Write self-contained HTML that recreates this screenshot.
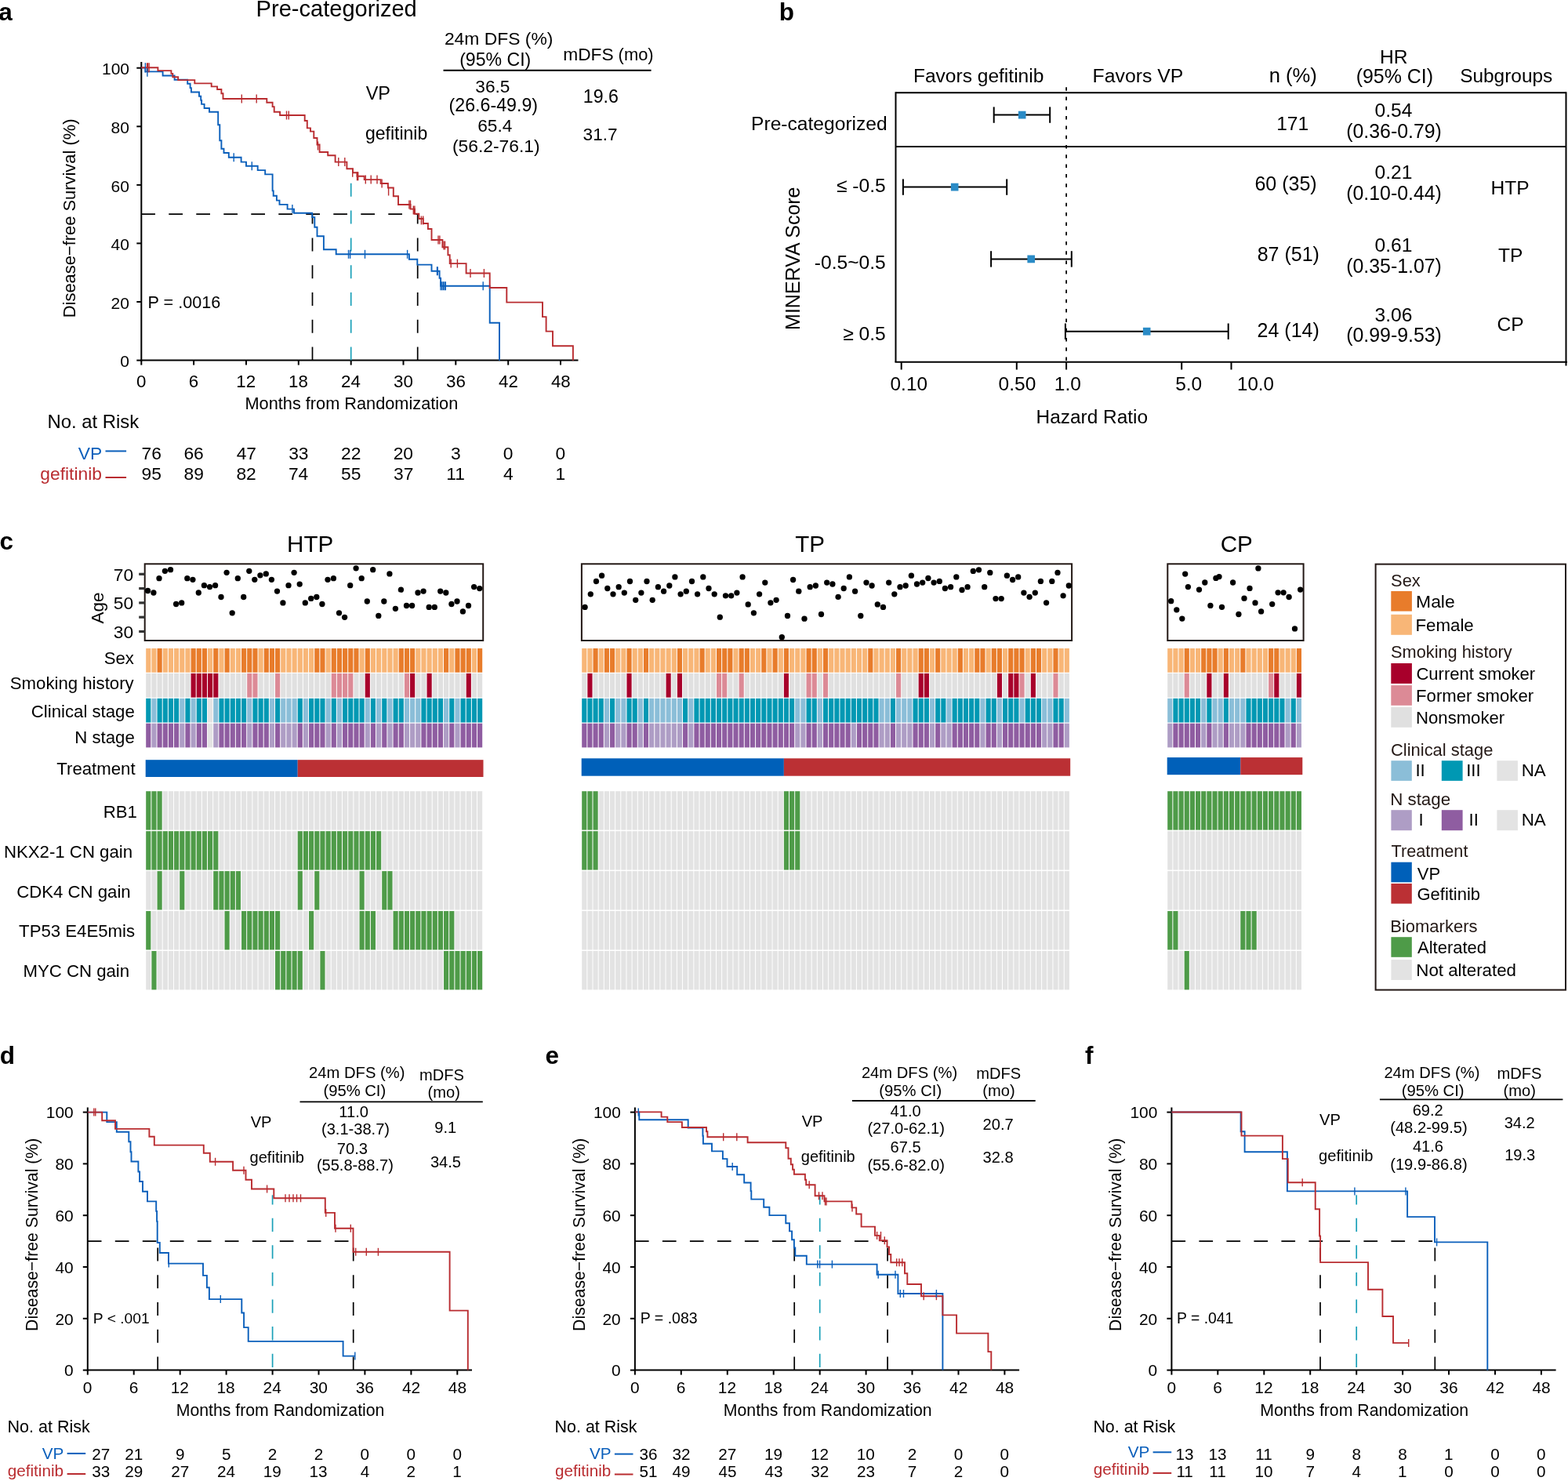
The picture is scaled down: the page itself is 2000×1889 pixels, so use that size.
<!DOCTYPE html>
<html><head><meta charset="utf-8"><title>Figure</title>
<style>html,body{margin:0;padding:0;background:#fff;}svg{display:block;}</style>
</head><body>
<svg width="2000" height="1889" viewBox="0 0 2000 1889" font-family='"Liberation Sans", Arial, sans-serif'>
<rect width="2000" height="1889" fill="#fff"/>
<text x="-1.8" y="25.5" font-size="31.5" font-weight="bold">a</text>
<text x="326.6" y="20.5" font-size="29.07">Pre-categorized</text>
<line x1="180.3" y1="79.0" x2="180.3" y2="460.5" stroke="#000" stroke-width="2"/>
<line x1="179.4" y1="459.6" x2="737.5" y2="459.6" stroke="#000" stroke-width="2"/>
<line x1="174.3" y1="459.6" x2="180.3" y2="459.6" stroke="#000" stroke-width="2"/>
<text x="153.3" y="468.3" font-size="21">0</text>
<line x1="174.3" y1="385.0" x2="180.3" y2="385.0" stroke="#000" stroke-width="2"/>
<text x="141.6" y="393.7" font-size="21">20</text>
<line x1="174.3" y1="310.4" x2="180.3" y2="310.4" stroke="#000" stroke-width="2"/>
<text x="141.6" y="319.1" font-size="21">40</text>
<line x1="174.3" y1="235.9" x2="180.3" y2="235.9" stroke="#000" stroke-width="2"/>
<text x="141.6" y="244.6" font-size="21">60</text>
<line x1="174.3" y1="161.3" x2="180.3" y2="161.3" stroke="#000" stroke-width="2"/>
<text x="141.6" y="170.0" font-size="21">80</text>
<line x1="174.3" y1="86.7" x2="180.3" y2="86.7" stroke="#000" stroke-width="2"/>
<text x="130.0" y="95.4" font-size="21">100</text>
<line x1="180.3" y1="459.6" x2="180.3" y2="465.6" stroke="#000" stroke-width="2"/>
<text x="174.1" y="494.4" font-size="22.3">0</text>
<line x1="247.1" y1="459.6" x2="247.1" y2="465.6" stroke="#000" stroke-width="2"/>
<text x="240.8" y="494.4" font-size="22.3">6</text>
<line x1="314.0" y1="459.6" x2="314.0" y2="465.6" stroke="#000" stroke-width="2"/>
<text x="301.3" y="494.4" font-size="22.3">12</text>
<line x1="380.8" y1="459.6" x2="380.8" y2="465.6" stroke="#000" stroke-width="2"/>
<text x="368.1" y="494.4" font-size="22.3">18</text>
<line x1="447.7" y1="459.6" x2="447.7" y2="465.6" stroke="#000" stroke-width="2"/>
<text x="435.1" y="494.4" font-size="22.3">24</text>
<line x1="514.5" y1="459.6" x2="514.5" y2="465.6" stroke="#000" stroke-width="2"/>
<text x="502.1" y="494.4" font-size="22.3">30</text>
<line x1="581.3" y1="459.6" x2="581.3" y2="465.6" stroke="#000" stroke-width="2"/>
<text x="569.0" y="494.4" font-size="22.3">36</text>
<line x1="648.2" y1="459.6" x2="648.2" y2="465.6" stroke="#000" stroke-width="2"/>
<text x="636.1" y="494.4" font-size="22.3">42</text>
<line x1="715.0" y1="459.6" x2="715.0" y2="465.6" stroke="#000" stroke-width="2"/>
<text x="702.9" y="494.4" font-size="22.3">48</text>
<text x="312.5" y="521.8" font-size="21.74">Months from Randomization</text>
<text x="96.0" y="278.4" font-size="21.9" text-anchor="middle" transform="rotate(-90 96.0 278.4)">Disease−free Survival (%)</text>
<text x="188.5" y="393.0" font-size="21.61">P = .0016</text>
<line x1="180.3" y1="273.1" x2="532.7" y2="273.1" stroke="#000" stroke-width="1.7" stroke-dasharray="17.7 17.3"/>
<line x1="398.5" y1="459.6" x2="398.5" y2="273.1" stroke="#000" stroke-width="1.7" stroke-dasharray="17 17.8"/>
<line x1="532.7" y1="459.6" x2="532.7" y2="273.1" stroke="#000" stroke-width="1.7" stroke-dasharray="17 17.8"/>
<line x1="447.7" y1="459.6" x2="447.7" y2="232.5" stroke="#1aa0b8" stroke-width="1.7" stroke-dasharray="17 17.8"/>
<path d="M180.3 86.6H185.4V91.4H207.6V96.5H222.6V101.7H239.2V106.8H242.6V112.1H243.9V117.5H254.0V122.8H256.2V127.9H257.1V132.9H260.6V138.0H267.0V142.8H278.2V159.2H280.3V179.2H282.4V189.7H285.5V195.0H291.8V200.7H307.6V206.6H314.0V211.8H328.7V217.1H338.2V222.4H347.6V243.4H348.7V249.7H352.9V255.6H356.5V260.9H366.6V266.6H375.0V271.8H398.2V277.1H401.3V289.7H404.5V301.3H412.9V318.2H428.7V324.3H521.9V330.7H532.3V337.6H550.5V345.7H560.6V354.7H562.1V364.7H624.7V411.8H637.0V459.7" stroke="#0a5fbb" stroke-width="1.9" fill="none"/>
<path d="M180.3 86.2H201.4V90.1H218.4V93.9H220.3V98.3H227.2V102.1H248.3V106.4H269.7V110.4H277.1V114.0H282.4V119.2H284.5V126.0H340.3V130.8H347.6V136.1H349.7V142.8H357.1V147.0H388.7V154.0H391.8V163.4H396.0V167.6H400.3V176.0H404.5V184.5H407.6V194.0H418.2V198.2H427.6V206.6H442.4V215.3H450.0V220.2H455.5V224.8H464.7V229.1H485.6V234.0H494.9V239.5H501.8V250.3H508.0V261.0H523.5V266.6H528.9V272.7H534.3V279.0H539.7V285.0H545.9V292.0H550.5V306.0H564.4V315.2H571.4V325.3H573.7V336.1H594.6V348.5H624.7V367.0H646.3V385.6H692.0V404.1H696.6V422.6H705.0V441.2H730.9V459.7" stroke="#b92c30" stroke-width="1.9" fill="none"/>
<line x1="187.6" y1="80.3" x2="187.6" y2="92.3" stroke="#b92c30" stroke-width="1.4"/>
<line x1="188.5" y1="80.3" x2="188.5" y2="92.3" stroke="#b92c30" stroke-width="1.4"/>
<line x1="190.1" y1="80.3" x2="190.1" y2="92.3" stroke="#b92c30" stroke-width="1.4"/>
<line x1="308.3" y1="120.5" x2="308.3" y2="131.5" stroke="#b92c30" stroke-width="1.4"/>
<line x1="327.2" y1="120.5" x2="327.2" y2="131.5" stroke="#b92c30" stroke-width="1.4"/>
<line x1="365.5" y1="141.5" x2="365.5" y2="152.5" stroke="#b92c30" stroke-width="1.4"/>
<line x1="368.3" y1="141.5" x2="368.3" y2="152.5" stroke="#b92c30" stroke-width="1.4"/>
<line x1="405.5" y1="180.5" x2="405.5" y2="191.5" stroke="#b92c30" stroke-width="1.4"/>
<line x1="431.8" y1="201.1" x2="431.8" y2="212.1" stroke="#b92c30" stroke-width="1.4"/>
<line x1="439.8" y1="201.1" x2="439.8" y2="212.1" stroke="#b92c30" stroke-width="1.4"/>
<line x1="449.7" y1="214.7" x2="449.7" y2="225.7" stroke="#b92c30" stroke-width="1.4"/>
<line x1="455.5" y1="219.3" x2="455.5" y2="230.3" stroke="#b92c30" stroke-width="1.4"/>
<line x1="456.7" y1="219.3" x2="456.7" y2="230.3" stroke="#b92c30" stroke-width="1.4"/>
<line x1="466.3" y1="223.6" x2="466.3" y2="234.6" stroke="#b92c30" stroke-width="1.4"/>
<line x1="473.2" y1="223.6" x2="473.2" y2="234.6" stroke="#b92c30" stroke-width="1.4"/>
<line x1="481.0" y1="223.6" x2="481.0" y2="234.6" stroke="#b92c30" stroke-width="1.4"/>
<line x1="487.1" y1="228.5" x2="487.1" y2="239.5" stroke="#b92c30" stroke-width="1.4"/>
<line x1="495.6" y1="238.5" x2="495.6" y2="249.5" stroke="#b92c30" stroke-width="1.4"/>
<line x1="521.9" y1="255.5" x2="521.9" y2="266.5" stroke="#b92c30" stroke-width="1.4"/>
<line x1="523.5" y1="255.5" x2="523.5" y2="266.5" stroke="#b92c30" stroke-width="1.4"/>
<line x1="527.3" y1="262.5" x2="527.3" y2="273.5" stroke="#b92c30" stroke-width="1.4"/>
<line x1="528.9" y1="262.5" x2="528.9" y2="273.5" stroke="#b92c30" stroke-width="1.4"/>
<line x1="537.4" y1="275.5" x2="537.4" y2="286.5" stroke="#b92c30" stroke-width="1.4"/>
<line x1="539.7" y1="275.5" x2="539.7" y2="286.5" stroke="#b92c30" stroke-width="1.4"/>
<line x1="559.0" y1="300.5" x2="559.0" y2="311.5" stroke="#b92c30" stroke-width="1.4"/>
<line x1="560.9" y1="300.5" x2="560.9" y2="311.5" stroke="#b92c30" stroke-width="1.4"/>
<line x1="566.0" y1="307.5" x2="566.0" y2="318.5" stroke="#b92c30" stroke-width="1.4"/>
<line x1="567.5" y1="307.5" x2="567.5" y2="318.5" stroke="#b92c30" stroke-width="1.4"/>
<line x1="575.2" y1="330.6" x2="575.2" y2="341.6" stroke="#b92c30" stroke-width="1.4"/>
<line x1="583.4" y1="330.6" x2="583.4" y2="341.6" stroke="#b92c30" stroke-width="1.4"/>
<line x1="600.0" y1="343.0" x2="600.0" y2="354.0" stroke="#b92c30" stroke-width="1.4"/>
<line x1="617.4" y1="343.0" x2="617.4" y2="354.0" stroke="#b92c30" stroke-width="1.4"/>
<line x1="185.4" y1="80.2" x2="185.4" y2="92.6" stroke="#0a5fbb" stroke-width="1.4"/>
<line x1="187.9" y1="87.3" x2="187.9" y2="97.7" stroke="#0a5fbb" stroke-width="1.4"/>
<line x1="298.2" y1="195.2" x2="298.2" y2="206.2" stroke="#0a5fbb" stroke-width="1.4"/>
<line x1="321.3" y1="206.3" x2="321.3" y2="217.3" stroke="#0a5fbb" stroke-width="1.4"/>
<line x1="372.9" y1="261.1" x2="372.9" y2="272.1" stroke="#0a5fbb" stroke-width="1.4"/>
<line x1="444.5" y1="318.8" x2="444.5" y2="329.8" stroke="#0a5fbb" stroke-width="1.4"/>
<line x1="446.6" y1="318.8" x2="446.6" y2="329.8" stroke="#0a5fbb" stroke-width="1.4"/>
<line x1="465.5" y1="318.8" x2="465.5" y2="329.8" stroke="#0a5fbb" stroke-width="1.4"/>
<line x1="519.6" y1="318.8" x2="519.6" y2="329.8" stroke="#0a5fbb" stroke-width="1.4"/>
<line x1="557.5" y1="340.2" x2="557.5" y2="351.2" stroke="#0a5fbb" stroke-width="1.4"/>
<line x1="558.2" y1="340.2" x2="558.2" y2="351.2" stroke="#0a5fbb" stroke-width="1.4"/>
<line x1="562.1" y1="359.2" x2="562.1" y2="370.2" stroke="#0a5fbb" stroke-width="1.4"/>
<line x1="563.8" y1="359.2" x2="563.8" y2="370.2" stroke="#0a5fbb" stroke-width="1.4"/>
<line x1="565.4" y1="359.2" x2="565.4" y2="370.2" stroke="#0a5fbb" stroke-width="1.4"/>
<line x1="567.0" y1="359.2" x2="567.0" y2="370.2" stroke="#0a5fbb" stroke-width="1.4"/>
<line x1="568.3" y1="359.2" x2="568.3" y2="370.2" stroke="#0a5fbb" stroke-width="1.4"/>
<line x1="616.2" y1="359.2" x2="616.2" y2="370.2" stroke="#0a5fbb" stroke-width="1.4"/>
<text x="566.9" y="57.4" font-size="22.88">24m DFS (%)</text>
<text x="586.2" y="83.6" font-size="23.09">(95% CI)</text>
<text x="718.2" y="77.4" font-size="22.79">mDFS</text>
<text x="788.6" y="77.4" font-size="21.92">(mo)</text>
<line x1="565.5" y1="89.8" x2="830.6" y2="89.8" stroke="#000" stroke-width="1.9"/>
<text x="466.7" y="127.0" font-size="23.53">VP</text>
<text x="606.3" y="117.7" font-size="22.68">36.5</text>
<text x="572.6" y="142.4" font-size="23.19">(26.6-49.9)</text>
<text x="743.8" y="131.0" font-size="23.17">19.6</text>
<text x="465.9" y="177.5" font-size="23.03">gefitinib</text>
<text x="609.2" y="168.0" font-size="22.68">65.4</text>
<text x="576.9" y="193.6" font-size="22.85">(56.2-76.1)</text>
<text x="743.6" y="178.6" font-size="22.59">31.7</text>
<text x="60.5" y="545.6" font-size="23.87">No. at Risk</text>
<text x="99.7" y="585.9" font-size="22.8" fill="#0a5fbb">VP</text>
<line x1="134.5" y1="575.4" x2="161.1" y2="575.4" stroke="#0a5fbb" stroke-width="2"/>
<text x="51.3" y="611.7" font-size="22.8" fill="#b92c30">gefitinib</text>
<line x1="134.5" y1="609.0" x2="161.1" y2="609.0" stroke="#b92c30" stroke-width="2"/>
<text x="180.5" y="585.9" font-size="22.8">76</text>
<text x="180.6" y="611.7" font-size="22.8">95</text>
<text x="234.4" y="585.9" font-size="22.8">66</text>
<text x="234.5" y="611.7" font-size="22.8">89</text>
<text x="301.7" y="585.9" font-size="22.8">47</text>
<text x="301.4" y="611.7" font-size="22.8">82</text>
<text x="368.2" y="585.9" font-size="22.8">33</text>
<text x="367.9" y="611.7" font-size="22.8">74</text>
<text x="435.0" y="585.9" font-size="22.8">22</text>
<text x="435.0" y="611.7" font-size="22.8">55</text>
<text x="501.7" y="585.9" font-size="22.8">20</text>
<text x="502.0" y="611.7" font-size="22.8">37</text>
<text x="575.0" y="585.9" font-size="22.8">3</text>
<text x="569.2" y="611.7" font-size="22.8">11</text>
<text x="641.8" y="585.9" font-size="22.8">0</text>
<text x="642.0" y="611.7" font-size="22.8">4</text>
<text x="708.6" y="585.9" font-size="22.8">0</text>
<text x="708.4" y="611.7" font-size="22.8">1</text>
<text x="993.8" y="25.5" font-size="31.5" font-weight="bold">b</text>
<text x="1164.9" y="104.7" font-size="24.56">Favors gefitinib</text>
<text x="1393.6" y="104.6" font-size="24.79">Favors VP</text>
<text x="1618.7" y="104.6" font-size="25.58">n (%)</text>
<text x="1759.9" y="80.6" font-size="24.6">HR</text>
<text x="1729.7" y="105.6" font-size="24.95">(95% CI)</text>
<text x="1862.2" y="104.6" font-size="24.42">Subgroups</text>
<line x1="1142.5" y1="118.2" x2="1997.5" y2="118.2" stroke="#000" stroke-width="2"/>
<line x1="1142.5" y1="187.0" x2="1997.5" y2="187.0" stroke="#000" stroke-width="2"/>
<line x1="1142.5" y1="117.2" x2="1142.5" y2="461.8" stroke="#000" stroke-width="2"/>
<line x1="1997.5" y1="117.2" x2="1997.5" y2="466.4" stroke="#000" stroke-width="2"/>
<line x1="1141.5" y1="461.8" x2="1999.0" y2="461.8" stroke="#000" stroke-width="2"/>
<line x1="1360.1" y1="111.2" x2="1360.1" y2="461.0" stroke="#000" stroke-width="1.8" stroke-dasharray="4.5 7.8"/>
<line x1="1149.7" y1="461.8" x2="1149.7" y2="471.5" stroke="#000" stroke-width="2"/>
<line x1="1296.8" y1="461.8" x2="1296.8" y2="471.5" stroke="#000" stroke-width="2"/>
<line x1="1360.1" y1="461.8" x2="1360.1" y2="471.5" stroke="#000" stroke-width="2"/>
<line x1="1507.2" y1="461.8" x2="1507.2" y2="471.5" stroke="#000" stroke-width="2"/>
<line x1="1570.5" y1="461.8" x2="1570.5" y2="471.5" stroke="#000" stroke-width="2"/>
<text x="1135.6" y="498.2" font-size="24.33">0.10</text>
<text x="1273.6" y="498.2" font-size="24.49">0.50</text>
<text x="1344.8" y="498.2" font-size="24.53">1.0</text>
<text x="1499.2" y="498.2" font-size="24.49">5.0</text>
<text x="1578.0" y="498.2" font-size="24.14">10.0</text>
<text x="1321.5" y="540.4" font-size="24.43">Hazard Ratio</text>
<text x="1020.5" y="329.7" font-size="25" text-anchor="middle" transform="rotate(-90 1020.5 329.7)">MINERVA Score</text>
<line x1="1267.7" y1="146.6" x2="1339.2" y2="146.6" stroke="#000" stroke-width="2"/>
<line x1="1267.7" y1="136.4" x2="1267.7" y2="156.8" stroke="#000" stroke-width="2"/>
<line x1="1339.2" y1="136.4" x2="1339.2" y2="156.8" stroke="#000" stroke-width="2"/>
<rect x="1298.90" y="141.70" width="9.60" height="9.80" fill="#2a8bc6"/>
<line x1="1151.9" y1="238.6" x2="1284.2" y2="238.6" stroke="#000" stroke-width="2"/>
<line x1="1151.9" y1="228.4" x2="1151.9" y2="248.8" stroke="#000" stroke-width="2"/>
<line x1="1284.2" y1="228.4" x2="1284.2" y2="248.8" stroke="#000" stroke-width="2"/>
<rect x="1212.90" y="233.70" width="9.60" height="9.80" fill="#2a8bc6"/>
<line x1="1264.1" y1="330.4" x2="1366.8" y2="330.4" stroke="#000" stroke-width="2"/>
<line x1="1264.1" y1="320.2" x2="1264.1" y2="340.6" stroke="#000" stroke-width="2"/>
<line x1="1366.8" y1="320.2" x2="1366.8" y2="340.6" stroke="#000" stroke-width="2"/>
<rect x="1310.40" y="325.50" width="9.60" height="9.80" fill="#2a8bc6"/>
<line x1="1358.9" y1="422.7" x2="1566.7" y2="422.7" stroke="#000" stroke-width="2"/>
<line x1="1358.9" y1="412.5" x2="1358.9" y2="432.9" stroke="#000" stroke-width="2"/>
<line x1="1566.7" y1="412.5" x2="1566.7" y2="432.9" stroke="#000" stroke-width="2"/>
<rect x="1457.90" y="417.80" width="9.60" height="9.80" fill="#2a8bc6"/>
<text x="958.1" y="166.3" font-size="24.6">Pre-categorized</text>
<text x="1067.0" y="245.4" font-size="24.6">≤ -0.5</text>
<text x="1038.8" y="342.7" font-size="24.6">-0.5~0.5</text>
<text x="1075.2" y="433.8" font-size="24.6">≥ 0.5</text>
<text x="1628.2" y="166.4" font-size="24.6">171</text>
<text x="1600.4" y="243.0" font-size="25.04">60 (35)</text>
<text x="1603.7" y="333.0" font-size="25.0">87 (51)</text>
<text x="1603.5" y="429.9" font-size="25.04">24 (14)</text>
<text x="1753.5" y="149.3" font-size="24.6">0.54</text>
<text x="1717.2" y="175.9" font-size="24.88">(0.36-0.79)</text>
<text x="1753.6" y="228.3" font-size="24.6">0.21</text>
<text x="1717.2" y="254.9" font-size="24.88">(0.10-0.44)</text>
<text x="1753.6" y="321.2" font-size="24.6">0.61</text>
<text x="1717.2" y="347.8" font-size="24.88">(0.35-1.07)</text>
<text x="1753.6" y="409.6" font-size="24.6">3.06</text>
<text x="1717.2" y="436.2" font-size="24.88">(0.99-9.53)</text>
<text x="1901.4" y="247.6" font-size="24.6">HTP</text>
<text x="1911.1" y="333.7" font-size="24.6">TP</text>
<text x="1909.4" y="422.0" font-size="24.6">CP</text>
<text x="-0.5" y="701.3" font-size="31.5" font-weight="bold">c</text>
<text x="366.1" y="703.5" font-size="29.6">HTP</text>
<text x="1014.2" y="703.5" font-size="29.6">TP</text>
<text x="1556.7" y="703.5" font-size="29.6">CP</text>
<rect x="184.7" y="719.3" width="431.5" height="97.7" fill="none" stroke="#231815" stroke-width="2"/>
<circle cx="188.5" cy="753.5" r="3.65" fill="#000"/>
<circle cx="195.9" cy="756.0" r="3.65" fill="#000"/>
<circle cx="203.0" cy="737.7" r="3.65" fill="#000"/>
<circle cx="210.4" cy="728.3" r="3.65" fill="#000"/>
<circle cx="217.5" cy="726.7" r="3.65" fill="#000"/>
<circle cx="224.6" cy="770.5" r="3.65" fill="#000"/>
<circle cx="231.7" cy="768.9" r="3.65" fill="#000"/>
<circle cx="238.8" cy="737.7" r="3.65" fill="#000"/>
<circle cx="245.9" cy="739.3" r="3.65" fill="#000"/>
<circle cx="253.3" cy="756.0" r="3.65" fill="#000"/>
<circle cx="260.4" cy="746.7" r="3.65" fill="#000"/>
<circle cx="267.5" cy="748.6" r="3.65" fill="#000"/>
<circle cx="274.6" cy="746.7" r="3.65" fill="#000"/>
<circle cx="282.0" cy="761.5" r="3.65" fill="#000"/>
<circle cx="289.1" cy="730.3" r="3.65" fill="#000"/>
<circle cx="296.2" cy="781.8" r="3.65" fill="#000"/>
<circle cx="303.3" cy="737.7" r="3.65" fill="#000"/>
<circle cx="310.7" cy="761.5" r="3.65" fill="#000"/>
<circle cx="317.8" cy="728.3" r="3.65" fill="#000"/>
<circle cx="324.8" cy="739.3" r="3.65" fill="#000"/>
<circle cx="331.9" cy="733.8" r="3.65" fill="#000"/>
<circle cx="339.3" cy="731.9" r="3.65" fill="#000"/>
<circle cx="346.4" cy="739.3" r="3.65" fill="#000"/>
<circle cx="353.5" cy="754.1" r="3.65" fill="#000"/>
<circle cx="360.9" cy="768.9" r="3.65" fill="#000"/>
<circle cx="368.0" cy="746.7" r="3.65" fill="#000"/>
<circle cx="375.1" cy="730.3" r="3.65" fill="#000"/>
<circle cx="382.2" cy="745.1" r="3.65" fill="#000"/>
<circle cx="389.3" cy="768.9" r="3.65" fill="#000"/>
<circle cx="396.7" cy="763.4" r="3.65" fill="#000"/>
<circle cx="403.8" cy="761.5" r="3.65" fill="#000"/>
<circle cx="410.9" cy="770.5" r="3.65" fill="#000"/>
<circle cx="418.0" cy="739.3" r="3.65" fill="#000"/>
<circle cx="425.4" cy="737.7" r="3.65" fill="#000"/>
<circle cx="432.5" cy="781.8" r="3.65" fill="#000"/>
<circle cx="439.6" cy="787.3" r="3.65" fill="#000"/>
<circle cx="446.7" cy="746.7" r="3.65" fill="#000"/>
<circle cx="454.1" cy="724.8" r="3.65" fill="#000"/>
<circle cx="461.2" cy="737.7" r="3.65" fill="#000"/>
<circle cx="468.3" cy="767.0" r="3.65" fill="#000"/>
<circle cx="475.7" cy="726.7" r="3.65" fill="#000"/>
<circle cx="482.8" cy="785.4" r="3.65" fill="#000"/>
<circle cx="489.8" cy="767.0" r="3.65" fill="#000"/>
<circle cx="496.9" cy="731.9" r="3.65" fill="#000"/>
<circle cx="504.4" cy="776.3" r="3.65" fill="#000"/>
<circle cx="511.4" cy="752.2" r="3.65" fill="#000"/>
<circle cx="518.5" cy="772.5" r="3.65" fill="#000"/>
<circle cx="525.6" cy="772.5" r="3.65" fill="#000"/>
<circle cx="533.0" cy="756.0" r="3.65" fill="#000"/>
<circle cx="540.1" cy="754.1" r="3.65" fill="#000"/>
<circle cx="547.2" cy="774.4" r="3.65" fill="#000"/>
<circle cx="554.3" cy="774.4" r="3.65" fill="#000"/>
<circle cx="561.7" cy="754.1" r="3.65" fill="#000"/>
<circle cx="568.8" cy="756.0" r="3.65" fill="#000"/>
<circle cx="575.9" cy="770.5" r="3.65" fill="#000"/>
<circle cx="583.0" cy="767.0" r="3.65" fill="#000"/>
<circle cx="590.4" cy="779.9" r="3.65" fill="#000"/>
<circle cx="597.5" cy="772.5" r="3.65" fill="#000"/>
<circle cx="604.6" cy="748.6" r="3.65" fill="#000"/>
<circle cx="611.7" cy="750.6" r="3.65" fill="#000"/>
<rect x="741.9" y="719.3" width="625.2" height="97.7" fill="none" stroke="#231815" stroke-width="2"/>
<circle cx="746.1" cy="774.4" r="3.65" fill="#000"/>
<circle cx="753.3" cy="757.8" r="3.65" fill="#000"/>
<circle cx="760.5" cy="741.5" r="3.65" fill="#000"/>
<circle cx="767.6" cy="734.2" r="3.65" fill="#000"/>
<circle cx="774.8" cy="750.5" r="3.65" fill="#000"/>
<circle cx="782.0" cy="757.8" r="3.65" fill="#000"/>
<circle cx="789.2" cy="748.7" r="3.65" fill="#000"/>
<circle cx="796.3" cy="756.1" r="3.65" fill="#000"/>
<circle cx="803.5" cy="741.5" r="3.65" fill="#000"/>
<circle cx="810.7" cy="765.3" r="3.65" fill="#000"/>
<circle cx="817.9" cy="756.1" r="3.65" fill="#000"/>
<circle cx="825.0" cy="741.5" r="3.65" fill="#000"/>
<circle cx="832.2" cy="765.3" r="3.65" fill="#000"/>
<circle cx="839.4" cy="748.7" r="3.65" fill="#000"/>
<circle cx="846.6" cy="754.2" r="3.65" fill="#000"/>
<circle cx="853.8" cy="747.0" r="3.65" fill="#000"/>
<circle cx="860.9" cy="735.9" r="3.65" fill="#000"/>
<circle cx="868.1" cy="757.8" r="3.65" fill="#000"/>
<circle cx="875.3" cy="754.2" r="3.65" fill="#000"/>
<circle cx="882.5" cy="741.5" r="3.65" fill="#000"/>
<circle cx="889.6" cy="757.8" r="3.65" fill="#000"/>
<circle cx="896.8" cy="735.9" r="3.65" fill="#000"/>
<circle cx="904.0" cy="750.5" r="3.65" fill="#000"/>
<circle cx="911.2" cy="757.8" r="3.65" fill="#000"/>
<circle cx="918.3" cy="787.2" r="3.65" fill="#000"/>
<circle cx="925.5" cy="759.8" r="3.65" fill="#000"/>
<circle cx="932.7" cy="759.8" r="3.65" fill="#000"/>
<circle cx="939.9" cy="756.1" r="3.65" fill="#000"/>
<circle cx="947.1" cy="735.9" r="3.65" fill="#000"/>
<circle cx="954.2" cy="770.9" r="3.65" fill="#000"/>
<circle cx="961.4" cy="781.8" r="3.65" fill="#000"/>
<circle cx="968.6" cy="757.8" r="3.65" fill="#000"/>
<circle cx="975.8" cy="743.1" r="3.65" fill="#000"/>
<circle cx="982.9" cy="768.8" r="3.65" fill="#000"/>
<circle cx="990.1" cy="765.3" r="3.65" fill="#000"/>
<circle cx="997.3" cy="812.7" r="3.65" fill="#000"/>
<circle cx="1004.5" cy="785.5" r="3.65" fill="#000"/>
<circle cx="1011.6" cy="739.5" r="3.65" fill="#000"/>
<circle cx="1018.8" cy="754.2" r="3.65" fill="#000"/>
<circle cx="1026.0" cy="789.2" r="3.65" fill="#000"/>
<circle cx="1033.2" cy="748.7" r="3.65" fill="#000"/>
<circle cx="1040.4" cy="747.0" r="3.65" fill="#000"/>
<circle cx="1047.5" cy="783.5" r="3.65" fill="#000"/>
<circle cx="1054.7" cy="743.1" r="3.65" fill="#000"/>
<circle cx="1061.9" cy="745.0" r="3.65" fill="#000"/>
<circle cx="1069.1" cy="761.4" r="3.65" fill="#000"/>
<circle cx="1076.2" cy="750.5" r="3.65" fill="#000"/>
<circle cx="1083.4" cy="735.9" r="3.65" fill="#000"/>
<circle cx="1090.6" cy="754.2" r="3.65" fill="#000"/>
<circle cx="1097.8" cy="785.5" r="3.65" fill="#000"/>
<circle cx="1105.0" cy="743.1" r="3.65" fill="#000"/>
<circle cx="1112.1" cy="747.0" r="3.65" fill="#000"/>
<circle cx="1119.3" cy="770.9" r="3.65" fill="#000"/>
<circle cx="1126.5" cy="774.4" r="3.65" fill="#000"/>
<circle cx="1133.7" cy="743.1" r="3.65" fill="#000"/>
<circle cx="1140.8" cy="757.8" r="3.65" fill="#000"/>
<circle cx="1148.0" cy="748.7" r="3.65" fill="#000"/>
<circle cx="1155.2" cy="747.0" r="3.65" fill="#000"/>
<circle cx="1162.4" cy="734.2" r="3.65" fill="#000"/>
<circle cx="1169.5" cy="745.0" r="3.65" fill="#000"/>
<circle cx="1176.7" cy="743.1" r="3.65" fill="#000"/>
<circle cx="1183.9" cy="737.5" r="3.65" fill="#000"/>
<circle cx="1191.1" cy="743.1" r="3.65" fill="#000"/>
<circle cx="1198.3" cy="741.4" r="3.65" fill="#000"/>
<circle cx="1205.4" cy="750.5" r="3.65" fill="#000"/>
<circle cx="1212.6" cy="748.7" r="3.65" fill="#000"/>
<circle cx="1219.8" cy="735.9" r="3.65" fill="#000"/>
<circle cx="1227.0" cy="752.5" r="3.65" fill="#000"/>
<circle cx="1234.1" cy="748.7" r="3.65" fill="#000"/>
<circle cx="1241.3" cy="728.4" r="3.65" fill="#000"/>
<circle cx="1248.5" cy="726.8" r="3.65" fill="#000"/>
<circle cx="1255.7" cy="748.7" r="3.65" fill="#000"/>
<circle cx="1262.8" cy="730.4" r="3.65" fill="#000"/>
<circle cx="1270.0" cy="763.6" r="3.65" fill="#000"/>
<circle cx="1277.2" cy="763.6" r="3.65" fill="#000"/>
<circle cx="1284.4" cy="734.2" r="3.65" fill="#000"/>
<circle cx="1291.6" cy="739.5" r="3.65" fill="#000"/>
<circle cx="1298.7" cy="735.9" r="3.65" fill="#000"/>
<circle cx="1305.9" cy="756.1" r="3.65" fill="#000"/>
<circle cx="1313.1" cy="761.4" r="3.65" fill="#000"/>
<circle cx="1320.3" cy="756.1" r="3.65" fill="#000"/>
<circle cx="1327.4" cy="741.4" r="3.65" fill="#000"/>
<circle cx="1334.6" cy="768.8" r="3.65" fill="#000"/>
<circle cx="1341.8" cy="741.4" r="3.65" fill="#000"/>
<circle cx="1349.0" cy="730.4" r="3.65" fill="#000"/>
<circle cx="1356.1" cy="759.8" r="3.65" fill="#000"/>
<circle cx="1363.3" cy="747.0" r="3.65" fill="#000"/>
<rect x="1489.3" y="719.3" width="173.3" height="97.7" fill="none" stroke="#231815" stroke-width="2"/>
<circle cx="1493.7" cy="766.7" r="3.65" fill="#000"/>
<circle cx="1500.8" cy="777.8" r="3.65" fill="#000"/>
<circle cx="1507.8" cy="789.1" r="3.65" fill="#000"/>
<circle cx="1511.7" cy="732.1" r="3.65" fill="#000"/>
<circle cx="1515.4" cy="748.6" r="3.65" fill="#000"/>
<circle cx="1529.5" cy="752.1" r="3.65" fill="#000"/>
<circle cx="1536.8" cy="743.0" r="3.65" fill="#000"/>
<circle cx="1543.9" cy="772.4" r="3.65" fill="#000"/>
<circle cx="1550.9" cy="737.4" r="3.65" fill="#000"/>
<circle cx="1555.0" cy="735.6" r="3.65" fill="#000"/>
<circle cx="1558.5" cy="774.3" r="3.65" fill="#000"/>
<circle cx="1572.6" cy="743.0" r="3.65" fill="#000"/>
<circle cx="1579.9" cy="783.5" r="3.65" fill="#000"/>
<circle cx="1587.0" cy="763.2" r="3.65" fill="#000"/>
<circle cx="1594.0" cy="750.4" r="3.65" fill="#000"/>
<circle cx="1601.0" cy="768.9" r="3.65" fill="#000"/>
<circle cx="1604.9" cy="724.9" r="3.65" fill="#000"/>
<circle cx="1608.6" cy="779.9" r="3.65" fill="#000"/>
<circle cx="1622.7" cy="770.6" r="3.65" fill="#000"/>
<circle cx="1630.1" cy="755.8" r="3.65" fill="#000"/>
<circle cx="1637.1" cy="755.8" r="3.65" fill="#000"/>
<circle cx="1644.1" cy="761.5" r="3.65" fill="#000"/>
<circle cx="1651.5" cy="801.9" r="3.65" fill="#000"/>
<circle cx="1658.6" cy="752.1" r="3.65" fill="#000"/>
<line x1="177.2" y1="805.5" x2="184.7" y2="805.5" stroke="#333" stroke-width="3.2"/>
<line x1="177.2" y1="787.2" x2="184.7" y2="787.2" stroke="#333" stroke-width="3.2"/>
<line x1="177.2" y1="768.9" x2="184.7" y2="768.9" stroke="#333" stroke-width="3.2"/>
<line x1="177.2" y1="750.6" x2="184.7" y2="750.6" stroke="#333" stroke-width="3.2"/>
<line x1="177.2" y1="732.3" x2="184.7" y2="732.3" stroke="#333" stroke-width="3.2"/>
<text x="144.8" y="813.7" font-size="22.8">30</text>
<text x="144.8" y="777.1" font-size="22.8">50</text>
<text x="144.8" y="740.5" font-size="22.8">70</text>
<text x="131.5" y="775.5" font-size="22.5" text-anchor="middle" transform="rotate(-90 131.5 775.5)">Age</text>
<text x="132.7" y="846.9" font-size="22.2">Sex</text>
<text x="12.8" y="879.1" font-size="22.2">Smoking history</text>
<text x="39.8" y="914.6" font-size="22.2">Clinical stage</text>
<text x="95.3" y="948.4" font-size="22.2">N stage</text>
<text x="72.3" y="988.0" font-size="22.2">Treatment</text>
<text x="131.8" y="1043.2" font-size="22.2">RB1</text>
<text x="5.0" y="1093.8" font-size="22.2">NKX2-1 CN gain</text>
<text x="21.2" y="1144.7" font-size="22.2">CDK4 CN gain</text>
<text x="24.1" y="1194.6" font-size="22.2">TP53 E4E5mis</text>
<text x="29.5" y="1246.2" font-size="22.2">MYC CN gain</text>
<rect x="186.20" y="827.00" width="6.17" height="30.70" fill="#f8b677"/>
<rect x="193.37" y="827.00" width="6.17" height="30.70" fill="#f8b677"/>
<rect x="200.53" y="827.00" width="6.17" height="30.70" fill="#e87c2b"/>
<rect x="207.70" y="827.00" width="6.17" height="30.70" fill="#f8b677"/>
<rect x="214.87" y="827.00" width="6.17" height="30.70" fill="#f8b677"/>
<rect x="222.03" y="827.00" width="6.17" height="30.70" fill="#f8b677"/>
<rect x="229.20" y="827.00" width="6.17" height="30.70" fill="#f8b677"/>
<rect x="236.37" y="827.00" width="6.17" height="30.70" fill="#f8b677"/>
<rect x="243.53" y="827.00" width="6.17" height="30.70" fill="#e87c2b"/>
<rect x="250.70" y="827.00" width="6.17" height="30.70" fill="#e87c2b"/>
<rect x="257.87" y="827.00" width="6.17" height="30.70" fill="#e87c2b"/>
<rect x="265.03" y="827.00" width="6.17" height="30.70" fill="#f8b677"/>
<rect x="272.20" y="827.00" width="6.17" height="30.70" fill="#e87c2b"/>
<rect x="279.37" y="827.00" width="6.17" height="30.70" fill="#f8b677"/>
<rect x="286.53" y="827.00" width="6.17" height="30.70" fill="#e87c2b"/>
<rect x="293.70" y="827.00" width="6.17" height="30.70" fill="#f8b677"/>
<rect x="300.87" y="827.00" width="6.17" height="30.70" fill="#f8b677"/>
<rect x="308.03" y="827.00" width="6.17" height="30.70" fill="#e87c2b"/>
<rect x="315.20" y="827.00" width="6.17" height="30.70" fill="#e87c2b"/>
<rect x="322.37" y="827.00" width="6.17" height="30.70" fill="#e87c2b"/>
<rect x="329.53" y="827.00" width="6.17" height="30.70" fill="#f8b677"/>
<rect x="336.70" y="827.00" width="6.17" height="30.70" fill="#e87c2b"/>
<rect x="343.87" y="827.00" width="6.17" height="30.70" fill="#e87c2b"/>
<rect x="351.03" y="827.00" width="6.17" height="30.70" fill="#e87c2b"/>
<rect x="358.20" y="827.00" width="6.17" height="30.70" fill="#f8b677"/>
<rect x="365.37" y="827.00" width="6.17" height="30.70" fill="#f8b677"/>
<rect x="372.53" y="827.00" width="6.17" height="30.70" fill="#f8b677"/>
<rect x="379.70" y="827.00" width="6.17" height="30.70" fill="#f8b677"/>
<rect x="386.87" y="827.00" width="6.17" height="30.70" fill="#f8b677"/>
<rect x="394.03" y="827.00" width="6.17" height="30.70" fill="#f8b677"/>
<rect x="401.20" y="827.00" width="6.17" height="30.70" fill="#e87c2b"/>
<rect x="408.37" y="827.00" width="6.17" height="30.70" fill="#e87c2b"/>
<rect x="415.53" y="827.00" width="6.17" height="30.70" fill="#f8b677"/>
<rect x="422.70" y="827.00" width="6.17" height="30.70" fill="#e87c2b"/>
<rect x="429.87" y="827.00" width="6.17" height="30.70" fill="#e87c2b"/>
<rect x="437.03" y="827.00" width="6.17" height="30.70" fill="#e87c2b"/>
<rect x="444.20" y="827.00" width="6.17" height="30.70" fill="#e87c2b"/>
<rect x="451.37" y="827.00" width="6.17" height="30.70" fill="#e87c2b"/>
<rect x="458.53" y="827.00" width="6.17" height="30.70" fill="#f8b677"/>
<rect x="465.70" y="827.00" width="6.17" height="30.70" fill="#e87c2b"/>
<rect x="472.87" y="827.00" width="6.17" height="30.70" fill="#f8b677"/>
<rect x="480.03" y="827.00" width="6.17" height="30.70" fill="#f8b677"/>
<rect x="487.20" y="827.00" width="6.17" height="30.70" fill="#f8b677"/>
<rect x="494.37" y="827.00" width="6.17" height="30.70" fill="#f8b677"/>
<rect x="501.53" y="827.00" width="6.17" height="30.70" fill="#f8b677"/>
<rect x="508.70" y="827.00" width="6.17" height="30.70" fill="#e87c2b"/>
<rect x="515.87" y="827.00" width="6.17" height="30.70" fill="#e87c2b"/>
<rect x="523.03" y="827.00" width="6.17" height="30.70" fill="#e87c2b"/>
<rect x="530.20" y="827.00" width="6.17" height="30.70" fill="#f8b677"/>
<rect x="537.37" y="827.00" width="6.17" height="30.70" fill="#f8b677"/>
<rect x="544.53" y="827.00" width="6.17" height="30.70" fill="#f8b677"/>
<rect x="551.70" y="827.00" width="6.17" height="30.70" fill="#f8b677"/>
<rect x="558.87" y="827.00" width="6.17" height="30.70" fill="#f8b677"/>
<rect x="566.03" y="827.00" width="6.17" height="30.70" fill="#e87c2b"/>
<rect x="573.20" y="827.00" width="6.17" height="30.70" fill="#f8b677"/>
<rect x="580.37" y="827.00" width="6.17" height="30.70" fill="#e87c2b"/>
<rect x="587.53" y="827.00" width="6.17" height="30.70" fill="#e87c2b"/>
<rect x="594.70" y="827.00" width="6.17" height="30.70" fill="#e87c2b"/>
<rect x="601.87" y="827.00" width="6.17" height="30.70" fill="#f8b677"/>
<rect x="609.03" y="827.00" width="6.17" height="30.70" fill="#e87c2b"/>
<rect x="186.20" y="858.90" width="6.17" height="30.70" fill="#e0e0e0"/>
<rect x="193.37" y="858.90" width="6.17" height="30.70" fill="#e0e0e0"/>
<rect x="200.53" y="858.90" width="6.17" height="30.70" fill="#e0e0e0"/>
<rect x="207.70" y="858.90" width="6.17" height="30.70" fill="#e0e0e0"/>
<rect x="214.87" y="858.90" width="6.17" height="30.70" fill="#e0e0e0"/>
<rect x="222.03" y="858.90" width="6.17" height="30.70" fill="#e0e0e0"/>
<rect x="229.20" y="858.90" width="6.17" height="30.70" fill="#e0e0e0"/>
<rect x="236.37" y="858.90" width="6.17" height="30.70" fill="#e0e0e0"/>
<rect x="243.53" y="858.90" width="6.17" height="30.70" fill="#a8002b"/>
<rect x="250.70" y="858.90" width="6.17" height="30.70" fill="#a8002b"/>
<rect x="257.87" y="858.90" width="6.17" height="30.70" fill="#a8002b"/>
<rect x="265.03" y="858.90" width="6.17" height="30.70" fill="#a8002b"/>
<rect x="272.20" y="858.90" width="6.17" height="30.70" fill="#a8002b"/>
<rect x="279.37" y="858.90" width="6.17" height="30.70" fill="#e0e0e0"/>
<rect x="286.53" y="858.90" width="6.17" height="30.70" fill="#e0e0e0"/>
<rect x="293.70" y="858.90" width="6.17" height="30.70" fill="#e0e0e0"/>
<rect x="300.87" y="858.90" width="6.17" height="30.70" fill="#e0e0e0"/>
<rect x="308.03" y="858.90" width="6.17" height="30.70" fill="#e0e0e0"/>
<rect x="315.20" y="858.90" width="6.17" height="30.70" fill="#dc8a96"/>
<rect x="322.37" y="858.90" width="6.17" height="30.70" fill="#dc8a96"/>
<rect x="329.53" y="858.90" width="6.17" height="30.70" fill="#e0e0e0"/>
<rect x="336.70" y="858.90" width="6.17" height="30.70" fill="#e0e0e0"/>
<rect x="343.87" y="858.90" width="6.17" height="30.70" fill="#e0e0e0"/>
<rect x="351.03" y="858.90" width="6.17" height="30.70" fill="#dc8a96"/>
<rect x="358.20" y="858.90" width="6.17" height="30.70" fill="#e0e0e0"/>
<rect x="365.37" y="858.90" width="6.17" height="30.70" fill="#e0e0e0"/>
<rect x="372.53" y="858.90" width="6.17" height="30.70" fill="#e0e0e0"/>
<rect x="379.70" y="858.90" width="6.17" height="30.70" fill="#e0e0e0"/>
<rect x="386.87" y="858.90" width="6.17" height="30.70" fill="#e0e0e0"/>
<rect x="394.03" y="858.90" width="6.17" height="30.70" fill="#e0e0e0"/>
<rect x="401.20" y="858.90" width="6.17" height="30.70" fill="#e0e0e0"/>
<rect x="408.37" y="858.90" width="6.17" height="30.70" fill="#e0e0e0"/>
<rect x="415.53" y="858.90" width="6.17" height="30.70" fill="#e0e0e0"/>
<rect x="422.70" y="858.90" width="6.17" height="30.70" fill="#dc8a96"/>
<rect x="429.87" y="858.90" width="6.17" height="30.70" fill="#dc8a96"/>
<rect x="437.03" y="858.90" width="6.17" height="30.70" fill="#dc8a96"/>
<rect x="444.20" y="858.90" width="6.17" height="30.70" fill="#dc8a96"/>
<rect x="451.37" y="858.90" width="6.17" height="30.70" fill="#e0e0e0"/>
<rect x="458.53" y="858.90" width="6.17" height="30.70" fill="#e0e0e0"/>
<rect x="465.70" y="858.90" width="6.17" height="30.70" fill="#a8002b"/>
<rect x="472.87" y="858.90" width="6.17" height="30.70" fill="#e0e0e0"/>
<rect x="480.03" y="858.90" width="6.17" height="30.70" fill="#e0e0e0"/>
<rect x="487.20" y="858.90" width="6.17" height="30.70" fill="#e0e0e0"/>
<rect x="494.37" y="858.90" width="6.17" height="30.70" fill="#e0e0e0"/>
<rect x="501.53" y="858.90" width="6.17" height="30.70" fill="#e0e0e0"/>
<rect x="508.70" y="858.90" width="6.17" height="30.70" fill="#e0e0e0"/>
<rect x="515.87" y="858.90" width="6.17" height="30.70" fill="#dc8a96"/>
<rect x="523.03" y="858.90" width="6.17" height="30.70" fill="#a8002b"/>
<rect x="530.20" y="858.90" width="6.17" height="30.70" fill="#e0e0e0"/>
<rect x="537.37" y="858.90" width="6.17" height="30.70" fill="#e0e0e0"/>
<rect x="544.53" y="858.90" width="6.17" height="30.70" fill="#a8002b"/>
<rect x="551.70" y="858.90" width="6.17" height="30.70" fill="#e0e0e0"/>
<rect x="558.87" y="858.90" width="6.17" height="30.70" fill="#e0e0e0"/>
<rect x="566.03" y="858.90" width="6.17" height="30.70" fill="#e0e0e0"/>
<rect x="573.20" y="858.90" width="6.17" height="30.70" fill="#e0e0e0"/>
<rect x="580.37" y="858.90" width="6.17" height="30.70" fill="#e0e0e0"/>
<rect x="587.53" y="858.90" width="6.17" height="30.70" fill="#e0e0e0"/>
<rect x="594.70" y="858.90" width="6.17" height="30.70" fill="#a8002b"/>
<rect x="601.87" y="858.90" width="6.17" height="30.70" fill="#e0e0e0"/>
<rect x="609.03" y="858.90" width="6.17" height="30.70" fill="#e0e0e0"/>
<rect x="186.20" y="890.80" width="6.17" height="30.70" fill="#0098b3"/>
<rect x="193.37" y="890.80" width="6.17" height="30.70" fill="#8bbed8"/>
<rect x="200.53" y="890.80" width="6.17" height="30.70" fill="#0098b3"/>
<rect x="207.70" y="890.80" width="6.17" height="30.70" fill="#0098b3"/>
<rect x="214.87" y="890.80" width="6.17" height="30.70" fill="#0098b3"/>
<rect x="222.03" y="890.80" width="6.17" height="30.70" fill="#0098b3"/>
<rect x="229.20" y="890.80" width="6.17" height="30.70" fill="#8bbed8"/>
<rect x="236.37" y="890.80" width="6.17" height="30.70" fill="#0098b3"/>
<rect x="243.53" y="890.80" width="6.17" height="30.70" fill="#8bbed8"/>
<rect x="250.70" y="890.80" width="6.17" height="30.70" fill="#0098b3"/>
<rect x="257.87" y="890.80" width="6.17" height="30.70" fill="#0098b3"/>
<rect x="265.03" y="890.80" width="6.17" height="30.70" fill="#e3e3e3"/>
<rect x="272.20" y="890.80" width="6.17" height="30.70" fill="#8bbed8"/>
<rect x="279.37" y="890.80" width="6.17" height="30.70" fill="#0098b3"/>
<rect x="286.53" y="890.80" width="6.17" height="30.70" fill="#0098b3"/>
<rect x="293.70" y="890.80" width="6.17" height="30.70" fill="#0098b3"/>
<rect x="300.87" y="890.80" width="6.17" height="30.70" fill="#0098b3"/>
<rect x="308.03" y="890.80" width="6.17" height="30.70" fill="#0098b3"/>
<rect x="315.20" y="890.80" width="6.17" height="30.70" fill="#8bbed8"/>
<rect x="322.37" y="890.80" width="6.17" height="30.70" fill="#0098b3"/>
<rect x="329.53" y="890.80" width="6.17" height="30.70" fill="#0098b3"/>
<rect x="336.70" y="890.80" width="6.17" height="30.70" fill="#0098b3"/>
<rect x="343.87" y="890.80" width="6.17" height="30.70" fill="#8bbed8"/>
<rect x="351.03" y="890.80" width="6.17" height="30.70" fill="#0098b3"/>
<rect x="358.20" y="890.80" width="6.17" height="30.70" fill="#8bbed8"/>
<rect x="365.37" y="890.80" width="6.17" height="30.70" fill="#8bbed8"/>
<rect x="372.53" y="890.80" width="6.17" height="30.70" fill="#8bbed8"/>
<rect x="379.70" y="890.80" width="6.17" height="30.70" fill="#0098b3"/>
<rect x="386.87" y="890.80" width="6.17" height="30.70" fill="#8bbed8"/>
<rect x="394.03" y="890.80" width="6.17" height="30.70" fill="#0098b3"/>
<rect x="401.20" y="890.80" width="6.17" height="30.70" fill="#0098b3"/>
<rect x="408.37" y="890.80" width="6.17" height="30.70" fill="#0098b3"/>
<rect x="415.53" y="890.80" width="6.17" height="30.70" fill="#8bbed8"/>
<rect x="422.70" y="890.80" width="6.17" height="30.70" fill="#0098b3"/>
<rect x="429.87" y="890.80" width="6.17" height="30.70" fill="#8bbed8"/>
<rect x="437.03" y="890.80" width="6.17" height="30.70" fill="#0098b3"/>
<rect x="444.20" y="890.80" width="6.17" height="30.70" fill="#0098b3"/>
<rect x="451.37" y="890.80" width="6.17" height="30.70" fill="#0098b3"/>
<rect x="458.53" y="890.80" width="6.17" height="30.70" fill="#0098b3"/>
<rect x="465.70" y="890.80" width="6.17" height="30.70" fill="#8bbed8"/>
<rect x="472.87" y="890.80" width="6.17" height="30.70" fill="#0098b3"/>
<rect x="480.03" y="890.80" width="6.17" height="30.70" fill="#8bbed8"/>
<rect x="487.20" y="890.80" width="6.17" height="30.70" fill="#0098b3"/>
<rect x="494.37" y="890.80" width="6.17" height="30.70" fill="#8bbed8"/>
<rect x="501.53" y="890.80" width="6.17" height="30.70" fill="#0098b3"/>
<rect x="508.70" y="890.80" width="6.17" height="30.70" fill="#0098b3"/>
<rect x="515.87" y="890.80" width="6.17" height="30.70" fill="#8bbed8"/>
<rect x="523.03" y="890.80" width="6.17" height="30.70" fill="#8bbed8"/>
<rect x="530.20" y="890.80" width="6.17" height="30.70" fill="#8bbed8"/>
<rect x="537.37" y="890.80" width="6.17" height="30.70" fill="#0098b3"/>
<rect x="544.53" y="890.80" width="6.17" height="30.70" fill="#0098b3"/>
<rect x="551.70" y="890.80" width="6.17" height="30.70" fill="#0098b3"/>
<rect x="558.87" y="890.80" width="6.17" height="30.70" fill="#0098b3"/>
<rect x="566.03" y="890.80" width="6.17" height="30.70" fill="#8bbed8"/>
<rect x="573.20" y="890.80" width="6.17" height="30.70" fill="#0098b3"/>
<rect x="580.37" y="890.80" width="6.17" height="30.70" fill="#8bbed8"/>
<rect x="587.53" y="890.80" width="6.17" height="30.70" fill="#0098b3"/>
<rect x="594.70" y="890.80" width="6.17" height="30.70" fill="#0098b3"/>
<rect x="601.87" y="890.80" width="6.17" height="30.70" fill="#0098b3"/>
<rect x="609.03" y="890.80" width="6.17" height="30.70" fill="#0098b3"/>
<rect x="186.20" y="922.70" width="6.17" height="30.70" fill="#8f5da1"/>
<rect x="193.37" y="922.70" width="6.17" height="30.70" fill="#ae9dc5"/>
<rect x="200.53" y="922.70" width="6.17" height="30.70" fill="#8f5da1"/>
<rect x="207.70" y="922.70" width="6.17" height="30.70" fill="#8f5da1"/>
<rect x="214.87" y="922.70" width="6.17" height="30.70" fill="#8f5da1"/>
<rect x="222.03" y="922.70" width="6.17" height="30.70" fill="#8f5da1"/>
<rect x="229.20" y="922.70" width="6.17" height="30.70" fill="#ae9dc5"/>
<rect x="236.37" y="922.70" width="6.17" height="30.70" fill="#8f5da1"/>
<rect x="243.53" y="922.70" width="6.17" height="30.70" fill="#ae9dc5"/>
<rect x="250.70" y="922.70" width="6.17" height="30.70" fill="#8f5da1"/>
<rect x="257.87" y="922.70" width="6.17" height="30.70" fill="#8f5da1"/>
<rect x="265.03" y="922.70" width="6.17" height="30.70" fill="#e3e3e3"/>
<rect x="272.20" y="922.70" width="6.17" height="30.70" fill="#ae9dc5"/>
<rect x="279.37" y="922.70" width="6.17" height="30.70" fill="#8f5da1"/>
<rect x="286.53" y="922.70" width="6.17" height="30.70" fill="#8f5da1"/>
<rect x="293.70" y="922.70" width="6.17" height="30.70" fill="#8f5da1"/>
<rect x="300.87" y="922.70" width="6.17" height="30.70" fill="#8f5da1"/>
<rect x="308.03" y="922.70" width="6.17" height="30.70" fill="#8f5da1"/>
<rect x="315.20" y="922.70" width="6.17" height="30.70" fill="#ae9dc5"/>
<rect x="322.37" y="922.70" width="6.17" height="30.70" fill="#8f5da1"/>
<rect x="329.53" y="922.70" width="6.17" height="30.70" fill="#8f5da1"/>
<rect x="336.70" y="922.70" width="6.17" height="30.70" fill="#8f5da1"/>
<rect x="343.87" y="922.70" width="6.17" height="30.70" fill="#ae9dc5"/>
<rect x="351.03" y="922.70" width="6.17" height="30.70" fill="#8f5da1"/>
<rect x="358.20" y="922.70" width="6.17" height="30.70" fill="#ae9dc5"/>
<rect x="365.37" y="922.70" width="6.17" height="30.70" fill="#ae9dc5"/>
<rect x="372.53" y="922.70" width="6.17" height="30.70" fill="#ae9dc5"/>
<rect x="379.70" y="922.70" width="6.17" height="30.70" fill="#8f5da1"/>
<rect x="386.87" y="922.70" width="6.17" height="30.70" fill="#ae9dc5"/>
<rect x="394.03" y="922.70" width="6.17" height="30.70" fill="#8f5da1"/>
<rect x="401.20" y="922.70" width="6.17" height="30.70" fill="#8f5da1"/>
<rect x="408.37" y="922.70" width="6.17" height="30.70" fill="#8f5da1"/>
<rect x="415.53" y="922.70" width="6.17" height="30.70" fill="#ae9dc5"/>
<rect x="422.70" y="922.70" width="6.17" height="30.70" fill="#8f5da1"/>
<rect x="429.87" y="922.70" width="6.17" height="30.70" fill="#ae9dc5"/>
<rect x="437.03" y="922.70" width="6.17" height="30.70" fill="#8f5da1"/>
<rect x="444.20" y="922.70" width="6.17" height="30.70" fill="#8f5da1"/>
<rect x="451.37" y="922.70" width="6.17" height="30.70" fill="#8f5da1"/>
<rect x="458.53" y="922.70" width="6.17" height="30.70" fill="#8f5da1"/>
<rect x="465.70" y="922.70" width="6.17" height="30.70" fill="#ae9dc5"/>
<rect x="472.87" y="922.70" width="6.17" height="30.70" fill="#8f5da1"/>
<rect x="480.03" y="922.70" width="6.17" height="30.70" fill="#ae9dc5"/>
<rect x="487.20" y="922.70" width="6.17" height="30.70" fill="#8f5da1"/>
<rect x="494.37" y="922.70" width="6.17" height="30.70" fill="#ae9dc5"/>
<rect x="501.53" y="922.70" width="6.17" height="30.70" fill="#8f5da1"/>
<rect x="508.70" y="922.70" width="6.17" height="30.70" fill="#8f5da1"/>
<rect x="515.87" y="922.70" width="6.17" height="30.70" fill="#ae9dc5"/>
<rect x="523.03" y="922.70" width="6.17" height="30.70" fill="#ae9dc5"/>
<rect x="530.20" y="922.70" width="6.17" height="30.70" fill="#ae9dc5"/>
<rect x="537.37" y="922.70" width="6.17" height="30.70" fill="#8f5da1"/>
<rect x="544.53" y="922.70" width="6.17" height="30.70" fill="#8f5da1"/>
<rect x="551.70" y="922.70" width="6.17" height="30.70" fill="#8f5da1"/>
<rect x="558.87" y="922.70" width="6.17" height="30.70" fill="#8f5da1"/>
<rect x="566.03" y="922.70" width="6.17" height="30.70" fill="#ae9dc5"/>
<rect x="573.20" y="922.70" width="6.17" height="30.70" fill="#8f5da1"/>
<rect x="580.37" y="922.70" width="6.17" height="30.70" fill="#ae9dc5"/>
<rect x="587.53" y="922.70" width="6.17" height="30.70" fill="#8f5da1"/>
<rect x="594.70" y="922.70" width="6.17" height="30.70" fill="#8f5da1"/>
<rect x="601.87" y="922.70" width="6.17" height="30.70" fill="#8f5da1"/>
<rect x="609.03" y="922.70" width="6.17" height="30.70" fill="#8f5da1"/>
<rect x="185.70" y="969.20" width="194.00" height="21.80" fill="#0060b9"/>
<rect x="379.70" y="969.20" width="236.80" height="21.80" fill="#bb3034"/>
<rect x="186.20" y="1009.20" width="6.17" height="49.40" fill="#4e9b48"/>
<rect x="193.37" y="1009.20" width="6.17" height="49.40" fill="#4e9b48"/>
<rect x="200.53" y="1009.20" width="6.17" height="49.40" fill="#4e9b48"/>
<rect x="207.70" y="1009.20" width="6.17" height="49.40" fill="#e3e3e3"/>
<rect x="214.87" y="1009.20" width="6.17" height="49.40" fill="#e3e3e3"/>
<rect x="222.03" y="1009.20" width="6.17" height="49.40" fill="#e3e3e3"/>
<rect x="229.20" y="1009.20" width="6.17" height="49.40" fill="#e3e3e3"/>
<rect x="236.37" y="1009.20" width="6.17" height="49.40" fill="#e3e3e3"/>
<rect x="243.53" y="1009.20" width="6.17" height="49.40" fill="#e3e3e3"/>
<rect x="250.70" y="1009.20" width="6.17" height="49.40" fill="#e3e3e3"/>
<rect x="257.87" y="1009.20" width="6.17" height="49.40" fill="#e3e3e3"/>
<rect x="265.03" y="1009.20" width="6.17" height="49.40" fill="#e3e3e3"/>
<rect x="272.20" y="1009.20" width="6.17" height="49.40" fill="#e3e3e3"/>
<rect x="279.37" y="1009.20" width="6.17" height="49.40" fill="#e3e3e3"/>
<rect x="286.53" y="1009.20" width="6.17" height="49.40" fill="#e3e3e3"/>
<rect x="293.70" y="1009.20" width="6.17" height="49.40" fill="#e3e3e3"/>
<rect x="300.87" y="1009.20" width="6.17" height="49.40" fill="#e3e3e3"/>
<rect x="308.03" y="1009.20" width="6.17" height="49.40" fill="#e3e3e3"/>
<rect x="315.20" y="1009.20" width="6.17" height="49.40" fill="#e3e3e3"/>
<rect x="322.37" y="1009.20" width="6.17" height="49.40" fill="#e3e3e3"/>
<rect x="329.53" y="1009.20" width="6.17" height="49.40" fill="#e3e3e3"/>
<rect x="336.70" y="1009.20" width="6.17" height="49.40" fill="#e3e3e3"/>
<rect x="343.87" y="1009.20" width="6.17" height="49.40" fill="#e3e3e3"/>
<rect x="351.03" y="1009.20" width="6.17" height="49.40" fill="#e3e3e3"/>
<rect x="358.20" y="1009.20" width="6.17" height="49.40" fill="#e3e3e3"/>
<rect x="365.37" y="1009.20" width="6.17" height="49.40" fill="#e3e3e3"/>
<rect x="372.53" y="1009.20" width="6.17" height="49.40" fill="#e3e3e3"/>
<rect x="379.70" y="1009.20" width="6.17" height="49.40" fill="#e3e3e3"/>
<rect x="386.87" y="1009.20" width="6.17" height="49.40" fill="#e3e3e3"/>
<rect x="394.03" y="1009.20" width="6.17" height="49.40" fill="#e3e3e3"/>
<rect x="401.20" y="1009.20" width="6.17" height="49.40" fill="#e3e3e3"/>
<rect x="408.37" y="1009.20" width="6.17" height="49.40" fill="#e3e3e3"/>
<rect x="415.53" y="1009.20" width="6.17" height="49.40" fill="#e3e3e3"/>
<rect x="422.70" y="1009.20" width="6.17" height="49.40" fill="#e3e3e3"/>
<rect x="429.87" y="1009.20" width="6.17" height="49.40" fill="#e3e3e3"/>
<rect x="437.03" y="1009.20" width="6.17" height="49.40" fill="#e3e3e3"/>
<rect x="444.20" y="1009.20" width="6.17" height="49.40" fill="#e3e3e3"/>
<rect x="451.37" y="1009.20" width="6.17" height="49.40" fill="#e3e3e3"/>
<rect x="458.53" y="1009.20" width="6.17" height="49.40" fill="#e3e3e3"/>
<rect x="465.70" y="1009.20" width="6.17" height="49.40" fill="#e3e3e3"/>
<rect x="472.87" y="1009.20" width="6.17" height="49.40" fill="#e3e3e3"/>
<rect x="480.03" y="1009.20" width="6.17" height="49.40" fill="#e3e3e3"/>
<rect x="487.20" y="1009.20" width="6.17" height="49.40" fill="#e3e3e3"/>
<rect x="494.37" y="1009.20" width="6.17" height="49.40" fill="#e3e3e3"/>
<rect x="501.53" y="1009.20" width="6.17" height="49.40" fill="#e3e3e3"/>
<rect x="508.70" y="1009.20" width="6.17" height="49.40" fill="#e3e3e3"/>
<rect x="515.87" y="1009.20" width="6.17" height="49.40" fill="#e3e3e3"/>
<rect x="523.03" y="1009.20" width="6.17" height="49.40" fill="#e3e3e3"/>
<rect x="530.20" y="1009.20" width="6.17" height="49.40" fill="#e3e3e3"/>
<rect x="537.37" y="1009.20" width="6.17" height="49.40" fill="#e3e3e3"/>
<rect x="544.53" y="1009.20" width="6.17" height="49.40" fill="#e3e3e3"/>
<rect x="551.70" y="1009.20" width="6.17" height="49.40" fill="#e3e3e3"/>
<rect x="558.87" y="1009.20" width="6.17" height="49.40" fill="#e3e3e3"/>
<rect x="566.03" y="1009.20" width="6.17" height="49.40" fill="#e3e3e3"/>
<rect x="573.20" y="1009.20" width="6.17" height="49.40" fill="#e3e3e3"/>
<rect x="580.37" y="1009.20" width="6.17" height="49.40" fill="#e3e3e3"/>
<rect x="587.53" y="1009.20" width="6.17" height="49.40" fill="#e3e3e3"/>
<rect x="594.70" y="1009.20" width="6.17" height="49.40" fill="#e3e3e3"/>
<rect x="601.87" y="1009.20" width="6.17" height="49.40" fill="#e3e3e3"/>
<rect x="609.03" y="1009.20" width="6.17" height="49.40" fill="#e3e3e3"/>
<rect x="186.20" y="1060.15" width="6.17" height="49.40" fill="#4e9b48"/>
<rect x="193.37" y="1060.15" width="6.17" height="49.40" fill="#4e9b48"/>
<rect x="200.53" y="1060.15" width="6.17" height="49.40" fill="#4e9b48"/>
<rect x="207.70" y="1060.15" width="6.17" height="49.40" fill="#4e9b48"/>
<rect x="214.87" y="1060.15" width="6.17" height="49.40" fill="#4e9b48"/>
<rect x="222.03" y="1060.15" width="6.17" height="49.40" fill="#4e9b48"/>
<rect x="229.20" y="1060.15" width="6.17" height="49.40" fill="#4e9b48"/>
<rect x="236.37" y="1060.15" width="6.17" height="49.40" fill="#4e9b48"/>
<rect x="243.53" y="1060.15" width="6.17" height="49.40" fill="#4e9b48"/>
<rect x="250.70" y="1060.15" width="6.17" height="49.40" fill="#4e9b48"/>
<rect x="257.87" y="1060.15" width="6.17" height="49.40" fill="#4e9b48"/>
<rect x="265.03" y="1060.15" width="6.17" height="49.40" fill="#4e9b48"/>
<rect x="272.20" y="1060.15" width="6.17" height="49.40" fill="#4e9b48"/>
<rect x="279.37" y="1060.15" width="6.17" height="49.40" fill="#e3e3e3"/>
<rect x="286.53" y="1060.15" width="6.17" height="49.40" fill="#e3e3e3"/>
<rect x="293.70" y="1060.15" width="6.17" height="49.40" fill="#e3e3e3"/>
<rect x="300.87" y="1060.15" width="6.17" height="49.40" fill="#e3e3e3"/>
<rect x="308.03" y="1060.15" width="6.17" height="49.40" fill="#e3e3e3"/>
<rect x="315.20" y="1060.15" width="6.17" height="49.40" fill="#e3e3e3"/>
<rect x="322.37" y="1060.15" width="6.17" height="49.40" fill="#e3e3e3"/>
<rect x="329.53" y="1060.15" width="6.17" height="49.40" fill="#e3e3e3"/>
<rect x="336.70" y="1060.15" width="6.17" height="49.40" fill="#e3e3e3"/>
<rect x="343.87" y="1060.15" width="6.17" height="49.40" fill="#e3e3e3"/>
<rect x="351.03" y="1060.15" width="6.17" height="49.40" fill="#e3e3e3"/>
<rect x="358.20" y="1060.15" width="6.17" height="49.40" fill="#e3e3e3"/>
<rect x="365.37" y="1060.15" width="6.17" height="49.40" fill="#e3e3e3"/>
<rect x="372.53" y="1060.15" width="6.17" height="49.40" fill="#e3e3e3"/>
<rect x="379.70" y="1060.15" width="6.17" height="49.40" fill="#4e9b48"/>
<rect x="386.87" y="1060.15" width="6.17" height="49.40" fill="#4e9b48"/>
<rect x="394.03" y="1060.15" width="6.17" height="49.40" fill="#4e9b48"/>
<rect x="401.20" y="1060.15" width="6.17" height="49.40" fill="#4e9b48"/>
<rect x="408.37" y="1060.15" width="6.17" height="49.40" fill="#4e9b48"/>
<rect x="415.53" y="1060.15" width="6.17" height="49.40" fill="#4e9b48"/>
<rect x="422.70" y="1060.15" width="6.17" height="49.40" fill="#4e9b48"/>
<rect x="429.87" y="1060.15" width="6.17" height="49.40" fill="#4e9b48"/>
<rect x="437.03" y="1060.15" width="6.17" height="49.40" fill="#4e9b48"/>
<rect x="444.20" y="1060.15" width="6.17" height="49.40" fill="#4e9b48"/>
<rect x="451.37" y="1060.15" width="6.17" height="49.40" fill="#4e9b48"/>
<rect x="458.53" y="1060.15" width="6.17" height="49.40" fill="#4e9b48"/>
<rect x="465.70" y="1060.15" width="6.17" height="49.40" fill="#4e9b48"/>
<rect x="472.87" y="1060.15" width="6.17" height="49.40" fill="#4e9b48"/>
<rect x="480.03" y="1060.15" width="6.17" height="49.40" fill="#4e9b48"/>
<rect x="487.20" y="1060.15" width="6.17" height="49.40" fill="#e3e3e3"/>
<rect x="494.37" y="1060.15" width="6.17" height="49.40" fill="#e3e3e3"/>
<rect x="501.53" y="1060.15" width="6.17" height="49.40" fill="#e3e3e3"/>
<rect x="508.70" y="1060.15" width="6.17" height="49.40" fill="#e3e3e3"/>
<rect x="515.87" y="1060.15" width="6.17" height="49.40" fill="#e3e3e3"/>
<rect x="523.03" y="1060.15" width="6.17" height="49.40" fill="#e3e3e3"/>
<rect x="530.20" y="1060.15" width="6.17" height="49.40" fill="#e3e3e3"/>
<rect x="537.37" y="1060.15" width="6.17" height="49.40" fill="#e3e3e3"/>
<rect x="544.53" y="1060.15" width="6.17" height="49.40" fill="#e3e3e3"/>
<rect x="551.70" y="1060.15" width="6.17" height="49.40" fill="#e3e3e3"/>
<rect x="558.87" y="1060.15" width="6.17" height="49.40" fill="#e3e3e3"/>
<rect x="566.03" y="1060.15" width="6.17" height="49.40" fill="#e3e3e3"/>
<rect x="573.20" y="1060.15" width="6.17" height="49.40" fill="#e3e3e3"/>
<rect x="580.37" y="1060.15" width="6.17" height="49.40" fill="#e3e3e3"/>
<rect x="587.53" y="1060.15" width="6.17" height="49.40" fill="#e3e3e3"/>
<rect x="594.70" y="1060.15" width="6.17" height="49.40" fill="#e3e3e3"/>
<rect x="601.87" y="1060.15" width="6.17" height="49.40" fill="#e3e3e3"/>
<rect x="609.03" y="1060.15" width="6.17" height="49.40" fill="#e3e3e3"/>
<rect x="186.20" y="1111.10" width="6.17" height="49.40" fill="#e3e3e3"/>
<rect x="193.37" y="1111.10" width="6.17" height="49.40" fill="#e3e3e3"/>
<rect x="200.53" y="1111.10" width="6.17" height="49.40" fill="#4e9b48"/>
<rect x="207.70" y="1111.10" width="6.17" height="49.40" fill="#e3e3e3"/>
<rect x="214.87" y="1111.10" width="6.17" height="49.40" fill="#e3e3e3"/>
<rect x="222.03" y="1111.10" width="6.17" height="49.40" fill="#e3e3e3"/>
<rect x="229.20" y="1111.10" width="6.17" height="49.40" fill="#4e9b48"/>
<rect x="236.37" y="1111.10" width="6.17" height="49.40" fill="#e3e3e3"/>
<rect x="243.53" y="1111.10" width="6.17" height="49.40" fill="#e3e3e3"/>
<rect x="250.70" y="1111.10" width="6.17" height="49.40" fill="#e3e3e3"/>
<rect x="257.87" y="1111.10" width="6.17" height="49.40" fill="#e3e3e3"/>
<rect x="265.03" y="1111.10" width="6.17" height="49.40" fill="#e3e3e3"/>
<rect x="272.20" y="1111.10" width="6.17" height="49.40" fill="#4e9b48"/>
<rect x="279.37" y="1111.10" width="6.17" height="49.40" fill="#4e9b48"/>
<rect x="286.53" y="1111.10" width="6.17" height="49.40" fill="#4e9b48"/>
<rect x="293.70" y="1111.10" width="6.17" height="49.40" fill="#4e9b48"/>
<rect x="300.87" y="1111.10" width="6.17" height="49.40" fill="#4e9b48"/>
<rect x="308.03" y="1111.10" width="6.17" height="49.40" fill="#e3e3e3"/>
<rect x="315.20" y="1111.10" width="6.17" height="49.40" fill="#e3e3e3"/>
<rect x="322.37" y="1111.10" width="6.17" height="49.40" fill="#e3e3e3"/>
<rect x="329.53" y="1111.10" width="6.17" height="49.40" fill="#e3e3e3"/>
<rect x="336.70" y="1111.10" width="6.17" height="49.40" fill="#e3e3e3"/>
<rect x="343.87" y="1111.10" width="6.17" height="49.40" fill="#e3e3e3"/>
<rect x="351.03" y="1111.10" width="6.17" height="49.40" fill="#e3e3e3"/>
<rect x="358.20" y="1111.10" width="6.17" height="49.40" fill="#e3e3e3"/>
<rect x="365.37" y="1111.10" width="6.17" height="49.40" fill="#e3e3e3"/>
<rect x="372.53" y="1111.10" width="6.17" height="49.40" fill="#e3e3e3"/>
<rect x="379.70" y="1111.10" width="6.17" height="49.40" fill="#4e9b48"/>
<rect x="386.87" y="1111.10" width="6.17" height="49.40" fill="#e3e3e3"/>
<rect x="394.03" y="1111.10" width="6.17" height="49.40" fill="#e3e3e3"/>
<rect x="401.20" y="1111.10" width="6.17" height="49.40" fill="#4e9b48"/>
<rect x="408.37" y="1111.10" width="6.17" height="49.40" fill="#e3e3e3"/>
<rect x="415.53" y="1111.10" width="6.17" height="49.40" fill="#e3e3e3"/>
<rect x="422.70" y="1111.10" width="6.17" height="49.40" fill="#e3e3e3"/>
<rect x="429.87" y="1111.10" width="6.17" height="49.40" fill="#e3e3e3"/>
<rect x="437.03" y="1111.10" width="6.17" height="49.40" fill="#e3e3e3"/>
<rect x="444.20" y="1111.10" width="6.17" height="49.40" fill="#e3e3e3"/>
<rect x="451.37" y="1111.10" width="6.17" height="49.40" fill="#e3e3e3"/>
<rect x="458.53" y="1111.10" width="6.17" height="49.40" fill="#4e9b48"/>
<rect x="465.70" y="1111.10" width="6.17" height="49.40" fill="#e3e3e3"/>
<rect x="472.87" y="1111.10" width="6.17" height="49.40" fill="#e3e3e3"/>
<rect x="480.03" y="1111.10" width="6.17" height="49.40" fill="#e3e3e3"/>
<rect x="487.20" y="1111.10" width="6.17" height="49.40" fill="#4e9b48"/>
<rect x="494.37" y="1111.10" width="6.17" height="49.40" fill="#4e9b48"/>
<rect x="501.53" y="1111.10" width="6.17" height="49.40" fill="#e3e3e3"/>
<rect x="508.70" y="1111.10" width="6.17" height="49.40" fill="#e3e3e3"/>
<rect x="515.87" y="1111.10" width="6.17" height="49.40" fill="#e3e3e3"/>
<rect x="523.03" y="1111.10" width="6.17" height="49.40" fill="#e3e3e3"/>
<rect x="530.20" y="1111.10" width="6.17" height="49.40" fill="#e3e3e3"/>
<rect x="537.37" y="1111.10" width="6.17" height="49.40" fill="#e3e3e3"/>
<rect x="544.53" y="1111.10" width="6.17" height="49.40" fill="#e3e3e3"/>
<rect x="551.70" y="1111.10" width="6.17" height="49.40" fill="#e3e3e3"/>
<rect x="558.87" y="1111.10" width="6.17" height="49.40" fill="#e3e3e3"/>
<rect x="566.03" y="1111.10" width="6.17" height="49.40" fill="#e3e3e3"/>
<rect x="573.20" y="1111.10" width="6.17" height="49.40" fill="#e3e3e3"/>
<rect x="580.37" y="1111.10" width="6.17" height="49.40" fill="#e3e3e3"/>
<rect x="587.53" y="1111.10" width="6.17" height="49.40" fill="#e3e3e3"/>
<rect x="594.70" y="1111.10" width="6.17" height="49.40" fill="#e3e3e3"/>
<rect x="601.87" y="1111.10" width="6.17" height="49.40" fill="#e3e3e3"/>
<rect x="609.03" y="1111.10" width="6.17" height="49.40" fill="#e3e3e3"/>
<rect x="186.20" y="1162.05" width="6.17" height="49.40" fill="#4e9b48"/>
<rect x="193.37" y="1162.05" width="6.17" height="49.40" fill="#e3e3e3"/>
<rect x="200.53" y="1162.05" width="6.17" height="49.40" fill="#e3e3e3"/>
<rect x="207.70" y="1162.05" width="6.17" height="49.40" fill="#e3e3e3"/>
<rect x="214.87" y="1162.05" width="6.17" height="49.40" fill="#e3e3e3"/>
<rect x="222.03" y="1162.05" width="6.17" height="49.40" fill="#e3e3e3"/>
<rect x="229.20" y="1162.05" width="6.17" height="49.40" fill="#e3e3e3"/>
<rect x="236.37" y="1162.05" width="6.17" height="49.40" fill="#e3e3e3"/>
<rect x="243.53" y="1162.05" width="6.17" height="49.40" fill="#e3e3e3"/>
<rect x="250.70" y="1162.05" width="6.17" height="49.40" fill="#e3e3e3"/>
<rect x="257.87" y="1162.05" width="6.17" height="49.40" fill="#e3e3e3"/>
<rect x="265.03" y="1162.05" width="6.17" height="49.40" fill="#e3e3e3"/>
<rect x="272.20" y="1162.05" width="6.17" height="49.40" fill="#e3e3e3"/>
<rect x="279.37" y="1162.05" width="6.17" height="49.40" fill="#e3e3e3"/>
<rect x="286.53" y="1162.05" width="6.17" height="49.40" fill="#4e9b48"/>
<rect x="293.70" y="1162.05" width="6.17" height="49.40" fill="#e3e3e3"/>
<rect x="300.87" y="1162.05" width="6.17" height="49.40" fill="#e3e3e3"/>
<rect x="308.03" y="1162.05" width="6.17" height="49.40" fill="#4e9b48"/>
<rect x="315.20" y="1162.05" width="6.17" height="49.40" fill="#4e9b48"/>
<rect x="322.37" y="1162.05" width="6.17" height="49.40" fill="#4e9b48"/>
<rect x="329.53" y="1162.05" width="6.17" height="49.40" fill="#4e9b48"/>
<rect x="336.70" y="1162.05" width="6.17" height="49.40" fill="#4e9b48"/>
<rect x="343.87" y="1162.05" width="6.17" height="49.40" fill="#4e9b48"/>
<rect x="351.03" y="1162.05" width="6.17" height="49.40" fill="#4e9b48"/>
<rect x="358.20" y="1162.05" width="6.17" height="49.40" fill="#e3e3e3"/>
<rect x="365.37" y="1162.05" width="6.17" height="49.40" fill="#e3e3e3"/>
<rect x="372.53" y="1162.05" width="6.17" height="49.40" fill="#e3e3e3"/>
<rect x="379.70" y="1162.05" width="6.17" height="49.40" fill="#e3e3e3"/>
<rect x="386.87" y="1162.05" width="6.17" height="49.40" fill="#e3e3e3"/>
<rect x="394.03" y="1162.05" width="6.17" height="49.40" fill="#4e9b48"/>
<rect x="401.20" y="1162.05" width="6.17" height="49.40" fill="#e3e3e3"/>
<rect x="408.37" y="1162.05" width="6.17" height="49.40" fill="#e3e3e3"/>
<rect x="415.53" y="1162.05" width="6.17" height="49.40" fill="#e3e3e3"/>
<rect x="422.70" y="1162.05" width="6.17" height="49.40" fill="#e3e3e3"/>
<rect x="429.87" y="1162.05" width="6.17" height="49.40" fill="#e3e3e3"/>
<rect x="437.03" y="1162.05" width="6.17" height="49.40" fill="#e3e3e3"/>
<rect x="444.20" y="1162.05" width="6.17" height="49.40" fill="#e3e3e3"/>
<rect x="451.37" y="1162.05" width="6.17" height="49.40" fill="#e3e3e3"/>
<rect x="458.53" y="1162.05" width="6.17" height="49.40" fill="#4e9b48"/>
<rect x="465.70" y="1162.05" width="6.17" height="49.40" fill="#4e9b48"/>
<rect x="472.87" y="1162.05" width="6.17" height="49.40" fill="#4e9b48"/>
<rect x="480.03" y="1162.05" width="6.17" height="49.40" fill="#e3e3e3"/>
<rect x="487.20" y="1162.05" width="6.17" height="49.40" fill="#e3e3e3"/>
<rect x="494.37" y="1162.05" width="6.17" height="49.40" fill="#e3e3e3"/>
<rect x="501.53" y="1162.05" width="6.17" height="49.40" fill="#4e9b48"/>
<rect x="508.70" y="1162.05" width="6.17" height="49.40" fill="#4e9b48"/>
<rect x="515.87" y="1162.05" width="6.17" height="49.40" fill="#4e9b48"/>
<rect x="523.03" y="1162.05" width="6.17" height="49.40" fill="#4e9b48"/>
<rect x="530.20" y="1162.05" width="6.17" height="49.40" fill="#4e9b48"/>
<rect x="537.37" y="1162.05" width="6.17" height="49.40" fill="#4e9b48"/>
<rect x="544.53" y="1162.05" width="6.17" height="49.40" fill="#4e9b48"/>
<rect x="551.70" y="1162.05" width="6.17" height="49.40" fill="#4e9b48"/>
<rect x="558.87" y="1162.05" width="6.17" height="49.40" fill="#4e9b48"/>
<rect x="566.03" y="1162.05" width="6.17" height="49.40" fill="#4e9b48"/>
<rect x="573.20" y="1162.05" width="6.17" height="49.40" fill="#4e9b48"/>
<rect x="580.37" y="1162.05" width="6.17" height="49.40" fill="#e3e3e3"/>
<rect x="587.53" y="1162.05" width="6.17" height="49.40" fill="#e3e3e3"/>
<rect x="594.70" y="1162.05" width="6.17" height="49.40" fill="#e3e3e3"/>
<rect x="601.87" y="1162.05" width="6.17" height="49.40" fill="#e3e3e3"/>
<rect x="609.03" y="1162.05" width="6.17" height="49.40" fill="#e3e3e3"/>
<rect x="186.20" y="1213.00" width="6.17" height="49.40" fill="#e3e3e3"/>
<rect x="193.37" y="1213.00" width="6.17" height="49.40" fill="#4e9b48"/>
<rect x="200.53" y="1213.00" width="6.17" height="49.40" fill="#e3e3e3"/>
<rect x="207.70" y="1213.00" width="6.17" height="49.40" fill="#e3e3e3"/>
<rect x="214.87" y="1213.00" width="6.17" height="49.40" fill="#e3e3e3"/>
<rect x="222.03" y="1213.00" width="6.17" height="49.40" fill="#e3e3e3"/>
<rect x="229.20" y="1213.00" width="6.17" height="49.40" fill="#e3e3e3"/>
<rect x="236.37" y="1213.00" width="6.17" height="49.40" fill="#e3e3e3"/>
<rect x="243.53" y="1213.00" width="6.17" height="49.40" fill="#e3e3e3"/>
<rect x="250.70" y="1213.00" width="6.17" height="49.40" fill="#e3e3e3"/>
<rect x="257.87" y="1213.00" width="6.17" height="49.40" fill="#e3e3e3"/>
<rect x="265.03" y="1213.00" width="6.17" height="49.40" fill="#e3e3e3"/>
<rect x="272.20" y="1213.00" width="6.17" height="49.40" fill="#e3e3e3"/>
<rect x="279.37" y="1213.00" width="6.17" height="49.40" fill="#e3e3e3"/>
<rect x="286.53" y="1213.00" width="6.17" height="49.40" fill="#e3e3e3"/>
<rect x="293.70" y="1213.00" width="6.17" height="49.40" fill="#e3e3e3"/>
<rect x="300.87" y="1213.00" width="6.17" height="49.40" fill="#e3e3e3"/>
<rect x="308.03" y="1213.00" width="6.17" height="49.40" fill="#e3e3e3"/>
<rect x="315.20" y="1213.00" width="6.17" height="49.40" fill="#e3e3e3"/>
<rect x="322.37" y="1213.00" width="6.17" height="49.40" fill="#e3e3e3"/>
<rect x="329.53" y="1213.00" width="6.17" height="49.40" fill="#e3e3e3"/>
<rect x="336.70" y="1213.00" width="6.17" height="49.40" fill="#e3e3e3"/>
<rect x="343.87" y="1213.00" width="6.17" height="49.40" fill="#e3e3e3"/>
<rect x="351.03" y="1213.00" width="6.17" height="49.40" fill="#4e9b48"/>
<rect x="358.20" y="1213.00" width="6.17" height="49.40" fill="#4e9b48"/>
<rect x="365.37" y="1213.00" width="6.17" height="49.40" fill="#4e9b48"/>
<rect x="372.53" y="1213.00" width="6.17" height="49.40" fill="#4e9b48"/>
<rect x="379.70" y="1213.00" width="6.17" height="49.40" fill="#4e9b48"/>
<rect x="386.87" y="1213.00" width="6.17" height="49.40" fill="#e3e3e3"/>
<rect x="394.03" y="1213.00" width="6.17" height="49.40" fill="#e3e3e3"/>
<rect x="401.20" y="1213.00" width="6.17" height="49.40" fill="#e3e3e3"/>
<rect x="408.37" y="1213.00" width="6.17" height="49.40" fill="#4e9b48"/>
<rect x="415.53" y="1213.00" width="6.17" height="49.40" fill="#e3e3e3"/>
<rect x="422.70" y="1213.00" width="6.17" height="49.40" fill="#e3e3e3"/>
<rect x="429.87" y="1213.00" width="6.17" height="49.40" fill="#e3e3e3"/>
<rect x="437.03" y="1213.00" width="6.17" height="49.40" fill="#e3e3e3"/>
<rect x="444.20" y="1213.00" width="6.17" height="49.40" fill="#e3e3e3"/>
<rect x="451.37" y="1213.00" width="6.17" height="49.40" fill="#e3e3e3"/>
<rect x="458.53" y="1213.00" width="6.17" height="49.40" fill="#e3e3e3"/>
<rect x="465.70" y="1213.00" width="6.17" height="49.40" fill="#e3e3e3"/>
<rect x="472.87" y="1213.00" width="6.17" height="49.40" fill="#e3e3e3"/>
<rect x="480.03" y="1213.00" width="6.17" height="49.40" fill="#e3e3e3"/>
<rect x="487.20" y="1213.00" width="6.17" height="49.40" fill="#e3e3e3"/>
<rect x="494.37" y="1213.00" width="6.17" height="49.40" fill="#e3e3e3"/>
<rect x="501.53" y="1213.00" width="6.17" height="49.40" fill="#e3e3e3"/>
<rect x="508.70" y="1213.00" width="6.17" height="49.40" fill="#e3e3e3"/>
<rect x="515.87" y="1213.00" width="6.17" height="49.40" fill="#e3e3e3"/>
<rect x="523.03" y="1213.00" width="6.17" height="49.40" fill="#e3e3e3"/>
<rect x="530.20" y="1213.00" width="6.17" height="49.40" fill="#e3e3e3"/>
<rect x="537.37" y="1213.00" width="6.17" height="49.40" fill="#e3e3e3"/>
<rect x="544.53" y="1213.00" width="6.17" height="49.40" fill="#e3e3e3"/>
<rect x="551.70" y="1213.00" width="6.17" height="49.40" fill="#e3e3e3"/>
<rect x="558.87" y="1213.00" width="6.17" height="49.40" fill="#e3e3e3"/>
<rect x="566.03" y="1213.00" width="6.17" height="49.40" fill="#4e9b48"/>
<rect x="573.20" y="1213.00" width="6.17" height="49.40" fill="#4e9b48"/>
<rect x="580.37" y="1213.00" width="6.17" height="49.40" fill="#4e9b48"/>
<rect x="587.53" y="1213.00" width="6.17" height="49.40" fill="#4e9b48"/>
<rect x="594.70" y="1213.00" width="6.17" height="49.40" fill="#4e9b48"/>
<rect x="601.87" y="1213.00" width="6.17" height="49.40" fill="#4e9b48"/>
<rect x="609.03" y="1213.00" width="6.17" height="49.40" fill="#4e9b48"/>
<rect x="742.20" y="827.00" width="6.16" height="30.70" fill="#f8b677"/>
<rect x="749.36" y="827.00" width="6.16" height="30.70" fill="#f8b677"/>
<rect x="756.51" y="827.00" width="6.16" height="30.70" fill="#e87c2b"/>
<rect x="763.67" y="827.00" width="6.16" height="30.70" fill="#f8b677"/>
<rect x="770.83" y="827.00" width="6.16" height="30.70" fill="#e87c2b"/>
<rect x="777.99" y="827.00" width="6.16" height="30.70" fill="#e87c2b"/>
<rect x="785.14" y="827.00" width="6.16" height="30.70" fill="#f8b677"/>
<rect x="792.30" y="827.00" width="6.16" height="30.70" fill="#f8b677"/>
<rect x="799.46" y="827.00" width="6.16" height="30.70" fill="#e87c2b"/>
<rect x="806.62" y="827.00" width="6.16" height="30.70" fill="#f8b677"/>
<rect x="813.77" y="827.00" width="6.16" height="30.70" fill="#f8b677"/>
<rect x="820.93" y="827.00" width="6.16" height="30.70" fill="#e87c2b"/>
<rect x="828.09" y="827.00" width="6.16" height="30.70" fill="#f8b677"/>
<rect x="835.25" y="827.00" width="6.16" height="30.70" fill="#f8b677"/>
<rect x="842.40" y="827.00" width="6.16" height="30.70" fill="#f8b677"/>
<rect x="849.56" y="827.00" width="6.16" height="30.70" fill="#f8b677"/>
<rect x="856.72" y="827.00" width="6.16" height="30.70" fill="#f8b677"/>
<rect x="863.88" y="827.00" width="6.16" height="30.70" fill="#e87c2b"/>
<rect x="871.03" y="827.00" width="6.16" height="30.70" fill="#f8b677"/>
<rect x="878.19" y="827.00" width="6.16" height="30.70" fill="#f8b677"/>
<rect x="885.35" y="827.00" width="6.16" height="30.70" fill="#f8b677"/>
<rect x="892.51" y="827.00" width="6.16" height="30.70" fill="#e87c2b"/>
<rect x="899.66" y="827.00" width="6.16" height="30.70" fill="#f8b677"/>
<rect x="906.82" y="827.00" width="6.16" height="30.70" fill="#f8b677"/>
<rect x="913.98" y="827.00" width="6.16" height="30.70" fill="#e87c2b"/>
<rect x="921.14" y="827.00" width="6.16" height="30.70" fill="#e87c2b"/>
<rect x="928.29" y="827.00" width="6.16" height="30.70" fill="#e87c2b"/>
<rect x="935.45" y="827.00" width="6.16" height="30.70" fill="#f8b677"/>
<rect x="942.61" y="827.00" width="6.16" height="30.70" fill="#e87c2b"/>
<rect x="949.77" y="827.00" width="6.16" height="30.70" fill="#e87c2b"/>
<rect x="956.92" y="827.00" width="6.16" height="30.70" fill="#f8b677"/>
<rect x="964.08" y="827.00" width="6.16" height="30.70" fill="#f8b677"/>
<rect x="971.24" y="827.00" width="6.16" height="30.70" fill="#e87c2b"/>
<rect x="978.40" y="827.00" width="6.16" height="30.70" fill="#f8b677"/>
<rect x="985.55" y="827.00" width="6.16" height="30.70" fill="#e87c2b"/>
<rect x="992.71" y="827.00" width="6.16" height="30.70" fill="#f8b677"/>
<rect x="999.87" y="827.00" width="6.16" height="30.70" fill="#e87c2b"/>
<rect x="1007.03" y="827.00" width="6.16" height="30.70" fill="#f8b677"/>
<rect x="1014.18" y="827.00" width="6.16" height="30.70" fill="#f8b677"/>
<rect x="1021.34" y="827.00" width="6.16" height="30.70" fill="#f8b677"/>
<rect x="1028.50" y="827.00" width="6.16" height="30.70" fill="#e87c2b"/>
<rect x="1035.66" y="827.00" width="6.16" height="30.70" fill="#e87c2b"/>
<rect x="1042.81" y="827.00" width="6.16" height="30.70" fill="#f8b677"/>
<rect x="1049.97" y="827.00" width="6.16" height="30.70" fill="#e87c2b"/>
<rect x="1057.13" y="827.00" width="6.16" height="30.70" fill="#f8b677"/>
<rect x="1064.29" y="827.00" width="6.16" height="30.70" fill="#f8b677"/>
<rect x="1071.44" y="827.00" width="6.16" height="30.70" fill="#f8b677"/>
<rect x="1078.60" y="827.00" width="6.16" height="30.70" fill="#f8b677"/>
<rect x="1085.76" y="827.00" width="6.16" height="30.70" fill="#f8b677"/>
<rect x="1092.92" y="827.00" width="6.16" height="30.70" fill="#f8b677"/>
<rect x="1100.07" y="827.00" width="6.16" height="30.70" fill="#f8b677"/>
<rect x="1107.23" y="827.00" width="6.16" height="30.70" fill="#e87c2b"/>
<rect x="1114.39" y="827.00" width="6.16" height="30.70" fill="#f8b677"/>
<rect x="1121.55" y="827.00" width="6.16" height="30.70" fill="#f8b677"/>
<rect x="1128.70" y="827.00" width="6.16" height="30.70" fill="#f8b677"/>
<rect x="1135.86" y="827.00" width="6.16" height="30.70" fill="#f8b677"/>
<rect x="1143.02" y="827.00" width="6.16" height="30.70" fill="#e87c2b"/>
<rect x="1150.18" y="827.00" width="6.16" height="30.70" fill="#f8b677"/>
<rect x="1157.33" y="827.00" width="6.16" height="30.70" fill="#f8b677"/>
<rect x="1164.49" y="827.00" width="6.16" height="30.70" fill="#f8b677"/>
<rect x="1171.65" y="827.00" width="6.16" height="30.70" fill="#e87c2b"/>
<rect x="1178.81" y="827.00" width="6.16" height="30.70" fill="#e87c2b"/>
<rect x="1185.96" y="827.00" width="6.16" height="30.70" fill="#f8b677"/>
<rect x="1193.12" y="827.00" width="6.16" height="30.70" fill="#e87c2b"/>
<rect x="1200.28" y="827.00" width="6.16" height="30.70" fill="#f8b677"/>
<rect x="1207.44" y="827.00" width="6.16" height="30.70" fill="#f8b677"/>
<rect x="1214.59" y="827.00" width="6.16" height="30.70" fill="#f8b677"/>
<rect x="1221.75" y="827.00" width="6.16" height="30.70" fill="#e87c2b"/>
<rect x="1228.91" y="827.00" width="6.16" height="30.70" fill="#f8b677"/>
<rect x="1236.07" y="827.00" width="6.16" height="30.70" fill="#f8b677"/>
<rect x="1243.22" y="827.00" width="6.16" height="30.70" fill="#e87c2b"/>
<rect x="1250.38" y="827.00" width="6.16" height="30.70" fill="#e87c2b"/>
<rect x="1257.54" y="827.00" width="6.16" height="30.70" fill="#f8b677"/>
<rect x="1264.70" y="827.00" width="6.16" height="30.70" fill="#e87c2b"/>
<rect x="1271.85" y="827.00" width="6.16" height="30.70" fill="#e87c2b"/>
<rect x="1279.01" y="827.00" width="6.16" height="30.70" fill="#f8b677"/>
<rect x="1286.17" y="827.00" width="6.16" height="30.70" fill="#e87c2b"/>
<rect x="1293.33" y="827.00" width="6.16" height="30.70" fill="#e87c2b"/>
<rect x="1300.48" y="827.00" width="6.16" height="30.70" fill="#e87c2b"/>
<rect x="1307.64" y="827.00" width="6.16" height="30.70" fill="#f8b677"/>
<rect x="1314.80" y="827.00" width="6.16" height="30.70" fill="#e87c2b"/>
<rect x="1321.96" y="827.00" width="6.16" height="30.70" fill="#e87c2b"/>
<rect x="1329.11" y="827.00" width="6.16" height="30.70" fill="#f8b677"/>
<rect x="1336.27" y="827.00" width="6.16" height="30.70" fill="#f8b677"/>
<rect x="1343.43" y="827.00" width="6.16" height="30.70" fill="#e87c2b"/>
<rect x="1350.59" y="827.00" width="6.16" height="30.70" fill="#f8b677"/>
<rect x="1357.74" y="827.00" width="6.16" height="30.70" fill="#f8b677"/>
<rect x="742.20" y="858.90" width="6.16" height="30.70" fill="#e0e0e0"/>
<rect x="749.36" y="858.90" width="6.16" height="30.70" fill="#a8002b"/>
<rect x="756.51" y="858.90" width="6.16" height="30.70" fill="#e0e0e0"/>
<rect x="763.67" y="858.90" width="6.16" height="30.70" fill="#e0e0e0"/>
<rect x="770.83" y="858.90" width="6.16" height="30.70" fill="#e0e0e0"/>
<rect x="777.99" y="858.90" width="6.16" height="30.70" fill="#e0e0e0"/>
<rect x="785.14" y="858.90" width="6.16" height="30.70" fill="#e0e0e0"/>
<rect x="792.30" y="858.90" width="6.16" height="30.70" fill="#e0e0e0"/>
<rect x="799.46" y="858.90" width="6.16" height="30.70" fill="#a8002b"/>
<rect x="806.62" y="858.90" width="6.16" height="30.70" fill="#e0e0e0"/>
<rect x="813.77" y="858.90" width="6.16" height="30.70" fill="#e0e0e0"/>
<rect x="820.93" y="858.90" width="6.16" height="30.70" fill="#e0e0e0"/>
<rect x="828.09" y="858.90" width="6.16" height="30.70" fill="#e0e0e0"/>
<rect x="835.25" y="858.90" width="6.16" height="30.70" fill="#e0e0e0"/>
<rect x="842.40" y="858.90" width="6.16" height="30.70" fill="#e0e0e0"/>
<rect x="849.56" y="858.90" width="6.16" height="30.70" fill="#a8002b"/>
<rect x="856.72" y="858.90" width="6.16" height="30.70" fill="#e0e0e0"/>
<rect x="863.88" y="858.90" width="6.16" height="30.70" fill="#a8002b"/>
<rect x="871.03" y="858.90" width="6.16" height="30.70" fill="#e0e0e0"/>
<rect x="878.19" y="858.90" width="6.16" height="30.70" fill="#e0e0e0"/>
<rect x="885.35" y="858.90" width="6.16" height="30.70" fill="#e0e0e0"/>
<rect x="892.51" y="858.90" width="6.16" height="30.70" fill="#e0e0e0"/>
<rect x="899.66" y="858.90" width="6.16" height="30.70" fill="#e0e0e0"/>
<rect x="906.82" y="858.90" width="6.16" height="30.70" fill="#e0e0e0"/>
<rect x="913.98" y="858.90" width="6.16" height="30.70" fill="#dc8a96"/>
<rect x="921.14" y="858.90" width="6.16" height="30.70" fill="#dc8a96"/>
<rect x="928.29" y="858.90" width="6.16" height="30.70" fill="#e0e0e0"/>
<rect x="935.45" y="858.90" width="6.16" height="30.70" fill="#e0e0e0"/>
<rect x="942.61" y="858.90" width="6.16" height="30.70" fill="#dc8a96"/>
<rect x="949.77" y="858.90" width="6.16" height="30.70" fill="#e0e0e0"/>
<rect x="956.92" y="858.90" width="6.16" height="30.70" fill="#e0e0e0"/>
<rect x="964.08" y="858.90" width="6.16" height="30.70" fill="#e0e0e0"/>
<rect x="971.24" y="858.90" width="6.16" height="30.70" fill="#e0e0e0"/>
<rect x="978.40" y="858.90" width="6.16" height="30.70" fill="#e0e0e0"/>
<rect x="985.55" y="858.90" width="6.16" height="30.70" fill="#e0e0e0"/>
<rect x="992.71" y="858.90" width="6.16" height="30.70" fill="#e0e0e0"/>
<rect x="999.87" y="858.90" width="6.16" height="30.70" fill="#a8002b"/>
<rect x="1007.03" y="858.90" width="6.16" height="30.70" fill="#e0e0e0"/>
<rect x="1014.18" y="858.90" width="6.16" height="30.70" fill="#e0e0e0"/>
<rect x="1021.34" y="858.90" width="6.16" height="30.70" fill="#e0e0e0"/>
<rect x="1028.50" y="858.90" width="6.16" height="30.70" fill="#dc8a96"/>
<rect x="1035.66" y="858.90" width="6.16" height="30.70" fill="#dc8a96"/>
<rect x="1042.81" y="858.90" width="6.16" height="30.70" fill="#e0e0e0"/>
<rect x="1049.97" y="858.90" width="6.16" height="30.70" fill="#dc8a96"/>
<rect x="1057.13" y="858.90" width="6.16" height="30.70" fill="#e0e0e0"/>
<rect x="1064.29" y="858.90" width="6.16" height="30.70" fill="#e0e0e0"/>
<rect x="1071.44" y="858.90" width="6.16" height="30.70" fill="#e0e0e0"/>
<rect x="1078.60" y="858.90" width="6.16" height="30.70" fill="#e0e0e0"/>
<rect x="1085.76" y="858.90" width="6.16" height="30.70" fill="#e0e0e0"/>
<rect x="1092.92" y="858.90" width="6.16" height="30.70" fill="#e0e0e0"/>
<rect x="1100.07" y="858.90" width="6.16" height="30.70" fill="#e0e0e0"/>
<rect x="1107.23" y="858.90" width="6.16" height="30.70" fill="#e0e0e0"/>
<rect x="1114.39" y="858.90" width="6.16" height="30.70" fill="#e0e0e0"/>
<rect x="1121.55" y="858.90" width="6.16" height="30.70" fill="#e0e0e0"/>
<rect x="1128.70" y="858.90" width="6.16" height="30.70" fill="#e0e0e0"/>
<rect x="1135.86" y="858.90" width="6.16" height="30.70" fill="#e0e0e0"/>
<rect x="1143.02" y="858.90" width="6.16" height="30.70" fill="#dc8a96"/>
<rect x="1150.18" y="858.90" width="6.16" height="30.70" fill="#e0e0e0"/>
<rect x="1157.33" y="858.90" width="6.16" height="30.70" fill="#e0e0e0"/>
<rect x="1164.49" y="858.90" width="6.16" height="30.70" fill="#e0e0e0"/>
<rect x="1171.65" y="858.90" width="6.16" height="30.70" fill="#a8002b"/>
<rect x="1178.81" y="858.90" width="6.16" height="30.70" fill="#a8002b"/>
<rect x="1185.96" y="858.90" width="6.16" height="30.70" fill="#e0e0e0"/>
<rect x="1193.12" y="858.90" width="6.16" height="30.70" fill="#e0e0e0"/>
<rect x="1200.28" y="858.90" width="6.16" height="30.70" fill="#e0e0e0"/>
<rect x="1207.44" y="858.90" width="6.16" height="30.70" fill="#e0e0e0"/>
<rect x="1214.59" y="858.90" width="6.16" height="30.70" fill="#e0e0e0"/>
<rect x="1221.75" y="858.90" width="6.16" height="30.70" fill="#e0e0e0"/>
<rect x="1228.91" y="858.90" width="6.16" height="30.70" fill="#e0e0e0"/>
<rect x="1236.07" y="858.90" width="6.16" height="30.70" fill="#e0e0e0"/>
<rect x="1243.22" y="858.90" width="6.16" height="30.70" fill="#e0e0e0"/>
<rect x="1250.38" y="858.90" width="6.16" height="30.70" fill="#e0e0e0"/>
<rect x="1257.54" y="858.90" width="6.16" height="30.70" fill="#e0e0e0"/>
<rect x="1264.70" y="858.90" width="6.16" height="30.70" fill="#e0e0e0"/>
<rect x="1271.85" y="858.90" width="6.16" height="30.70" fill="#a8002b"/>
<rect x="1279.01" y="858.90" width="6.16" height="30.70" fill="#e0e0e0"/>
<rect x="1286.17" y="858.90" width="6.16" height="30.70" fill="#a8002b"/>
<rect x="1293.33" y="858.90" width="6.16" height="30.70" fill="#a8002b"/>
<rect x="1300.48" y="858.90" width="6.16" height="30.70" fill="#dc8a96"/>
<rect x="1307.64" y="858.90" width="6.16" height="30.70" fill="#e0e0e0"/>
<rect x="1314.80" y="858.90" width="6.16" height="30.70" fill="#a8002b"/>
<rect x="1321.96" y="858.90" width="6.16" height="30.70" fill="#e0e0e0"/>
<rect x="1329.11" y="858.90" width="6.16" height="30.70" fill="#e0e0e0"/>
<rect x="1336.27" y="858.90" width="6.16" height="30.70" fill="#e0e0e0"/>
<rect x="1343.43" y="858.90" width="6.16" height="30.70" fill="#dc8a96"/>
<rect x="1350.59" y="858.90" width="6.16" height="30.70" fill="#e0e0e0"/>
<rect x="1357.74" y="858.90" width="6.16" height="30.70" fill="#e0e0e0"/>
<rect x="742.20" y="890.80" width="6.16" height="30.70" fill="#0098b3"/>
<rect x="749.36" y="890.80" width="6.16" height="30.70" fill="#0098b3"/>
<rect x="756.51" y="890.80" width="6.16" height="30.70" fill="#0098b3"/>
<rect x="763.67" y="890.80" width="6.16" height="30.70" fill="#0098b3"/>
<rect x="770.83" y="890.80" width="6.16" height="30.70" fill="#8bbed8"/>
<rect x="777.99" y="890.80" width="6.16" height="30.70" fill="#0098b3"/>
<rect x="785.14" y="890.80" width="6.16" height="30.70" fill="#8bbed8"/>
<rect x="792.30" y="890.80" width="6.16" height="30.70" fill="#8bbed8"/>
<rect x="799.46" y="890.80" width="6.16" height="30.70" fill="#0098b3"/>
<rect x="806.62" y="890.80" width="6.16" height="30.70" fill="#0098b3"/>
<rect x="813.77" y="890.80" width="6.16" height="30.70" fill="#8bbed8"/>
<rect x="820.93" y="890.80" width="6.16" height="30.70" fill="#0098b3"/>
<rect x="828.09" y="890.80" width="6.16" height="30.70" fill="#8bbed8"/>
<rect x="835.25" y="890.80" width="6.16" height="30.70" fill="#8bbed8"/>
<rect x="842.40" y="890.80" width="6.16" height="30.70" fill="#8bbed8"/>
<rect x="849.56" y="890.80" width="6.16" height="30.70" fill="#8bbed8"/>
<rect x="856.72" y="890.80" width="6.16" height="30.70" fill="#8bbed8"/>
<rect x="863.88" y="890.80" width="6.16" height="30.70" fill="#8bbed8"/>
<rect x="871.03" y="890.80" width="6.16" height="30.70" fill="#0098b3"/>
<rect x="878.19" y="890.80" width="6.16" height="30.70" fill="#8bbed8"/>
<rect x="885.35" y="890.80" width="6.16" height="30.70" fill="#0098b3"/>
<rect x="892.51" y="890.80" width="6.16" height="30.70" fill="#0098b3"/>
<rect x="899.66" y="890.80" width="6.16" height="30.70" fill="#0098b3"/>
<rect x="906.82" y="890.80" width="6.16" height="30.70" fill="#0098b3"/>
<rect x="913.98" y="890.80" width="6.16" height="30.70" fill="#0098b3"/>
<rect x="921.14" y="890.80" width="6.16" height="30.70" fill="#0098b3"/>
<rect x="928.29" y="890.80" width="6.16" height="30.70" fill="#0098b3"/>
<rect x="935.45" y="890.80" width="6.16" height="30.70" fill="#0098b3"/>
<rect x="942.61" y="890.80" width="6.16" height="30.70" fill="#0098b3"/>
<rect x="949.77" y="890.80" width="6.16" height="30.70" fill="#0098b3"/>
<rect x="956.92" y="890.80" width="6.16" height="30.70" fill="#0098b3"/>
<rect x="964.08" y="890.80" width="6.16" height="30.70" fill="#0098b3"/>
<rect x="971.24" y="890.80" width="6.16" height="30.70" fill="#0098b3"/>
<rect x="978.40" y="890.80" width="6.16" height="30.70" fill="#0098b3"/>
<rect x="985.55" y="890.80" width="6.16" height="30.70" fill="#0098b3"/>
<rect x="992.71" y="890.80" width="6.16" height="30.70" fill="#0098b3"/>
<rect x="999.87" y="890.80" width="6.16" height="30.70" fill="#0098b3"/>
<rect x="1007.03" y="890.80" width="6.16" height="30.70" fill="#0098b3"/>
<rect x="1014.18" y="890.80" width="6.16" height="30.70" fill="#8bbed8"/>
<rect x="1021.34" y="890.80" width="6.16" height="30.70" fill="#8bbed8"/>
<rect x="1028.50" y="890.80" width="6.16" height="30.70" fill="#0098b3"/>
<rect x="1035.66" y="890.80" width="6.16" height="30.70" fill="#0098b3"/>
<rect x="1042.81" y="890.80" width="6.16" height="30.70" fill="#8bbed8"/>
<rect x="1049.97" y="890.80" width="6.16" height="30.70" fill="#0098b3"/>
<rect x="1057.13" y="890.80" width="6.16" height="30.70" fill="#0098b3"/>
<rect x="1064.29" y="890.80" width="6.16" height="30.70" fill="#0098b3"/>
<rect x="1071.44" y="890.80" width="6.16" height="30.70" fill="#0098b3"/>
<rect x="1078.60" y="890.80" width="6.16" height="30.70" fill="#0098b3"/>
<rect x="1085.76" y="890.80" width="6.16" height="30.70" fill="#0098b3"/>
<rect x="1092.92" y="890.80" width="6.16" height="30.70" fill="#0098b3"/>
<rect x="1100.07" y="890.80" width="6.16" height="30.70" fill="#0098b3"/>
<rect x="1107.23" y="890.80" width="6.16" height="30.70" fill="#0098b3"/>
<rect x="1114.39" y="890.80" width="6.16" height="30.70" fill="#0098b3"/>
<rect x="1121.55" y="890.80" width="6.16" height="30.70" fill="#8bbed8"/>
<rect x="1128.70" y="890.80" width="6.16" height="30.70" fill="#8bbed8"/>
<rect x="1135.86" y="890.80" width="6.16" height="30.70" fill="#0098b3"/>
<rect x="1143.02" y="890.80" width="6.16" height="30.70" fill="#8bbed8"/>
<rect x="1150.18" y="890.80" width="6.16" height="30.70" fill="#8bbed8"/>
<rect x="1157.33" y="890.80" width="6.16" height="30.70" fill="#8bbed8"/>
<rect x="1164.49" y="890.80" width="6.16" height="30.70" fill="#0098b3"/>
<rect x="1171.65" y="890.80" width="6.16" height="30.70" fill="#0098b3"/>
<rect x="1178.81" y="890.80" width="6.16" height="30.70" fill="#0098b3"/>
<rect x="1185.96" y="890.80" width="6.16" height="30.70" fill="#8bbed8"/>
<rect x="1193.12" y="890.80" width="6.16" height="30.70" fill="#0098b3"/>
<rect x="1200.28" y="890.80" width="6.16" height="30.70" fill="#0098b3"/>
<rect x="1207.44" y="890.80" width="6.16" height="30.70" fill="#8bbed8"/>
<rect x="1214.59" y="890.80" width="6.16" height="30.70" fill="#0098b3"/>
<rect x="1221.75" y="890.80" width="6.16" height="30.70" fill="#0098b3"/>
<rect x="1228.91" y="890.80" width="6.16" height="30.70" fill="#0098b3"/>
<rect x="1236.07" y="890.80" width="6.16" height="30.70" fill="#0098b3"/>
<rect x="1243.22" y="890.80" width="6.16" height="30.70" fill="#0098b3"/>
<rect x="1250.38" y="890.80" width="6.16" height="30.70" fill="#8bbed8"/>
<rect x="1257.54" y="890.80" width="6.16" height="30.70" fill="#0098b3"/>
<rect x="1264.70" y="890.80" width="6.16" height="30.70" fill="#0098b3"/>
<rect x="1271.85" y="890.80" width="6.16" height="30.70" fill="#8bbed8"/>
<rect x="1279.01" y="890.80" width="6.16" height="30.70" fill="#0098b3"/>
<rect x="1286.17" y="890.80" width="6.16" height="30.70" fill="#0098b3"/>
<rect x="1293.33" y="890.80" width="6.16" height="30.70" fill="#0098b3"/>
<rect x="1300.48" y="890.80" width="6.16" height="30.70" fill="#8bbed8"/>
<rect x="1307.64" y="890.80" width="6.16" height="30.70" fill="#0098b3"/>
<rect x="1314.80" y="890.80" width="6.16" height="30.70" fill="#0098b3"/>
<rect x="1321.96" y="890.80" width="6.16" height="30.70" fill="#0098b3"/>
<rect x="1329.11" y="890.80" width="6.16" height="30.70" fill="#8bbed8"/>
<rect x="1336.27" y="890.80" width="6.16" height="30.70" fill="#8bbed8"/>
<rect x="1343.43" y="890.80" width="6.16" height="30.70" fill="#0098b3"/>
<rect x="1350.59" y="890.80" width="6.16" height="30.70" fill="#0098b3"/>
<rect x="1357.74" y="890.80" width="6.16" height="30.70" fill="#8bbed8"/>
<rect x="742.20" y="922.70" width="6.16" height="30.70" fill="#8f5da1"/>
<rect x="749.36" y="922.70" width="6.16" height="30.70" fill="#8f5da1"/>
<rect x="756.51" y="922.70" width="6.16" height="30.70" fill="#8f5da1"/>
<rect x="763.67" y="922.70" width="6.16" height="30.70" fill="#8f5da1"/>
<rect x="770.83" y="922.70" width="6.16" height="30.70" fill="#ae9dc5"/>
<rect x="777.99" y="922.70" width="6.16" height="30.70" fill="#8f5da1"/>
<rect x="785.14" y="922.70" width="6.16" height="30.70" fill="#ae9dc5"/>
<rect x="792.30" y="922.70" width="6.16" height="30.70" fill="#ae9dc5"/>
<rect x="799.46" y="922.70" width="6.16" height="30.70" fill="#8f5da1"/>
<rect x="806.62" y="922.70" width="6.16" height="30.70" fill="#8f5da1"/>
<rect x="813.77" y="922.70" width="6.16" height="30.70" fill="#ae9dc5"/>
<rect x="820.93" y="922.70" width="6.16" height="30.70" fill="#8f5da1"/>
<rect x="828.09" y="922.70" width="6.16" height="30.70" fill="#ae9dc5"/>
<rect x="835.25" y="922.70" width="6.16" height="30.70" fill="#ae9dc5"/>
<rect x="842.40" y="922.70" width="6.16" height="30.70" fill="#ae9dc5"/>
<rect x="849.56" y="922.70" width="6.16" height="30.70" fill="#ae9dc5"/>
<rect x="856.72" y="922.70" width="6.16" height="30.70" fill="#ae9dc5"/>
<rect x="863.88" y="922.70" width="6.16" height="30.70" fill="#ae9dc5"/>
<rect x="871.03" y="922.70" width="6.16" height="30.70" fill="#8f5da1"/>
<rect x="878.19" y="922.70" width="6.16" height="30.70" fill="#ae9dc5"/>
<rect x="885.35" y="922.70" width="6.16" height="30.70" fill="#8f5da1"/>
<rect x="892.51" y="922.70" width="6.16" height="30.70" fill="#8f5da1"/>
<rect x="899.66" y="922.70" width="6.16" height="30.70" fill="#8f5da1"/>
<rect x="906.82" y="922.70" width="6.16" height="30.70" fill="#8f5da1"/>
<rect x="913.98" y="922.70" width="6.16" height="30.70" fill="#8f5da1"/>
<rect x="921.14" y="922.70" width="6.16" height="30.70" fill="#8f5da1"/>
<rect x="928.29" y="922.70" width="6.16" height="30.70" fill="#8f5da1"/>
<rect x="935.45" y="922.70" width="6.16" height="30.70" fill="#8f5da1"/>
<rect x="942.61" y="922.70" width="6.16" height="30.70" fill="#8f5da1"/>
<rect x="949.77" y="922.70" width="6.16" height="30.70" fill="#8f5da1"/>
<rect x="956.92" y="922.70" width="6.16" height="30.70" fill="#8f5da1"/>
<rect x="964.08" y="922.70" width="6.16" height="30.70" fill="#8f5da1"/>
<rect x="971.24" y="922.70" width="6.16" height="30.70" fill="#8f5da1"/>
<rect x="978.40" y="922.70" width="6.16" height="30.70" fill="#8f5da1"/>
<rect x="985.55" y="922.70" width="6.16" height="30.70" fill="#8f5da1"/>
<rect x="992.71" y="922.70" width="6.16" height="30.70" fill="#8f5da1"/>
<rect x="999.87" y="922.70" width="6.16" height="30.70" fill="#8f5da1"/>
<rect x="1007.03" y="922.70" width="6.16" height="30.70" fill="#8f5da1"/>
<rect x="1014.18" y="922.70" width="6.16" height="30.70" fill="#ae9dc5"/>
<rect x="1021.34" y="922.70" width="6.16" height="30.70" fill="#ae9dc5"/>
<rect x="1028.50" y="922.70" width="6.16" height="30.70" fill="#8f5da1"/>
<rect x="1035.66" y="922.70" width="6.16" height="30.70" fill="#8f5da1"/>
<rect x="1042.81" y="922.70" width="6.16" height="30.70" fill="#ae9dc5"/>
<rect x="1049.97" y="922.70" width="6.16" height="30.70" fill="#8f5da1"/>
<rect x="1057.13" y="922.70" width="6.16" height="30.70" fill="#8f5da1"/>
<rect x="1064.29" y="922.70" width="6.16" height="30.70" fill="#8f5da1"/>
<rect x="1071.44" y="922.70" width="6.16" height="30.70" fill="#8f5da1"/>
<rect x="1078.60" y="922.70" width="6.16" height="30.70" fill="#8f5da1"/>
<rect x="1085.76" y="922.70" width="6.16" height="30.70" fill="#ae9dc5"/>
<rect x="1092.92" y="922.70" width="6.16" height="30.70" fill="#8f5da1"/>
<rect x="1100.07" y="922.70" width="6.16" height="30.70" fill="#8f5da1"/>
<rect x="1107.23" y="922.70" width="6.16" height="30.70" fill="#8f5da1"/>
<rect x="1114.39" y="922.70" width="6.16" height="30.70" fill="#8f5da1"/>
<rect x="1121.55" y="922.70" width="6.16" height="30.70" fill="#ae9dc5"/>
<rect x="1128.70" y="922.70" width="6.16" height="30.70" fill="#ae9dc5"/>
<rect x="1135.86" y="922.70" width="6.16" height="30.70" fill="#8f5da1"/>
<rect x="1143.02" y="922.70" width="6.16" height="30.70" fill="#ae9dc5"/>
<rect x="1150.18" y="922.70" width="6.16" height="30.70" fill="#ae9dc5"/>
<rect x="1157.33" y="922.70" width="6.16" height="30.70" fill="#ae9dc5"/>
<rect x="1164.49" y="922.70" width="6.16" height="30.70" fill="#8f5da1"/>
<rect x="1171.65" y="922.70" width="6.16" height="30.70" fill="#8f5da1"/>
<rect x="1178.81" y="922.70" width="6.16" height="30.70" fill="#8f5da1"/>
<rect x="1185.96" y="922.70" width="6.16" height="30.70" fill="#ae9dc5"/>
<rect x="1193.12" y="922.70" width="6.16" height="30.70" fill="#8f5da1"/>
<rect x="1200.28" y="922.70" width="6.16" height="30.70" fill="#ae9dc5"/>
<rect x="1207.44" y="922.70" width="6.16" height="30.70" fill="#ae9dc5"/>
<rect x="1214.59" y="922.70" width="6.16" height="30.70" fill="#8f5da1"/>
<rect x="1221.75" y="922.70" width="6.16" height="30.70" fill="#8f5da1"/>
<rect x="1228.91" y="922.70" width="6.16" height="30.70" fill="#8f5da1"/>
<rect x="1236.07" y="922.70" width="6.16" height="30.70" fill="#8f5da1"/>
<rect x="1243.22" y="922.70" width="6.16" height="30.70" fill="#8f5da1"/>
<rect x="1250.38" y="922.70" width="6.16" height="30.70" fill="#ae9dc5"/>
<rect x="1257.54" y="922.70" width="6.16" height="30.70" fill="#8f5da1"/>
<rect x="1264.70" y="922.70" width="6.16" height="30.70" fill="#8f5da1"/>
<rect x="1271.85" y="922.70" width="6.16" height="30.70" fill="#ae9dc5"/>
<rect x="1279.01" y="922.70" width="6.16" height="30.70" fill="#8f5da1"/>
<rect x="1286.17" y="922.70" width="6.16" height="30.70" fill="#8f5da1"/>
<rect x="1293.33" y="922.70" width="6.16" height="30.70" fill="#8f5da1"/>
<rect x="1300.48" y="922.70" width="6.16" height="30.70" fill="#8f5da1"/>
<rect x="1307.64" y="922.70" width="6.16" height="30.70" fill="#8f5da1"/>
<rect x="1314.80" y="922.70" width="6.16" height="30.70" fill="#8f5da1"/>
<rect x="1321.96" y="922.70" width="6.16" height="30.70" fill="#8f5da1"/>
<rect x="1329.11" y="922.70" width="6.16" height="30.70" fill="#ae9dc5"/>
<rect x="1336.27" y="922.70" width="6.16" height="30.70" fill="#ae9dc5"/>
<rect x="1343.43" y="922.70" width="6.16" height="30.70" fill="#8f5da1"/>
<rect x="1350.59" y="922.70" width="6.16" height="30.70" fill="#8f5da1"/>
<rect x="1357.74" y="922.70" width="6.16" height="30.70" fill="#ae9dc5"/>
<rect x="741.70" y="967.30" width="258.17" height="22.40" fill="#0060b9"/>
<rect x="999.87" y="967.30" width="365.33" height="22.40" fill="#bb3034"/>
<rect x="742.20" y="1009.20" width="6.16" height="49.40" fill="#4e9b48"/>
<rect x="749.36" y="1009.20" width="6.16" height="49.40" fill="#4e9b48"/>
<rect x="756.51" y="1009.20" width="6.16" height="49.40" fill="#4e9b48"/>
<rect x="763.67" y="1009.20" width="6.16" height="49.40" fill="#e3e3e3"/>
<rect x="770.83" y="1009.20" width="6.16" height="49.40" fill="#e3e3e3"/>
<rect x="777.99" y="1009.20" width="6.16" height="49.40" fill="#e3e3e3"/>
<rect x="785.14" y="1009.20" width="6.16" height="49.40" fill="#e3e3e3"/>
<rect x="792.30" y="1009.20" width="6.16" height="49.40" fill="#e3e3e3"/>
<rect x="799.46" y="1009.20" width="6.16" height="49.40" fill="#e3e3e3"/>
<rect x="806.62" y="1009.20" width="6.16" height="49.40" fill="#e3e3e3"/>
<rect x="813.77" y="1009.20" width="6.16" height="49.40" fill="#e3e3e3"/>
<rect x="820.93" y="1009.20" width="6.16" height="49.40" fill="#e3e3e3"/>
<rect x="828.09" y="1009.20" width="6.16" height="49.40" fill="#e3e3e3"/>
<rect x="835.25" y="1009.20" width="6.16" height="49.40" fill="#e3e3e3"/>
<rect x="842.40" y="1009.20" width="6.16" height="49.40" fill="#e3e3e3"/>
<rect x="849.56" y="1009.20" width="6.16" height="49.40" fill="#e3e3e3"/>
<rect x="856.72" y="1009.20" width="6.16" height="49.40" fill="#e3e3e3"/>
<rect x="863.88" y="1009.20" width="6.16" height="49.40" fill="#e3e3e3"/>
<rect x="871.03" y="1009.20" width="6.16" height="49.40" fill="#e3e3e3"/>
<rect x="878.19" y="1009.20" width="6.16" height="49.40" fill="#e3e3e3"/>
<rect x="885.35" y="1009.20" width="6.16" height="49.40" fill="#e3e3e3"/>
<rect x="892.51" y="1009.20" width="6.16" height="49.40" fill="#e3e3e3"/>
<rect x="899.66" y="1009.20" width="6.16" height="49.40" fill="#e3e3e3"/>
<rect x="906.82" y="1009.20" width="6.16" height="49.40" fill="#e3e3e3"/>
<rect x="913.98" y="1009.20" width="6.16" height="49.40" fill="#e3e3e3"/>
<rect x="921.14" y="1009.20" width="6.16" height="49.40" fill="#e3e3e3"/>
<rect x="928.29" y="1009.20" width="6.16" height="49.40" fill="#e3e3e3"/>
<rect x="935.45" y="1009.20" width="6.16" height="49.40" fill="#e3e3e3"/>
<rect x="942.61" y="1009.20" width="6.16" height="49.40" fill="#e3e3e3"/>
<rect x="949.77" y="1009.20" width="6.16" height="49.40" fill="#e3e3e3"/>
<rect x="956.92" y="1009.20" width="6.16" height="49.40" fill="#e3e3e3"/>
<rect x="964.08" y="1009.20" width="6.16" height="49.40" fill="#e3e3e3"/>
<rect x="971.24" y="1009.20" width="6.16" height="49.40" fill="#e3e3e3"/>
<rect x="978.40" y="1009.20" width="6.16" height="49.40" fill="#e3e3e3"/>
<rect x="985.55" y="1009.20" width="6.16" height="49.40" fill="#e3e3e3"/>
<rect x="992.71" y="1009.20" width="6.16" height="49.40" fill="#e3e3e3"/>
<rect x="999.87" y="1009.20" width="6.16" height="49.40" fill="#4e9b48"/>
<rect x="1007.03" y="1009.20" width="6.16" height="49.40" fill="#4e9b48"/>
<rect x="1014.18" y="1009.20" width="6.16" height="49.40" fill="#4e9b48"/>
<rect x="1021.34" y="1009.20" width="6.16" height="49.40" fill="#e3e3e3"/>
<rect x="1028.50" y="1009.20" width="6.16" height="49.40" fill="#e3e3e3"/>
<rect x="1035.66" y="1009.20" width="6.16" height="49.40" fill="#e3e3e3"/>
<rect x="1042.81" y="1009.20" width="6.16" height="49.40" fill="#e3e3e3"/>
<rect x="1049.97" y="1009.20" width="6.16" height="49.40" fill="#e3e3e3"/>
<rect x="1057.13" y="1009.20" width="6.16" height="49.40" fill="#e3e3e3"/>
<rect x="1064.29" y="1009.20" width="6.16" height="49.40" fill="#e3e3e3"/>
<rect x="1071.44" y="1009.20" width="6.16" height="49.40" fill="#e3e3e3"/>
<rect x="1078.60" y="1009.20" width="6.16" height="49.40" fill="#e3e3e3"/>
<rect x="1085.76" y="1009.20" width="6.16" height="49.40" fill="#e3e3e3"/>
<rect x="1092.92" y="1009.20" width="6.16" height="49.40" fill="#e3e3e3"/>
<rect x="1100.07" y="1009.20" width="6.16" height="49.40" fill="#e3e3e3"/>
<rect x="1107.23" y="1009.20" width="6.16" height="49.40" fill="#e3e3e3"/>
<rect x="1114.39" y="1009.20" width="6.16" height="49.40" fill="#e3e3e3"/>
<rect x="1121.55" y="1009.20" width="6.16" height="49.40" fill="#e3e3e3"/>
<rect x="1128.70" y="1009.20" width="6.16" height="49.40" fill="#e3e3e3"/>
<rect x="1135.86" y="1009.20" width="6.16" height="49.40" fill="#e3e3e3"/>
<rect x="1143.02" y="1009.20" width="6.16" height="49.40" fill="#e3e3e3"/>
<rect x="1150.18" y="1009.20" width="6.16" height="49.40" fill="#e3e3e3"/>
<rect x="1157.33" y="1009.20" width="6.16" height="49.40" fill="#e3e3e3"/>
<rect x="1164.49" y="1009.20" width="6.16" height="49.40" fill="#e3e3e3"/>
<rect x="1171.65" y="1009.20" width="6.16" height="49.40" fill="#e3e3e3"/>
<rect x="1178.81" y="1009.20" width="6.16" height="49.40" fill="#e3e3e3"/>
<rect x="1185.96" y="1009.20" width="6.16" height="49.40" fill="#e3e3e3"/>
<rect x="1193.12" y="1009.20" width="6.16" height="49.40" fill="#e3e3e3"/>
<rect x="1200.28" y="1009.20" width="6.16" height="49.40" fill="#e3e3e3"/>
<rect x="1207.44" y="1009.20" width="6.16" height="49.40" fill="#e3e3e3"/>
<rect x="1214.59" y="1009.20" width="6.16" height="49.40" fill="#e3e3e3"/>
<rect x="1221.75" y="1009.20" width="6.16" height="49.40" fill="#e3e3e3"/>
<rect x="1228.91" y="1009.20" width="6.16" height="49.40" fill="#e3e3e3"/>
<rect x="1236.07" y="1009.20" width="6.16" height="49.40" fill="#e3e3e3"/>
<rect x="1243.22" y="1009.20" width="6.16" height="49.40" fill="#e3e3e3"/>
<rect x="1250.38" y="1009.20" width="6.16" height="49.40" fill="#e3e3e3"/>
<rect x="1257.54" y="1009.20" width="6.16" height="49.40" fill="#e3e3e3"/>
<rect x="1264.70" y="1009.20" width="6.16" height="49.40" fill="#e3e3e3"/>
<rect x="1271.85" y="1009.20" width="6.16" height="49.40" fill="#e3e3e3"/>
<rect x="1279.01" y="1009.20" width="6.16" height="49.40" fill="#e3e3e3"/>
<rect x="1286.17" y="1009.20" width="6.16" height="49.40" fill="#e3e3e3"/>
<rect x="1293.33" y="1009.20" width="6.16" height="49.40" fill="#e3e3e3"/>
<rect x="1300.48" y="1009.20" width="6.16" height="49.40" fill="#e3e3e3"/>
<rect x="1307.64" y="1009.20" width="6.16" height="49.40" fill="#e3e3e3"/>
<rect x="1314.80" y="1009.20" width="6.16" height="49.40" fill="#e3e3e3"/>
<rect x="1321.96" y="1009.20" width="6.16" height="49.40" fill="#e3e3e3"/>
<rect x="1329.11" y="1009.20" width="6.16" height="49.40" fill="#e3e3e3"/>
<rect x="1336.27" y="1009.20" width="6.16" height="49.40" fill="#e3e3e3"/>
<rect x="1343.43" y="1009.20" width="6.16" height="49.40" fill="#e3e3e3"/>
<rect x="1350.59" y="1009.20" width="6.16" height="49.40" fill="#e3e3e3"/>
<rect x="1357.74" y="1009.20" width="6.16" height="49.40" fill="#e3e3e3"/>
<rect x="742.20" y="1060.15" width="6.16" height="49.40" fill="#4e9b48"/>
<rect x="749.36" y="1060.15" width="6.16" height="49.40" fill="#4e9b48"/>
<rect x="756.51" y="1060.15" width="6.16" height="49.40" fill="#4e9b48"/>
<rect x="763.67" y="1060.15" width="6.16" height="49.40" fill="#e3e3e3"/>
<rect x="770.83" y="1060.15" width="6.16" height="49.40" fill="#e3e3e3"/>
<rect x="777.99" y="1060.15" width="6.16" height="49.40" fill="#e3e3e3"/>
<rect x="785.14" y="1060.15" width="6.16" height="49.40" fill="#e3e3e3"/>
<rect x="792.30" y="1060.15" width="6.16" height="49.40" fill="#e3e3e3"/>
<rect x="799.46" y="1060.15" width="6.16" height="49.40" fill="#e3e3e3"/>
<rect x="806.62" y="1060.15" width="6.16" height="49.40" fill="#e3e3e3"/>
<rect x="813.77" y="1060.15" width="6.16" height="49.40" fill="#e3e3e3"/>
<rect x="820.93" y="1060.15" width="6.16" height="49.40" fill="#e3e3e3"/>
<rect x="828.09" y="1060.15" width="6.16" height="49.40" fill="#e3e3e3"/>
<rect x="835.25" y="1060.15" width="6.16" height="49.40" fill="#e3e3e3"/>
<rect x="842.40" y="1060.15" width="6.16" height="49.40" fill="#e3e3e3"/>
<rect x="849.56" y="1060.15" width="6.16" height="49.40" fill="#e3e3e3"/>
<rect x="856.72" y="1060.15" width="6.16" height="49.40" fill="#e3e3e3"/>
<rect x="863.88" y="1060.15" width="6.16" height="49.40" fill="#e3e3e3"/>
<rect x="871.03" y="1060.15" width="6.16" height="49.40" fill="#e3e3e3"/>
<rect x="878.19" y="1060.15" width="6.16" height="49.40" fill="#e3e3e3"/>
<rect x="885.35" y="1060.15" width="6.16" height="49.40" fill="#e3e3e3"/>
<rect x="892.51" y="1060.15" width="6.16" height="49.40" fill="#e3e3e3"/>
<rect x="899.66" y="1060.15" width="6.16" height="49.40" fill="#e3e3e3"/>
<rect x="906.82" y="1060.15" width="6.16" height="49.40" fill="#e3e3e3"/>
<rect x="913.98" y="1060.15" width="6.16" height="49.40" fill="#e3e3e3"/>
<rect x="921.14" y="1060.15" width="6.16" height="49.40" fill="#e3e3e3"/>
<rect x="928.29" y="1060.15" width="6.16" height="49.40" fill="#e3e3e3"/>
<rect x="935.45" y="1060.15" width="6.16" height="49.40" fill="#e3e3e3"/>
<rect x="942.61" y="1060.15" width="6.16" height="49.40" fill="#e3e3e3"/>
<rect x="949.77" y="1060.15" width="6.16" height="49.40" fill="#e3e3e3"/>
<rect x="956.92" y="1060.15" width="6.16" height="49.40" fill="#e3e3e3"/>
<rect x="964.08" y="1060.15" width="6.16" height="49.40" fill="#e3e3e3"/>
<rect x="971.24" y="1060.15" width="6.16" height="49.40" fill="#e3e3e3"/>
<rect x="978.40" y="1060.15" width="6.16" height="49.40" fill="#e3e3e3"/>
<rect x="985.55" y="1060.15" width="6.16" height="49.40" fill="#e3e3e3"/>
<rect x="992.71" y="1060.15" width="6.16" height="49.40" fill="#e3e3e3"/>
<rect x="999.87" y="1060.15" width="6.16" height="49.40" fill="#4e9b48"/>
<rect x="1007.03" y="1060.15" width="6.16" height="49.40" fill="#4e9b48"/>
<rect x="1014.18" y="1060.15" width="6.16" height="49.40" fill="#4e9b48"/>
<rect x="1021.34" y="1060.15" width="6.16" height="49.40" fill="#e3e3e3"/>
<rect x="1028.50" y="1060.15" width="6.16" height="49.40" fill="#e3e3e3"/>
<rect x="1035.66" y="1060.15" width="6.16" height="49.40" fill="#e3e3e3"/>
<rect x="1042.81" y="1060.15" width="6.16" height="49.40" fill="#e3e3e3"/>
<rect x="1049.97" y="1060.15" width="6.16" height="49.40" fill="#e3e3e3"/>
<rect x="1057.13" y="1060.15" width="6.16" height="49.40" fill="#e3e3e3"/>
<rect x="1064.29" y="1060.15" width="6.16" height="49.40" fill="#e3e3e3"/>
<rect x="1071.44" y="1060.15" width="6.16" height="49.40" fill="#e3e3e3"/>
<rect x="1078.60" y="1060.15" width="6.16" height="49.40" fill="#e3e3e3"/>
<rect x="1085.76" y="1060.15" width="6.16" height="49.40" fill="#e3e3e3"/>
<rect x="1092.92" y="1060.15" width="6.16" height="49.40" fill="#e3e3e3"/>
<rect x="1100.07" y="1060.15" width="6.16" height="49.40" fill="#e3e3e3"/>
<rect x="1107.23" y="1060.15" width="6.16" height="49.40" fill="#e3e3e3"/>
<rect x="1114.39" y="1060.15" width="6.16" height="49.40" fill="#e3e3e3"/>
<rect x="1121.55" y="1060.15" width="6.16" height="49.40" fill="#e3e3e3"/>
<rect x="1128.70" y="1060.15" width="6.16" height="49.40" fill="#e3e3e3"/>
<rect x="1135.86" y="1060.15" width="6.16" height="49.40" fill="#e3e3e3"/>
<rect x="1143.02" y="1060.15" width="6.16" height="49.40" fill="#e3e3e3"/>
<rect x="1150.18" y="1060.15" width="6.16" height="49.40" fill="#e3e3e3"/>
<rect x="1157.33" y="1060.15" width="6.16" height="49.40" fill="#e3e3e3"/>
<rect x="1164.49" y="1060.15" width="6.16" height="49.40" fill="#e3e3e3"/>
<rect x="1171.65" y="1060.15" width="6.16" height="49.40" fill="#e3e3e3"/>
<rect x="1178.81" y="1060.15" width="6.16" height="49.40" fill="#e3e3e3"/>
<rect x="1185.96" y="1060.15" width="6.16" height="49.40" fill="#e3e3e3"/>
<rect x="1193.12" y="1060.15" width="6.16" height="49.40" fill="#e3e3e3"/>
<rect x="1200.28" y="1060.15" width="6.16" height="49.40" fill="#e3e3e3"/>
<rect x="1207.44" y="1060.15" width="6.16" height="49.40" fill="#e3e3e3"/>
<rect x="1214.59" y="1060.15" width="6.16" height="49.40" fill="#e3e3e3"/>
<rect x="1221.75" y="1060.15" width="6.16" height="49.40" fill="#e3e3e3"/>
<rect x="1228.91" y="1060.15" width="6.16" height="49.40" fill="#e3e3e3"/>
<rect x="1236.07" y="1060.15" width="6.16" height="49.40" fill="#e3e3e3"/>
<rect x="1243.22" y="1060.15" width="6.16" height="49.40" fill="#e3e3e3"/>
<rect x="1250.38" y="1060.15" width="6.16" height="49.40" fill="#e3e3e3"/>
<rect x="1257.54" y="1060.15" width="6.16" height="49.40" fill="#e3e3e3"/>
<rect x="1264.70" y="1060.15" width="6.16" height="49.40" fill="#e3e3e3"/>
<rect x="1271.85" y="1060.15" width="6.16" height="49.40" fill="#e3e3e3"/>
<rect x="1279.01" y="1060.15" width="6.16" height="49.40" fill="#e3e3e3"/>
<rect x="1286.17" y="1060.15" width="6.16" height="49.40" fill="#e3e3e3"/>
<rect x="1293.33" y="1060.15" width="6.16" height="49.40" fill="#e3e3e3"/>
<rect x="1300.48" y="1060.15" width="6.16" height="49.40" fill="#e3e3e3"/>
<rect x="1307.64" y="1060.15" width="6.16" height="49.40" fill="#e3e3e3"/>
<rect x="1314.80" y="1060.15" width="6.16" height="49.40" fill="#e3e3e3"/>
<rect x="1321.96" y="1060.15" width="6.16" height="49.40" fill="#e3e3e3"/>
<rect x="1329.11" y="1060.15" width="6.16" height="49.40" fill="#e3e3e3"/>
<rect x="1336.27" y="1060.15" width="6.16" height="49.40" fill="#e3e3e3"/>
<rect x="1343.43" y="1060.15" width="6.16" height="49.40" fill="#e3e3e3"/>
<rect x="1350.59" y="1060.15" width="6.16" height="49.40" fill="#e3e3e3"/>
<rect x="1357.74" y="1060.15" width="6.16" height="49.40" fill="#e3e3e3"/>
<rect x="742.20" y="1111.10" width="6.16" height="49.40" fill="#e3e3e3"/>
<rect x="749.36" y="1111.10" width="6.16" height="49.40" fill="#e3e3e3"/>
<rect x="756.51" y="1111.10" width="6.16" height="49.40" fill="#e3e3e3"/>
<rect x="763.67" y="1111.10" width="6.16" height="49.40" fill="#e3e3e3"/>
<rect x="770.83" y="1111.10" width="6.16" height="49.40" fill="#e3e3e3"/>
<rect x="777.99" y="1111.10" width="6.16" height="49.40" fill="#e3e3e3"/>
<rect x="785.14" y="1111.10" width="6.16" height="49.40" fill="#e3e3e3"/>
<rect x="792.30" y="1111.10" width="6.16" height="49.40" fill="#e3e3e3"/>
<rect x="799.46" y="1111.10" width="6.16" height="49.40" fill="#e3e3e3"/>
<rect x="806.62" y="1111.10" width="6.16" height="49.40" fill="#e3e3e3"/>
<rect x="813.77" y="1111.10" width="6.16" height="49.40" fill="#e3e3e3"/>
<rect x="820.93" y="1111.10" width="6.16" height="49.40" fill="#e3e3e3"/>
<rect x="828.09" y="1111.10" width="6.16" height="49.40" fill="#e3e3e3"/>
<rect x="835.25" y="1111.10" width="6.16" height="49.40" fill="#e3e3e3"/>
<rect x="842.40" y="1111.10" width="6.16" height="49.40" fill="#e3e3e3"/>
<rect x="849.56" y="1111.10" width="6.16" height="49.40" fill="#e3e3e3"/>
<rect x="856.72" y="1111.10" width="6.16" height="49.40" fill="#e3e3e3"/>
<rect x="863.88" y="1111.10" width="6.16" height="49.40" fill="#e3e3e3"/>
<rect x="871.03" y="1111.10" width="6.16" height="49.40" fill="#e3e3e3"/>
<rect x="878.19" y="1111.10" width="6.16" height="49.40" fill="#e3e3e3"/>
<rect x="885.35" y="1111.10" width="6.16" height="49.40" fill="#e3e3e3"/>
<rect x="892.51" y="1111.10" width="6.16" height="49.40" fill="#e3e3e3"/>
<rect x="899.66" y="1111.10" width="6.16" height="49.40" fill="#e3e3e3"/>
<rect x="906.82" y="1111.10" width="6.16" height="49.40" fill="#e3e3e3"/>
<rect x="913.98" y="1111.10" width="6.16" height="49.40" fill="#e3e3e3"/>
<rect x="921.14" y="1111.10" width="6.16" height="49.40" fill="#e3e3e3"/>
<rect x="928.29" y="1111.10" width="6.16" height="49.40" fill="#e3e3e3"/>
<rect x="935.45" y="1111.10" width="6.16" height="49.40" fill="#e3e3e3"/>
<rect x="942.61" y="1111.10" width="6.16" height="49.40" fill="#e3e3e3"/>
<rect x="949.77" y="1111.10" width="6.16" height="49.40" fill="#e3e3e3"/>
<rect x="956.92" y="1111.10" width="6.16" height="49.40" fill="#e3e3e3"/>
<rect x="964.08" y="1111.10" width="6.16" height="49.40" fill="#e3e3e3"/>
<rect x="971.24" y="1111.10" width="6.16" height="49.40" fill="#e3e3e3"/>
<rect x="978.40" y="1111.10" width="6.16" height="49.40" fill="#e3e3e3"/>
<rect x="985.55" y="1111.10" width="6.16" height="49.40" fill="#e3e3e3"/>
<rect x="992.71" y="1111.10" width="6.16" height="49.40" fill="#e3e3e3"/>
<rect x="999.87" y="1111.10" width="6.16" height="49.40" fill="#e3e3e3"/>
<rect x="1007.03" y="1111.10" width="6.16" height="49.40" fill="#e3e3e3"/>
<rect x="1014.18" y="1111.10" width="6.16" height="49.40" fill="#e3e3e3"/>
<rect x="1021.34" y="1111.10" width="6.16" height="49.40" fill="#e3e3e3"/>
<rect x="1028.50" y="1111.10" width="6.16" height="49.40" fill="#e3e3e3"/>
<rect x="1035.66" y="1111.10" width="6.16" height="49.40" fill="#e3e3e3"/>
<rect x="1042.81" y="1111.10" width="6.16" height="49.40" fill="#e3e3e3"/>
<rect x="1049.97" y="1111.10" width="6.16" height="49.40" fill="#e3e3e3"/>
<rect x="1057.13" y="1111.10" width="6.16" height="49.40" fill="#e3e3e3"/>
<rect x="1064.29" y="1111.10" width="6.16" height="49.40" fill="#e3e3e3"/>
<rect x="1071.44" y="1111.10" width="6.16" height="49.40" fill="#e3e3e3"/>
<rect x="1078.60" y="1111.10" width="6.16" height="49.40" fill="#e3e3e3"/>
<rect x="1085.76" y="1111.10" width="6.16" height="49.40" fill="#e3e3e3"/>
<rect x="1092.92" y="1111.10" width="6.16" height="49.40" fill="#e3e3e3"/>
<rect x="1100.07" y="1111.10" width="6.16" height="49.40" fill="#e3e3e3"/>
<rect x="1107.23" y="1111.10" width="6.16" height="49.40" fill="#e3e3e3"/>
<rect x="1114.39" y="1111.10" width="6.16" height="49.40" fill="#e3e3e3"/>
<rect x="1121.55" y="1111.10" width="6.16" height="49.40" fill="#e3e3e3"/>
<rect x="1128.70" y="1111.10" width="6.16" height="49.40" fill="#e3e3e3"/>
<rect x="1135.86" y="1111.10" width="6.16" height="49.40" fill="#e3e3e3"/>
<rect x="1143.02" y="1111.10" width="6.16" height="49.40" fill="#e3e3e3"/>
<rect x="1150.18" y="1111.10" width="6.16" height="49.40" fill="#e3e3e3"/>
<rect x="1157.33" y="1111.10" width="6.16" height="49.40" fill="#e3e3e3"/>
<rect x="1164.49" y="1111.10" width="6.16" height="49.40" fill="#e3e3e3"/>
<rect x="1171.65" y="1111.10" width="6.16" height="49.40" fill="#e3e3e3"/>
<rect x="1178.81" y="1111.10" width="6.16" height="49.40" fill="#e3e3e3"/>
<rect x="1185.96" y="1111.10" width="6.16" height="49.40" fill="#e3e3e3"/>
<rect x="1193.12" y="1111.10" width="6.16" height="49.40" fill="#e3e3e3"/>
<rect x="1200.28" y="1111.10" width="6.16" height="49.40" fill="#e3e3e3"/>
<rect x="1207.44" y="1111.10" width="6.16" height="49.40" fill="#e3e3e3"/>
<rect x="1214.59" y="1111.10" width="6.16" height="49.40" fill="#e3e3e3"/>
<rect x="1221.75" y="1111.10" width="6.16" height="49.40" fill="#e3e3e3"/>
<rect x="1228.91" y="1111.10" width="6.16" height="49.40" fill="#e3e3e3"/>
<rect x="1236.07" y="1111.10" width="6.16" height="49.40" fill="#e3e3e3"/>
<rect x="1243.22" y="1111.10" width="6.16" height="49.40" fill="#e3e3e3"/>
<rect x="1250.38" y="1111.10" width="6.16" height="49.40" fill="#e3e3e3"/>
<rect x="1257.54" y="1111.10" width="6.16" height="49.40" fill="#e3e3e3"/>
<rect x="1264.70" y="1111.10" width="6.16" height="49.40" fill="#e3e3e3"/>
<rect x="1271.85" y="1111.10" width="6.16" height="49.40" fill="#e3e3e3"/>
<rect x="1279.01" y="1111.10" width="6.16" height="49.40" fill="#e3e3e3"/>
<rect x="1286.17" y="1111.10" width="6.16" height="49.40" fill="#e3e3e3"/>
<rect x="1293.33" y="1111.10" width="6.16" height="49.40" fill="#e3e3e3"/>
<rect x="1300.48" y="1111.10" width="6.16" height="49.40" fill="#e3e3e3"/>
<rect x="1307.64" y="1111.10" width="6.16" height="49.40" fill="#e3e3e3"/>
<rect x="1314.80" y="1111.10" width="6.16" height="49.40" fill="#e3e3e3"/>
<rect x="1321.96" y="1111.10" width="6.16" height="49.40" fill="#e3e3e3"/>
<rect x="1329.11" y="1111.10" width="6.16" height="49.40" fill="#e3e3e3"/>
<rect x="1336.27" y="1111.10" width="6.16" height="49.40" fill="#e3e3e3"/>
<rect x="1343.43" y="1111.10" width="6.16" height="49.40" fill="#e3e3e3"/>
<rect x="1350.59" y="1111.10" width="6.16" height="49.40" fill="#e3e3e3"/>
<rect x="1357.74" y="1111.10" width="6.16" height="49.40" fill="#e3e3e3"/>
<rect x="742.20" y="1162.05" width="6.16" height="49.40" fill="#e3e3e3"/>
<rect x="749.36" y="1162.05" width="6.16" height="49.40" fill="#e3e3e3"/>
<rect x="756.51" y="1162.05" width="6.16" height="49.40" fill="#e3e3e3"/>
<rect x="763.67" y="1162.05" width="6.16" height="49.40" fill="#e3e3e3"/>
<rect x="770.83" y="1162.05" width="6.16" height="49.40" fill="#e3e3e3"/>
<rect x="777.99" y="1162.05" width="6.16" height="49.40" fill="#e3e3e3"/>
<rect x="785.14" y="1162.05" width="6.16" height="49.40" fill="#e3e3e3"/>
<rect x="792.30" y="1162.05" width="6.16" height="49.40" fill="#e3e3e3"/>
<rect x="799.46" y="1162.05" width="6.16" height="49.40" fill="#e3e3e3"/>
<rect x="806.62" y="1162.05" width="6.16" height="49.40" fill="#e3e3e3"/>
<rect x="813.77" y="1162.05" width="6.16" height="49.40" fill="#e3e3e3"/>
<rect x="820.93" y="1162.05" width="6.16" height="49.40" fill="#e3e3e3"/>
<rect x="828.09" y="1162.05" width="6.16" height="49.40" fill="#e3e3e3"/>
<rect x="835.25" y="1162.05" width="6.16" height="49.40" fill="#e3e3e3"/>
<rect x="842.40" y="1162.05" width="6.16" height="49.40" fill="#e3e3e3"/>
<rect x="849.56" y="1162.05" width="6.16" height="49.40" fill="#e3e3e3"/>
<rect x="856.72" y="1162.05" width="6.16" height="49.40" fill="#e3e3e3"/>
<rect x="863.88" y="1162.05" width="6.16" height="49.40" fill="#e3e3e3"/>
<rect x="871.03" y="1162.05" width="6.16" height="49.40" fill="#e3e3e3"/>
<rect x="878.19" y="1162.05" width="6.16" height="49.40" fill="#e3e3e3"/>
<rect x="885.35" y="1162.05" width="6.16" height="49.40" fill="#e3e3e3"/>
<rect x="892.51" y="1162.05" width="6.16" height="49.40" fill="#e3e3e3"/>
<rect x="899.66" y="1162.05" width="6.16" height="49.40" fill="#e3e3e3"/>
<rect x="906.82" y="1162.05" width="6.16" height="49.40" fill="#e3e3e3"/>
<rect x="913.98" y="1162.05" width="6.16" height="49.40" fill="#e3e3e3"/>
<rect x="921.14" y="1162.05" width="6.16" height="49.40" fill="#e3e3e3"/>
<rect x="928.29" y="1162.05" width="6.16" height="49.40" fill="#e3e3e3"/>
<rect x="935.45" y="1162.05" width="6.16" height="49.40" fill="#e3e3e3"/>
<rect x="942.61" y="1162.05" width="6.16" height="49.40" fill="#e3e3e3"/>
<rect x="949.77" y="1162.05" width="6.16" height="49.40" fill="#e3e3e3"/>
<rect x="956.92" y="1162.05" width="6.16" height="49.40" fill="#e3e3e3"/>
<rect x="964.08" y="1162.05" width="6.16" height="49.40" fill="#e3e3e3"/>
<rect x="971.24" y="1162.05" width="6.16" height="49.40" fill="#e3e3e3"/>
<rect x="978.40" y="1162.05" width="6.16" height="49.40" fill="#e3e3e3"/>
<rect x="985.55" y="1162.05" width="6.16" height="49.40" fill="#e3e3e3"/>
<rect x="992.71" y="1162.05" width="6.16" height="49.40" fill="#e3e3e3"/>
<rect x="999.87" y="1162.05" width="6.16" height="49.40" fill="#e3e3e3"/>
<rect x="1007.03" y="1162.05" width="6.16" height="49.40" fill="#e3e3e3"/>
<rect x="1014.18" y="1162.05" width="6.16" height="49.40" fill="#e3e3e3"/>
<rect x="1021.34" y="1162.05" width="6.16" height="49.40" fill="#e3e3e3"/>
<rect x="1028.50" y="1162.05" width="6.16" height="49.40" fill="#e3e3e3"/>
<rect x="1035.66" y="1162.05" width="6.16" height="49.40" fill="#e3e3e3"/>
<rect x="1042.81" y="1162.05" width="6.16" height="49.40" fill="#e3e3e3"/>
<rect x="1049.97" y="1162.05" width="6.16" height="49.40" fill="#e3e3e3"/>
<rect x="1057.13" y="1162.05" width="6.16" height="49.40" fill="#e3e3e3"/>
<rect x="1064.29" y="1162.05" width="6.16" height="49.40" fill="#e3e3e3"/>
<rect x="1071.44" y="1162.05" width="6.16" height="49.40" fill="#e3e3e3"/>
<rect x="1078.60" y="1162.05" width="6.16" height="49.40" fill="#e3e3e3"/>
<rect x="1085.76" y="1162.05" width="6.16" height="49.40" fill="#e3e3e3"/>
<rect x="1092.92" y="1162.05" width="6.16" height="49.40" fill="#e3e3e3"/>
<rect x="1100.07" y="1162.05" width="6.16" height="49.40" fill="#e3e3e3"/>
<rect x="1107.23" y="1162.05" width="6.16" height="49.40" fill="#e3e3e3"/>
<rect x="1114.39" y="1162.05" width="6.16" height="49.40" fill="#e3e3e3"/>
<rect x="1121.55" y="1162.05" width="6.16" height="49.40" fill="#e3e3e3"/>
<rect x="1128.70" y="1162.05" width="6.16" height="49.40" fill="#e3e3e3"/>
<rect x="1135.86" y="1162.05" width="6.16" height="49.40" fill="#e3e3e3"/>
<rect x="1143.02" y="1162.05" width="6.16" height="49.40" fill="#e3e3e3"/>
<rect x="1150.18" y="1162.05" width="6.16" height="49.40" fill="#e3e3e3"/>
<rect x="1157.33" y="1162.05" width="6.16" height="49.40" fill="#e3e3e3"/>
<rect x="1164.49" y="1162.05" width="6.16" height="49.40" fill="#e3e3e3"/>
<rect x="1171.65" y="1162.05" width="6.16" height="49.40" fill="#e3e3e3"/>
<rect x="1178.81" y="1162.05" width="6.16" height="49.40" fill="#e3e3e3"/>
<rect x="1185.96" y="1162.05" width="6.16" height="49.40" fill="#e3e3e3"/>
<rect x="1193.12" y="1162.05" width="6.16" height="49.40" fill="#e3e3e3"/>
<rect x="1200.28" y="1162.05" width="6.16" height="49.40" fill="#e3e3e3"/>
<rect x="1207.44" y="1162.05" width="6.16" height="49.40" fill="#e3e3e3"/>
<rect x="1214.59" y="1162.05" width="6.16" height="49.40" fill="#e3e3e3"/>
<rect x="1221.75" y="1162.05" width="6.16" height="49.40" fill="#e3e3e3"/>
<rect x="1228.91" y="1162.05" width="6.16" height="49.40" fill="#e3e3e3"/>
<rect x="1236.07" y="1162.05" width="6.16" height="49.40" fill="#e3e3e3"/>
<rect x="1243.22" y="1162.05" width="6.16" height="49.40" fill="#e3e3e3"/>
<rect x="1250.38" y="1162.05" width="6.16" height="49.40" fill="#e3e3e3"/>
<rect x="1257.54" y="1162.05" width="6.16" height="49.40" fill="#e3e3e3"/>
<rect x="1264.70" y="1162.05" width="6.16" height="49.40" fill="#e3e3e3"/>
<rect x="1271.85" y="1162.05" width="6.16" height="49.40" fill="#e3e3e3"/>
<rect x="1279.01" y="1162.05" width="6.16" height="49.40" fill="#e3e3e3"/>
<rect x="1286.17" y="1162.05" width="6.16" height="49.40" fill="#e3e3e3"/>
<rect x="1293.33" y="1162.05" width="6.16" height="49.40" fill="#e3e3e3"/>
<rect x="1300.48" y="1162.05" width="6.16" height="49.40" fill="#e3e3e3"/>
<rect x="1307.64" y="1162.05" width="6.16" height="49.40" fill="#e3e3e3"/>
<rect x="1314.80" y="1162.05" width="6.16" height="49.40" fill="#e3e3e3"/>
<rect x="1321.96" y="1162.05" width="6.16" height="49.40" fill="#e3e3e3"/>
<rect x="1329.11" y="1162.05" width="6.16" height="49.40" fill="#e3e3e3"/>
<rect x="1336.27" y="1162.05" width="6.16" height="49.40" fill="#e3e3e3"/>
<rect x="1343.43" y="1162.05" width="6.16" height="49.40" fill="#e3e3e3"/>
<rect x="1350.59" y="1162.05" width="6.16" height="49.40" fill="#e3e3e3"/>
<rect x="1357.74" y="1162.05" width="6.16" height="49.40" fill="#e3e3e3"/>
<rect x="742.20" y="1213.00" width="6.16" height="49.40" fill="#e3e3e3"/>
<rect x="749.36" y="1213.00" width="6.16" height="49.40" fill="#e3e3e3"/>
<rect x="756.51" y="1213.00" width="6.16" height="49.40" fill="#e3e3e3"/>
<rect x="763.67" y="1213.00" width="6.16" height="49.40" fill="#e3e3e3"/>
<rect x="770.83" y="1213.00" width="6.16" height="49.40" fill="#e3e3e3"/>
<rect x="777.99" y="1213.00" width="6.16" height="49.40" fill="#e3e3e3"/>
<rect x="785.14" y="1213.00" width="6.16" height="49.40" fill="#e3e3e3"/>
<rect x="792.30" y="1213.00" width="6.16" height="49.40" fill="#e3e3e3"/>
<rect x="799.46" y="1213.00" width="6.16" height="49.40" fill="#e3e3e3"/>
<rect x="806.62" y="1213.00" width="6.16" height="49.40" fill="#e3e3e3"/>
<rect x="813.77" y="1213.00" width="6.16" height="49.40" fill="#e3e3e3"/>
<rect x="820.93" y="1213.00" width="6.16" height="49.40" fill="#e3e3e3"/>
<rect x="828.09" y="1213.00" width="6.16" height="49.40" fill="#e3e3e3"/>
<rect x="835.25" y="1213.00" width="6.16" height="49.40" fill="#e3e3e3"/>
<rect x="842.40" y="1213.00" width="6.16" height="49.40" fill="#e3e3e3"/>
<rect x="849.56" y="1213.00" width="6.16" height="49.40" fill="#e3e3e3"/>
<rect x="856.72" y="1213.00" width="6.16" height="49.40" fill="#e3e3e3"/>
<rect x="863.88" y="1213.00" width="6.16" height="49.40" fill="#e3e3e3"/>
<rect x="871.03" y="1213.00" width="6.16" height="49.40" fill="#e3e3e3"/>
<rect x="878.19" y="1213.00" width="6.16" height="49.40" fill="#e3e3e3"/>
<rect x="885.35" y="1213.00" width="6.16" height="49.40" fill="#e3e3e3"/>
<rect x="892.51" y="1213.00" width="6.16" height="49.40" fill="#e3e3e3"/>
<rect x="899.66" y="1213.00" width="6.16" height="49.40" fill="#e3e3e3"/>
<rect x="906.82" y="1213.00" width="6.16" height="49.40" fill="#e3e3e3"/>
<rect x="913.98" y="1213.00" width="6.16" height="49.40" fill="#e3e3e3"/>
<rect x="921.14" y="1213.00" width="6.16" height="49.40" fill="#e3e3e3"/>
<rect x="928.29" y="1213.00" width="6.16" height="49.40" fill="#e3e3e3"/>
<rect x="935.45" y="1213.00" width="6.16" height="49.40" fill="#e3e3e3"/>
<rect x="942.61" y="1213.00" width="6.16" height="49.40" fill="#e3e3e3"/>
<rect x="949.77" y="1213.00" width="6.16" height="49.40" fill="#e3e3e3"/>
<rect x="956.92" y="1213.00" width="6.16" height="49.40" fill="#e3e3e3"/>
<rect x="964.08" y="1213.00" width="6.16" height="49.40" fill="#e3e3e3"/>
<rect x="971.24" y="1213.00" width="6.16" height="49.40" fill="#e3e3e3"/>
<rect x="978.40" y="1213.00" width="6.16" height="49.40" fill="#e3e3e3"/>
<rect x="985.55" y="1213.00" width="6.16" height="49.40" fill="#e3e3e3"/>
<rect x="992.71" y="1213.00" width="6.16" height="49.40" fill="#e3e3e3"/>
<rect x="999.87" y="1213.00" width="6.16" height="49.40" fill="#e3e3e3"/>
<rect x="1007.03" y="1213.00" width="6.16" height="49.40" fill="#e3e3e3"/>
<rect x="1014.18" y="1213.00" width="6.16" height="49.40" fill="#e3e3e3"/>
<rect x="1021.34" y="1213.00" width="6.16" height="49.40" fill="#e3e3e3"/>
<rect x="1028.50" y="1213.00" width="6.16" height="49.40" fill="#e3e3e3"/>
<rect x="1035.66" y="1213.00" width="6.16" height="49.40" fill="#e3e3e3"/>
<rect x="1042.81" y="1213.00" width="6.16" height="49.40" fill="#e3e3e3"/>
<rect x="1049.97" y="1213.00" width="6.16" height="49.40" fill="#e3e3e3"/>
<rect x="1057.13" y="1213.00" width="6.16" height="49.40" fill="#e3e3e3"/>
<rect x="1064.29" y="1213.00" width="6.16" height="49.40" fill="#e3e3e3"/>
<rect x="1071.44" y="1213.00" width="6.16" height="49.40" fill="#e3e3e3"/>
<rect x="1078.60" y="1213.00" width="6.16" height="49.40" fill="#e3e3e3"/>
<rect x="1085.76" y="1213.00" width="6.16" height="49.40" fill="#e3e3e3"/>
<rect x="1092.92" y="1213.00" width="6.16" height="49.40" fill="#e3e3e3"/>
<rect x="1100.07" y="1213.00" width="6.16" height="49.40" fill="#e3e3e3"/>
<rect x="1107.23" y="1213.00" width="6.16" height="49.40" fill="#e3e3e3"/>
<rect x="1114.39" y="1213.00" width="6.16" height="49.40" fill="#e3e3e3"/>
<rect x="1121.55" y="1213.00" width="6.16" height="49.40" fill="#e3e3e3"/>
<rect x="1128.70" y="1213.00" width="6.16" height="49.40" fill="#e3e3e3"/>
<rect x="1135.86" y="1213.00" width="6.16" height="49.40" fill="#e3e3e3"/>
<rect x="1143.02" y="1213.00" width="6.16" height="49.40" fill="#e3e3e3"/>
<rect x="1150.18" y="1213.00" width="6.16" height="49.40" fill="#e3e3e3"/>
<rect x="1157.33" y="1213.00" width="6.16" height="49.40" fill="#e3e3e3"/>
<rect x="1164.49" y="1213.00" width="6.16" height="49.40" fill="#e3e3e3"/>
<rect x="1171.65" y="1213.00" width="6.16" height="49.40" fill="#e3e3e3"/>
<rect x="1178.81" y="1213.00" width="6.16" height="49.40" fill="#e3e3e3"/>
<rect x="1185.96" y="1213.00" width="6.16" height="49.40" fill="#e3e3e3"/>
<rect x="1193.12" y="1213.00" width="6.16" height="49.40" fill="#e3e3e3"/>
<rect x="1200.28" y="1213.00" width="6.16" height="49.40" fill="#e3e3e3"/>
<rect x="1207.44" y="1213.00" width="6.16" height="49.40" fill="#e3e3e3"/>
<rect x="1214.59" y="1213.00" width="6.16" height="49.40" fill="#e3e3e3"/>
<rect x="1221.75" y="1213.00" width="6.16" height="49.40" fill="#e3e3e3"/>
<rect x="1228.91" y="1213.00" width="6.16" height="49.40" fill="#e3e3e3"/>
<rect x="1236.07" y="1213.00" width="6.16" height="49.40" fill="#e3e3e3"/>
<rect x="1243.22" y="1213.00" width="6.16" height="49.40" fill="#e3e3e3"/>
<rect x="1250.38" y="1213.00" width="6.16" height="49.40" fill="#e3e3e3"/>
<rect x="1257.54" y="1213.00" width="6.16" height="49.40" fill="#e3e3e3"/>
<rect x="1264.70" y="1213.00" width="6.16" height="49.40" fill="#e3e3e3"/>
<rect x="1271.85" y="1213.00" width="6.16" height="49.40" fill="#e3e3e3"/>
<rect x="1279.01" y="1213.00" width="6.16" height="49.40" fill="#e3e3e3"/>
<rect x="1286.17" y="1213.00" width="6.16" height="49.40" fill="#e3e3e3"/>
<rect x="1293.33" y="1213.00" width="6.16" height="49.40" fill="#e3e3e3"/>
<rect x="1300.48" y="1213.00" width="6.16" height="49.40" fill="#e3e3e3"/>
<rect x="1307.64" y="1213.00" width="6.16" height="49.40" fill="#e3e3e3"/>
<rect x="1314.80" y="1213.00" width="6.16" height="49.40" fill="#e3e3e3"/>
<rect x="1321.96" y="1213.00" width="6.16" height="49.40" fill="#e3e3e3"/>
<rect x="1329.11" y="1213.00" width="6.16" height="49.40" fill="#e3e3e3"/>
<rect x="1336.27" y="1213.00" width="6.16" height="49.40" fill="#e3e3e3"/>
<rect x="1343.43" y="1213.00" width="6.16" height="49.40" fill="#e3e3e3"/>
<rect x="1350.59" y="1213.00" width="6.16" height="49.40" fill="#e3e3e3"/>
<rect x="1357.74" y="1213.00" width="6.16" height="49.40" fill="#e3e3e3"/>
<rect x="1489.20" y="827.00" width="6.16" height="30.70" fill="#f8b677"/>
<rect x="1496.36" y="827.00" width="6.16" height="30.70" fill="#f8b677"/>
<rect x="1503.52" y="827.00" width="6.16" height="30.70" fill="#f8b677"/>
<rect x="1510.67" y="827.00" width="6.16" height="30.70" fill="#e87c2b"/>
<rect x="1517.83" y="827.00" width="6.16" height="30.70" fill="#f8b677"/>
<rect x="1524.99" y="827.00" width="6.16" height="30.70" fill="#f8b677"/>
<rect x="1532.15" y="827.00" width="6.16" height="30.70" fill="#e87c2b"/>
<rect x="1539.31" y="827.00" width="6.16" height="30.70" fill="#e87c2b"/>
<rect x="1546.47" y="827.00" width="6.16" height="30.70" fill="#e87c2b"/>
<rect x="1553.62" y="827.00" width="6.16" height="30.70" fill="#f8b677"/>
<rect x="1560.78" y="827.00" width="6.16" height="30.70" fill="#e87c2b"/>
<rect x="1567.94" y="827.00" width="6.16" height="30.70" fill="#f8b677"/>
<rect x="1575.10" y="827.00" width="6.16" height="30.70" fill="#f8b677"/>
<rect x="1582.26" y="827.00" width="6.16" height="30.70" fill="#e87c2b"/>
<rect x="1589.42" y="827.00" width="6.16" height="30.70" fill="#f8b677"/>
<rect x="1596.58" y="827.00" width="6.16" height="30.70" fill="#f8b677"/>
<rect x="1603.73" y="827.00" width="6.16" height="30.70" fill="#f8b677"/>
<rect x="1610.89" y="827.00" width="6.16" height="30.70" fill="#f8b677"/>
<rect x="1618.05" y="827.00" width="6.16" height="30.70" fill="#e87c2b"/>
<rect x="1625.21" y="827.00" width="6.16" height="30.70" fill="#e87c2b"/>
<rect x="1632.37" y="827.00" width="6.16" height="30.70" fill="#f8b677"/>
<rect x="1639.53" y="827.00" width="6.16" height="30.70" fill="#f8b677"/>
<rect x="1646.68" y="827.00" width="6.16" height="30.70" fill="#f8b677"/>
<rect x="1653.84" y="827.00" width="6.16" height="30.70" fill="#e87c2b"/>
<rect x="1489.20" y="858.90" width="6.16" height="30.70" fill="#e0e0e0"/>
<rect x="1496.36" y="858.90" width="6.16" height="30.70" fill="#e0e0e0"/>
<rect x="1503.52" y="858.90" width="6.16" height="30.70" fill="#e0e0e0"/>
<rect x="1510.67" y="858.90" width="6.16" height="30.70" fill="#dc8a96"/>
<rect x="1517.83" y="858.90" width="6.16" height="30.70" fill="#e0e0e0"/>
<rect x="1524.99" y="858.90" width="6.16" height="30.70" fill="#e0e0e0"/>
<rect x="1532.15" y="858.90" width="6.16" height="30.70" fill="#e0e0e0"/>
<rect x="1539.31" y="858.90" width="6.16" height="30.70" fill="#a8002b"/>
<rect x="1546.47" y="858.90" width="6.16" height="30.70" fill="#e0e0e0"/>
<rect x="1553.62" y="858.90" width="6.16" height="30.70" fill="#e0e0e0"/>
<rect x="1560.78" y="858.90" width="6.16" height="30.70" fill="#a8002b"/>
<rect x="1567.94" y="858.90" width="6.16" height="30.70" fill="#e0e0e0"/>
<rect x="1575.10" y="858.90" width="6.16" height="30.70" fill="#e0e0e0"/>
<rect x="1582.26" y="858.90" width="6.16" height="30.70" fill="#e0e0e0"/>
<rect x="1589.42" y="858.90" width="6.16" height="30.70" fill="#e0e0e0"/>
<rect x="1596.58" y="858.90" width="6.16" height="30.70" fill="#e0e0e0"/>
<rect x="1603.73" y="858.90" width="6.16" height="30.70" fill="#e0e0e0"/>
<rect x="1610.89" y="858.90" width="6.16" height="30.70" fill="#e0e0e0"/>
<rect x="1618.05" y="858.90" width="6.16" height="30.70" fill="#dc8a96"/>
<rect x="1625.21" y="858.90" width="6.16" height="30.70" fill="#a8002b"/>
<rect x="1632.37" y="858.90" width="6.16" height="30.70" fill="#e0e0e0"/>
<rect x="1639.53" y="858.90" width="6.16" height="30.70" fill="#e0e0e0"/>
<rect x="1646.68" y="858.90" width="6.16" height="30.70" fill="#e0e0e0"/>
<rect x="1653.84" y="858.90" width="6.16" height="30.70" fill="#a8002b"/>
<rect x="1489.20" y="890.80" width="6.16" height="30.70" fill="#8bbed8"/>
<rect x="1496.36" y="890.80" width="6.16" height="30.70" fill="#0098b3"/>
<rect x="1503.52" y="890.80" width="6.16" height="30.70" fill="#0098b3"/>
<rect x="1510.67" y="890.80" width="6.16" height="30.70" fill="#0098b3"/>
<rect x="1517.83" y="890.80" width="6.16" height="30.70" fill="#0098b3"/>
<rect x="1524.99" y="890.80" width="6.16" height="30.70" fill="#0098b3"/>
<rect x="1532.15" y="890.80" width="6.16" height="30.70" fill="#8bbed8"/>
<rect x="1539.31" y="890.80" width="6.16" height="30.70" fill="#0098b3"/>
<rect x="1546.47" y="890.80" width="6.16" height="30.70" fill="#8bbed8"/>
<rect x="1553.62" y="890.80" width="6.16" height="30.70" fill="#8bbed8"/>
<rect x="1560.78" y="890.80" width="6.16" height="30.70" fill="#0098b3"/>
<rect x="1567.94" y="890.80" width="6.16" height="30.70" fill="#8bbed8"/>
<rect x="1575.10" y="890.80" width="6.16" height="30.70" fill="#8bbed8"/>
<rect x="1582.26" y="890.80" width="6.16" height="30.70" fill="#8bbed8"/>
<rect x="1589.42" y="890.80" width="6.16" height="30.70" fill="#0098b3"/>
<rect x="1596.58" y="890.80" width="6.16" height="30.70" fill="#0098b3"/>
<rect x="1603.73" y="890.80" width="6.16" height="30.70" fill="#0098b3"/>
<rect x="1610.89" y="890.80" width="6.16" height="30.70" fill="#0098b3"/>
<rect x="1618.05" y="890.80" width="6.16" height="30.70" fill="#0098b3"/>
<rect x="1625.21" y="890.80" width="6.16" height="30.70" fill="#0098b3"/>
<rect x="1632.37" y="890.80" width="6.16" height="30.70" fill="#0098b3"/>
<rect x="1639.53" y="890.80" width="6.16" height="30.70" fill="#8bbed8"/>
<rect x="1646.68" y="890.80" width="6.16" height="30.70" fill="#0098b3"/>
<rect x="1653.84" y="890.80" width="6.16" height="30.70" fill="#8bbed8"/>
<rect x="1489.20" y="922.70" width="6.16" height="30.70" fill="#ae9dc5"/>
<rect x="1496.36" y="922.70" width="6.16" height="30.70" fill="#8f5da1"/>
<rect x="1503.52" y="922.70" width="6.16" height="30.70" fill="#8f5da1"/>
<rect x="1510.67" y="922.70" width="6.16" height="30.70" fill="#8f5da1"/>
<rect x="1517.83" y="922.70" width="6.16" height="30.70" fill="#8f5da1"/>
<rect x="1524.99" y="922.70" width="6.16" height="30.70" fill="#8f5da1"/>
<rect x="1532.15" y="922.70" width="6.16" height="30.70" fill="#ae9dc5"/>
<rect x="1539.31" y="922.70" width="6.16" height="30.70" fill="#8f5da1"/>
<rect x="1546.47" y="922.70" width="6.16" height="30.70" fill="#ae9dc5"/>
<rect x="1553.62" y="922.70" width="6.16" height="30.70" fill="#ae9dc5"/>
<rect x="1560.78" y="922.70" width="6.16" height="30.70" fill="#8f5da1"/>
<rect x="1567.94" y="922.70" width="6.16" height="30.70" fill="#ae9dc5"/>
<rect x="1575.10" y="922.70" width="6.16" height="30.70" fill="#ae9dc5"/>
<rect x="1582.26" y="922.70" width="6.16" height="30.70" fill="#ae9dc5"/>
<rect x="1589.42" y="922.70" width="6.16" height="30.70" fill="#8f5da1"/>
<rect x="1596.58" y="922.70" width="6.16" height="30.70" fill="#8f5da1"/>
<rect x="1603.73" y="922.70" width="6.16" height="30.70" fill="#8f5da1"/>
<rect x="1610.89" y="922.70" width="6.16" height="30.70" fill="#8f5da1"/>
<rect x="1618.05" y="922.70" width="6.16" height="30.70" fill="#8f5da1"/>
<rect x="1625.21" y="922.70" width="6.16" height="30.70" fill="#8f5da1"/>
<rect x="1632.37" y="922.70" width="6.16" height="30.70" fill="#8f5da1"/>
<rect x="1639.53" y="922.70" width="6.16" height="30.70" fill="#ae9dc5"/>
<rect x="1646.68" y="922.70" width="6.16" height="30.70" fill="#8f5da1"/>
<rect x="1653.84" y="922.70" width="6.16" height="30.70" fill="#ae9dc5"/>
<rect x="1488.70" y="966.10" width="93.56" height="22.10" fill="#0060b9"/>
<rect x="1582.26" y="966.10" width="79.04" height="22.10" fill="#bb3034"/>
<rect x="1489.20" y="1009.20" width="6.16" height="49.40" fill="#4e9b48"/>
<rect x="1496.36" y="1009.20" width="6.16" height="49.40" fill="#4e9b48"/>
<rect x="1503.52" y="1009.20" width="6.16" height="49.40" fill="#4e9b48"/>
<rect x="1510.67" y="1009.20" width="6.16" height="49.40" fill="#4e9b48"/>
<rect x="1517.83" y="1009.20" width="6.16" height="49.40" fill="#4e9b48"/>
<rect x="1524.99" y="1009.20" width="6.16" height="49.40" fill="#4e9b48"/>
<rect x="1532.15" y="1009.20" width="6.16" height="49.40" fill="#4e9b48"/>
<rect x="1539.31" y="1009.20" width="6.16" height="49.40" fill="#4e9b48"/>
<rect x="1546.47" y="1009.20" width="6.16" height="49.40" fill="#4e9b48"/>
<rect x="1553.62" y="1009.20" width="6.16" height="49.40" fill="#4e9b48"/>
<rect x="1560.78" y="1009.20" width="6.16" height="49.40" fill="#4e9b48"/>
<rect x="1567.94" y="1009.20" width="6.16" height="49.40" fill="#4e9b48"/>
<rect x="1575.10" y="1009.20" width="6.16" height="49.40" fill="#4e9b48"/>
<rect x="1582.26" y="1009.20" width="6.16" height="49.40" fill="#4e9b48"/>
<rect x="1589.42" y="1009.20" width="6.16" height="49.40" fill="#4e9b48"/>
<rect x="1596.58" y="1009.20" width="6.16" height="49.40" fill="#4e9b48"/>
<rect x="1603.73" y="1009.20" width="6.16" height="49.40" fill="#4e9b48"/>
<rect x="1610.89" y="1009.20" width="6.16" height="49.40" fill="#4e9b48"/>
<rect x="1618.05" y="1009.20" width="6.16" height="49.40" fill="#4e9b48"/>
<rect x="1625.21" y="1009.20" width="6.16" height="49.40" fill="#4e9b48"/>
<rect x="1632.37" y="1009.20" width="6.16" height="49.40" fill="#4e9b48"/>
<rect x="1639.53" y="1009.20" width="6.16" height="49.40" fill="#4e9b48"/>
<rect x="1646.68" y="1009.20" width="6.16" height="49.40" fill="#4e9b48"/>
<rect x="1653.84" y="1009.20" width="6.16" height="49.40" fill="#4e9b48"/>
<rect x="1489.20" y="1060.15" width="6.16" height="49.40" fill="#e3e3e3"/>
<rect x="1496.36" y="1060.15" width="6.16" height="49.40" fill="#e3e3e3"/>
<rect x="1503.52" y="1060.15" width="6.16" height="49.40" fill="#e3e3e3"/>
<rect x="1510.67" y="1060.15" width="6.16" height="49.40" fill="#e3e3e3"/>
<rect x="1517.83" y="1060.15" width="6.16" height="49.40" fill="#e3e3e3"/>
<rect x="1524.99" y="1060.15" width="6.16" height="49.40" fill="#e3e3e3"/>
<rect x="1532.15" y="1060.15" width="6.16" height="49.40" fill="#e3e3e3"/>
<rect x="1539.31" y="1060.15" width="6.16" height="49.40" fill="#e3e3e3"/>
<rect x="1546.47" y="1060.15" width="6.16" height="49.40" fill="#e3e3e3"/>
<rect x="1553.62" y="1060.15" width="6.16" height="49.40" fill="#e3e3e3"/>
<rect x="1560.78" y="1060.15" width="6.16" height="49.40" fill="#e3e3e3"/>
<rect x="1567.94" y="1060.15" width="6.16" height="49.40" fill="#e3e3e3"/>
<rect x="1575.10" y="1060.15" width="6.16" height="49.40" fill="#e3e3e3"/>
<rect x="1582.26" y="1060.15" width="6.16" height="49.40" fill="#e3e3e3"/>
<rect x="1589.42" y="1060.15" width="6.16" height="49.40" fill="#e3e3e3"/>
<rect x="1596.58" y="1060.15" width="6.16" height="49.40" fill="#e3e3e3"/>
<rect x="1603.73" y="1060.15" width="6.16" height="49.40" fill="#e3e3e3"/>
<rect x="1610.89" y="1060.15" width="6.16" height="49.40" fill="#e3e3e3"/>
<rect x="1618.05" y="1060.15" width="6.16" height="49.40" fill="#e3e3e3"/>
<rect x="1625.21" y="1060.15" width="6.16" height="49.40" fill="#e3e3e3"/>
<rect x="1632.37" y="1060.15" width="6.16" height="49.40" fill="#e3e3e3"/>
<rect x="1639.53" y="1060.15" width="6.16" height="49.40" fill="#e3e3e3"/>
<rect x="1646.68" y="1060.15" width="6.16" height="49.40" fill="#e3e3e3"/>
<rect x="1653.84" y="1060.15" width="6.16" height="49.40" fill="#e3e3e3"/>
<rect x="1489.20" y="1111.10" width="6.16" height="49.40" fill="#e3e3e3"/>
<rect x="1496.36" y="1111.10" width="6.16" height="49.40" fill="#e3e3e3"/>
<rect x="1503.52" y="1111.10" width="6.16" height="49.40" fill="#e3e3e3"/>
<rect x="1510.67" y="1111.10" width="6.16" height="49.40" fill="#e3e3e3"/>
<rect x="1517.83" y="1111.10" width="6.16" height="49.40" fill="#e3e3e3"/>
<rect x="1524.99" y="1111.10" width="6.16" height="49.40" fill="#e3e3e3"/>
<rect x="1532.15" y="1111.10" width="6.16" height="49.40" fill="#e3e3e3"/>
<rect x="1539.31" y="1111.10" width="6.16" height="49.40" fill="#e3e3e3"/>
<rect x="1546.47" y="1111.10" width="6.16" height="49.40" fill="#e3e3e3"/>
<rect x="1553.62" y="1111.10" width="6.16" height="49.40" fill="#e3e3e3"/>
<rect x="1560.78" y="1111.10" width="6.16" height="49.40" fill="#e3e3e3"/>
<rect x="1567.94" y="1111.10" width="6.16" height="49.40" fill="#e3e3e3"/>
<rect x="1575.10" y="1111.10" width="6.16" height="49.40" fill="#e3e3e3"/>
<rect x="1582.26" y="1111.10" width="6.16" height="49.40" fill="#e3e3e3"/>
<rect x="1589.42" y="1111.10" width="6.16" height="49.40" fill="#e3e3e3"/>
<rect x="1596.58" y="1111.10" width="6.16" height="49.40" fill="#e3e3e3"/>
<rect x="1603.73" y="1111.10" width="6.16" height="49.40" fill="#e3e3e3"/>
<rect x="1610.89" y="1111.10" width="6.16" height="49.40" fill="#e3e3e3"/>
<rect x="1618.05" y="1111.10" width="6.16" height="49.40" fill="#e3e3e3"/>
<rect x="1625.21" y="1111.10" width="6.16" height="49.40" fill="#e3e3e3"/>
<rect x="1632.37" y="1111.10" width="6.16" height="49.40" fill="#e3e3e3"/>
<rect x="1639.53" y="1111.10" width="6.16" height="49.40" fill="#e3e3e3"/>
<rect x="1646.68" y="1111.10" width="6.16" height="49.40" fill="#e3e3e3"/>
<rect x="1653.84" y="1111.10" width="6.16" height="49.40" fill="#e3e3e3"/>
<rect x="1489.20" y="1162.05" width="6.16" height="49.40" fill="#4e9b48"/>
<rect x="1496.36" y="1162.05" width="6.16" height="49.40" fill="#4e9b48"/>
<rect x="1503.52" y="1162.05" width="6.16" height="49.40" fill="#e3e3e3"/>
<rect x="1510.67" y="1162.05" width="6.16" height="49.40" fill="#e3e3e3"/>
<rect x="1517.83" y="1162.05" width="6.16" height="49.40" fill="#e3e3e3"/>
<rect x="1524.99" y="1162.05" width="6.16" height="49.40" fill="#e3e3e3"/>
<rect x="1532.15" y="1162.05" width="6.16" height="49.40" fill="#e3e3e3"/>
<rect x="1539.31" y="1162.05" width="6.16" height="49.40" fill="#e3e3e3"/>
<rect x="1546.47" y="1162.05" width="6.16" height="49.40" fill="#e3e3e3"/>
<rect x="1553.62" y="1162.05" width="6.16" height="49.40" fill="#e3e3e3"/>
<rect x="1560.78" y="1162.05" width="6.16" height="49.40" fill="#e3e3e3"/>
<rect x="1567.94" y="1162.05" width="6.16" height="49.40" fill="#e3e3e3"/>
<rect x="1575.10" y="1162.05" width="6.16" height="49.40" fill="#e3e3e3"/>
<rect x="1582.26" y="1162.05" width="6.16" height="49.40" fill="#4e9b48"/>
<rect x="1589.42" y="1162.05" width="6.16" height="49.40" fill="#4e9b48"/>
<rect x="1596.58" y="1162.05" width="6.16" height="49.40" fill="#4e9b48"/>
<rect x="1603.73" y="1162.05" width="6.16" height="49.40" fill="#e3e3e3"/>
<rect x="1610.89" y="1162.05" width="6.16" height="49.40" fill="#e3e3e3"/>
<rect x="1618.05" y="1162.05" width="6.16" height="49.40" fill="#e3e3e3"/>
<rect x="1625.21" y="1162.05" width="6.16" height="49.40" fill="#e3e3e3"/>
<rect x="1632.37" y="1162.05" width="6.16" height="49.40" fill="#e3e3e3"/>
<rect x="1639.53" y="1162.05" width="6.16" height="49.40" fill="#e3e3e3"/>
<rect x="1646.68" y="1162.05" width="6.16" height="49.40" fill="#e3e3e3"/>
<rect x="1653.84" y="1162.05" width="6.16" height="49.40" fill="#e3e3e3"/>
<rect x="1489.20" y="1213.00" width="6.16" height="49.40" fill="#e3e3e3"/>
<rect x="1496.36" y="1213.00" width="6.16" height="49.40" fill="#e3e3e3"/>
<rect x="1503.52" y="1213.00" width="6.16" height="49.40" fill="#e3e3e3"/>
<rect x="1510.67" y="1213.00" width="6.16" height="49.40" fill="#4e9b48"/>
<rect x="1517.83" y="1213.00" width="6.16" height="49.40" fill="#e3e3e3"/>
<rect x="1524.99" y="1213.00" width="6.16" height="49.40" fill="#e3e3e3"/>
<rect x="1532.15" y="1213.00" width="6.16" height="49.40" fill="#e3e3e3"/>
<rect x="1539.31" y="1213.00" width="6.16" height="49.40" fill="#e3e3e3"/>
<rect x="1546.47" y="1213.00" width="6.16" height="49.40" fill="#e3e3e3"/>
<rect x="1553.62" y="1213.00" width="6.16" height="49.40" fill="#e3e3e3"/>
<rect x="1560.78" y="1213.00" width="6.16" height="49.40" fill="#e3e3e3"/>
<rect x="1567.94" y="1213.00" width="6.16" height="49.40" fill="#e3e3e3"/>
<rect x="1575.10" y="1213.00" width="6.16" height="49.40" fill="#e3e3e3"/>
<rect x="1582.26" y="1213.00" width="6.16" height="49.40" fill="#e3e3e3"/>
<rect x="1589.42" y="1213.00" width="6.16" height="49.40" fill="#e3e3e3"/>
<rect x="1596.58" y="1213.00" width="6.16" height="49.40" fill="#e3e3e3"/>
<rect x="1603.73" y="1213.00" width="6.16" height="49.40" fill="#e3e3e3"/>
<rect x="1610.89" y="1213.00" width="6.16" height="49.40" fill="#e3e3e3"/>
<rect x="1618.05" y="1213.00" width="6.16" height="49.40" fill="#e3e3e3"/>
<rect x="1625.21" y="1213.00" width="6.16" height="49.40" fill="#e3e3e3"/>
<rect x="1632.37" y="1213.00" width="6.16" height="49.40" fill="#e3e3e3"/>
<rect x="1639.53" y="1213.00" width="6.16" height="49.40" fill="#e3e3e3"/>
<rect x="1646.68" y="1213.00" width="6.16" height="49.40" fill="#e3e3e3"/>
<rect x="1653.84" y="1213.00" width="6.16" height="49.40" fill="#e3e3e3"/>
<rect x="1754.6" y="719.6" width="242.4" height="543" fill="none" stroke="#231815" stroke-width="2"/>
<text x="1774.1" y="748.3" font-size="21.86" fill="#231815">Sex</text>
<rect x="1774.30" y="754.00" width="26.60" height="25.60" fill="#e87c2b"/>
<text x="1806.1" y="775.1" font-size="22.89">Male</text>
<rect x="1774.30" y="783.80" width="26.60" height="26.00" fill="#f8b677"/>
<text x="1805.4" y="804.7" font-size="22.31">Female</text>
<text x="1774.1" y="839.3" font-size="21.74" fill="#231815">Smoking history</text>
<rect x="1774.30" y="846.00" width="26.60" height="25.90" fill="#a8002b"/>
<text x="1806.4" y="867.4" font-size="22.04">Current smoker</text>
<rect x="1774.30" y="874.10" width="26.60" height="25.70" fill="#dc8a96"/>
<text x="1806.1" y="895.3" font-size="22.13">Former smoker</text>
<rect x="1774.30" y="902.00" width="26.60" height="25.80" fill="#e0e0e0"/>
<text x="1806.1" y="922.9" font-size="22.11">Nonsmoker</text>
<text x="1774.0" y="964.0" font-size="21.93" fill="#231815">Clinical stage</text>
<rect x="1774.40" y="970.20" width="26.40" height="25.70" fill="#8bbed8"/>
<text x="1805.4" y="989.8" font-size="22.2">II</text>
<rect x="1838.80" y="970.20" width="26.80" height="25.70" fill="#0098b3"/>
<text x="1870.2" y="989.8" font-size="22.2">III</text>
<rect x="1909.40" y="970.20" width="26.50" height="25.70" fill="#e3e3e3"/>
<text x="1940.7" y="989.8" font-size="22.38">NA</text>
<text x="1773.2" y="1027.4" font-size="22.32" fill="#231815">N stage</text>
<rect x="1774.40" y="1033.20" width="26.40" height="26.00" fill="#ae9dc5"/>
<text x="1809.4" y="1052.6" font-size="22.2">I</text>
<rect x="1838.80" y="1033.20" width="26.80" height="26.00" fill="#8f5da1"/>
<text x="1873.5" y="1052.6" font-size="22.2">II</text>
<rect x="1909.40" y="1033.20" width="26.50" height="26.00" fill="#e3e3e3"/>
<text x="1940.7" y="1052.6" font-size="22.38">NA</text>
<text x="1774.6" y="1093.0" font-size="21.65" fill="#231815">Treatment</text>
<rect x="1774.40" y="1099.70" width="26.40" height="25.60" fill="#0060b9"/>
<text x="1807.7" y="1121.7" font-size="22.04">VP</text>
<rect x="1774.40" y="1127.00" width="26.40" height="25.60" fill="#bb3034"/>
<text x="1807.5" y="1147.6" font-size="21.96">Gefitinib</text>
<text x="1773.2" y="1189.0" font-size="22.02" fill="#231815">Biomarkers</text>
<rect x="1774.40" y="1195.20" width="26.40" height="25.60" fill="#4e9b48"/>
<text x="1808.1" y="1215.9" font-size="21.96">Alterated</text>
<rect x="1774.40" y="1224.10" width="26.40" height="25.90" fill="#e3e3e3"/>
<text x="1806.3" y="1245.1" font-size="22.31">Not alterated</text>
<text x="-0.2" y="1357.2" font-size="31.5" font-weight="bold">d</text>
<line x1="111.8" y1="1412.5" x2="111.8" y2="1748.5" stroke="#000" stroke-width="2"/>
<line x1="110.9" y1="1747.6" x2="602.0" y2="1747.6" stroke="#000" stroke-width="2"/>
<line x1="105.8" y1="1747.6" x2="111.8" y2="1747.6" stroke="#000" stroke-width="2"/>
<text x="82.0" y="1755.4" font-size="20.9">0</text>
<line x1="105.8" y1="1681.8" x2="111.8" y2="1681.8" stroke="#000" stroke-width="2"/>
<text x="70.4" y="1689.6" font-size="20.9">20</text>
<line x1="105.8" y1="1616.0" x2="111.8" y2="1616.0" stroke="#000" stroke-width="2"/>
<text x="70.4" y="1623.8" font-size="20.9">40</text>
<line x1="105.8" y1="1550.2" x2="111.8" y2="1550.2" stroke="#000" stroke-width="2"/>
<text x="70.4" y="1558.0" font-size="20.9">60</text>
<line x1="105.8" y1="1484.4" x2="111.8" y2="1484.4" stroke="#000" stroke-width="2"/>
<text x="70.4" y="1492.2" font-size="20.9">80</text>
<line x1="105.8" y1="1418.6" x2="111.8" y2="1418.6" stroke="#000" stroke-width="2"/>
<text x="58.8" y="1426.4" font-size="20.9">100</text>
<line x1="111.8" y1="1747.6" x2="111.8" y2="1753.6" stroke="#000" stroke-width="2"/>
<text x="105.8" y="1777.2" font-size="20.9">0</text>
<line x1="170.7" y1="1747.6" x2="170.7" y2="1753.6" stroke="#000" stroke-width="2"/>
<text x="164.7" y="1777.2" font-size="20.9">6</text>
<line x1="229.7" y1="1747.6" x2="229.7" y2="1753.6" stroke="#000" stroke-width="2"/>
<text x="217.7" y="1777.2" font-size="20.9">12</text>
<line x1="288.6" y1="1747.6" x2="288.6" y2="1753.6" stroke="#000" stroke-width="2"/>
<text x="276.5" y="1777.2" font-size="20.9">18</text>
<line x1="347.6" y1="1747.6" x2="347.6" y2="1753.6" stroke="#000" stroke-width="2"/>
<text x="335.6" y="1777.2" font-size="20.9">24</text>
<line x1="406.5" y1="1747.6" x2="406.5" y2="1753.6" stroke="#000" stroke-width="2"/>
<text x="394.7" y="1777.2" font-size="20.9">30</text>
<line x1="465.4" y1="1747.6" x2="465.4" y2="1753.6" stroke="#000" stroke-width="2"/>
<text x="453.7" y="1777.2" font-size="20.9">36</text>
<line x1="524.4" y1="1747.6" x2="524.4" y2="1753.6" stroke="#000" stroke-width="2"/>
<text x="513.0" y="1777.2" font-size="20.9">42</text>
<line x1="583.3" y1="1747.6" x2="583.3" y2="1753.6" stroke="#000" stroke-width="2"/>
<text x="571.8" y="1777.2" font-size="20.9">48</text>
<text x="224.7" y="1805.9" font-size="21.25">Months from Randomization</text>
<text x="47.8" y="1574.8" font-size="21.26" text-anchor="middle" transform="rotate(-90 47.8 1574.8)">Disease−free Survival (%)</text>
<text x="118.8" y="1688.4" font-size="19.28">P &lt; .001</text>
<line x1="111.8" y1="1583.1" x2="450.7" y2="1583.1" stroke="#000" stroke-width="1.7" stroke-dasharray="17.7 17.3"/>
<line x1="201.2" y1="1747.6" x2="201.2" y2="1583.1" stroke="#000" stroke-width="1.7" stroke-dasharray="17 17.8"/>
<line x1="450.7" y1="1747.6" x2="450.7" y2="1583.1" stroke="#000" stroke-width="1.7" stroke-dasharray="17 17.8"/>
<line x1="347.6" y1="1747.6" x2="347.6" y2="1524.3" stroke="#1aa0b8" stroke-width="1.7" stroke-dasharray="17.3 17.3" stroke-dashoffset="31"/>
<path d="M111.8 1418.6H136.3V1431.1H148.8V1443.8H164.3V1456.3H166.5V1469.3H167.5V1481.5H176.4V1494.5H178.1V1507.0H182.0V1519.7H188.0V1532.4H199.2V1544.9H200.1V1557.9H200.7V1585.0H203.8V1598.0H215.0V1611.6H259.0V1626.9H263.9V1642.2H266.9V1657.1H308.3V1674.5H311.1V1693.1H316.7V1710.9H437.6V1729.6H452.8" stroke="#0a5fbb" stroke-width="1.9" fill="none"/>
<path d="M111.8 1418.6H130.2V1429.2H147.0V1439.9H190.4V1449.8H196.8V1460.6H259.8V1470.8H267.8V1481.8H297.1V1492.7H313.5V1504.8H321.0V1516.5H349.3V1528.3H414.8V1546.9H427.0V1566.8H450.5V1596.8H573.6V1671.6H596.8V1747.6" stroke="#b92c30" stroke-width="1.9" fill="none"/>
<line x1="119.8" y1="1413.6" x2="119.8" y2="1423.6" stroke="#b92c30" stroke-width="1.4"/>
<line x1="121.8" y1="1413.6" x2="121.8" y2="1423.6" stroke="#b92c30" stroke-width="1.4"/>
<line x1="274.6" y1="1476.8" x2="274.6" y2="1486.8" stroke="#b92c30" stroke-width="1.4"/>
<line x1="311.0" y1="1487.7" x2="311.0" y2="1497.7" stroke="#b92c30" stroke-width="1.4"/>
<line x1="340.6" y1="1511.5" x2="340.6" y2="1521.5" stroke="#b92c30" stroke-width="1.4"/>
<line x1="364.0" y1="1523.3" x2="364.0" y2="1533.3" stroke="#b92c30" stroke-width="1.4"/>
<line x1="369.0" y1="1523.3" x2="369.0" y2="1533.3" stroke="#b92c30" stroke-width="1.4"/>
<line x1="374.0" y1="1523.3" x2="374.0" y2="1533.3" stroke="#b92c30" stroke-width="1.4"/>
<line x1="378.5" y1="1523.3" x2="378.5" y2="1533.3" stroke="#b92c30" stroke-width="1.4"/>
<line x1="383.5" y1="1523.3" x2="383.5" y2="1533.3" stroke="#b92c30" stroke-width="1.4"/>
<line x1="415.7" y1="1541.9" x2="415.7" y2="1551.9" stroke="#b92c30" stroke-width="1.4"/>
<line x1="428.0" y1="1561.8" x2="428.0" y2="1571.8" stroke="#b92c30" stroke-width="1.4"/>
<line x1="447.3" y1="1561.8" x2="447.3" y2="1571.8" stroke="#b92c30" stroke-width="1.4"/>
<line x1="453.7" y1="1591.8" x2="453.7" y2="1601.8" stroke="#b92c30" stroke-width="1.4"/>
<line x1="467.3" y1="1591.8" x2="467.3" y2="1601.8" stroke="#b92c30" stroke-width="1.4"/>
<line x1="482.4" y1="1591.8" x2="482.4" y2="1601.8" stroke="#b92c30" stroke-width="1.4"/>
<line x1="215.3" y1="1606.6" x2="215.3" y2="1616.6" stroke="#0a5fbb" stroke-width="1.4"/>
<line x1="281.3" y1="1652.1" x2="281.3" y2="1662.1" stroke="#0a5fbb" stroke-width="1.4"/>
<line x1="452.8" y1="1724.6" x2="452.8" y2="1734.6" stroke="#0a5fbb" stroke-width="1.4"/>
<text x="394.1" y="1375.0" font-size="20.19">24m DFS (%)</text>
<text x="412.4" y="1398.3" font-size="20.24">(95% CI)</text>
<text x="535.1" y="1377.7" font-size="20.1">mDFS</text>
<text x="545.6" y="1400.0" font-size="20.1">(mo)</text>
<line x1="382.5" y1="1405.4" x2="615.8" y2="1405.4" stroke="#000" stroke-width="1.9"/>
<text x="432.3" y="1424.9" font-size="20.1">11.0</text>
<text x="319.7" y="1437.8" font-size="20.1">VP</text>
<text x="410.0" y="1446.7" font-size="20.07">(3.1-38.7)</text>
<text x="554.3" y="1445.1" font-size="20.1">9.1</text>
<text x="429.8" y="1471.7" font-size="20.1">70.3</text>
<text x="318.5" y="1482.9" font-size="20.12">gefitinib</text>
<text x="403.9" y="1493.4" font-size="20.02">(55.8-88.7)</text>
<text x="548.9" y="1488.6" font-size="20.1">34.5</text>
<text x="9.6" y="1826.9" font-size="21.5">No. at Risk</text>
<text x="53.7" y="1860.7" font-size="20.7" fill="#0a5fbb">VP</text>
<line x1="85.6" y1="1853.9" x2="109.2" y2="1853.9" stroke="#0a5fbb" stroke-width="2"/>
<text x="9.7" y="1883.3" font-size="20.7" fill="#b92c30">gefitinib</text>
<line x1="85.6" y1="1880.0" x2="109.2" y2="1880.0" stroke="#b92c30" stroke-width="2"/>
<text x="117.3" y="1861.5" font-size="20.7">27</text>
<text x="117.3" y="1884.4" font-size="20.7">33</text>
<text x="159.2" y="1861.5" font-size="20.7">21</text>
<text x="159.2" y="1884.4" font-size="20.7">29</text>
<text x="223.9" y="1861.5" font-size="20.7">9</text>
<text x="218.2" y="1884.4" font-size="20.7">27</text>
<text x="282.9" y="1861.5" font-size="20.7">5</text>
<text x="276.9" y="1884.4" font-size="20.7">24</text>
<text x="341.8" y="1861.5" font-size="20.7">2</text>
<text x="335.8" y="1884.4" font-size="20.7">19</text>
<text x="400.7" y="1861.5" font-size="20.7">2</text>
<text x="394.6" y="1884.4" font-size="20.7">13</text>
<text x="459.6" y="1861.5" font-size="20.7">0</text>
<text x="459.8" y="1884.4" font-size="20.7">4</text>
<text x="518.6" y="1861.5" font-size="20.7">0</text>
<text x="518.6" y="1884.4" font-size="20.7">2</text>
<text x="577.5" y="1861.5" font-size="20.7">0</text>
<text x="577.2" y="1884.4" font-size="20.7">1</text>
<text x="695.6" y="1357.2" font-size="31.5" font-weight="bold">e</text>
<line x1="809.9" y1="1412.5" x2="809.9" y2="1748.5" stroke="#000" stroke-width="2"/>
<line x1="809.0" y1="1747.6" x2="1300.1" y2="1747.6" stroke="#000" stroke-width="2"/>
<line x1="803.9" y1="1747.6" x2="809.9" y2="1747.6" stroke="#000" stroke-width="2"/>
<text x="780.1" y="1755.4" font-size="20.9">0</text>
<line x1="803.9" y1="1681.8" x2="809.9" y2="1681.8" stroke="#000" stroke-width="2"/>
<text x="768.5" y="1689.6" font-size="20.9">20</text>
<line x1="803.9" y1="1616.0" x2="809.9" y2="1616.0" stroke="#000" stroke-width="2"/>
<text x="768.5" y="1623.8" font-size="20.9">40</text>
<line x1="803.9" y1="1550.2" x2="809.9" y2="1550.2" stroke="#000" stroke-width="2"/>
<text x="768.5" y="1558.0" font-size="20.9">60</text>
<line x1="803.9" y1="1484.4" x2="809.9" y2="1484.4" stroke="#000" stroke-width="2"/>
<text x="768.5" y="1492.2" font-size="20.9">80</text>
<line x1="803.9" y1="1418.6" x2="809.9" y2="1418.6" stroke="#000" stroke-width="2"/>
<text x="756.9" y="1426.4" font-size="20.9">100</text>
<line x1="809.9" y1="1747.6" x2="809.9" y2="1753.6" stroke="#000" stroke-width="2"/>
<text x="803.9" y="1777.2" font-size="20.9">0</text>
<line x1="868.8" y1="1747.6" x2="868.8" y2="1753.6" stroke="#000" stroke-width="2"/>
<text x="862.8" y="1777.2" font-size="20.9">6</text>
<line x1="927.8" y1="1747.6" x2="927.8" y2="1753.6" stroke="#000" stroke-width="2"/>
<text x="915.8" y="1777.2" font-size="20.9">12</text>
<line x1="986.7" y1="1747.6" x2="986.7" y2="1753.6" stroke="#000" stroke-width="2"/>
<text x="974.6" y="1777.2" font-size="20.9">18</text>
<line x1="1045.7" y1="1747.6" x2="1045.7" y2="1753.6" stroke="#000" stroke-width="2"/>
<text x="1033.7" y="1777.2" font-size="20.9">24</text>
<line x1="1104.6" y1="1747.6" x2="1104.6" y2="1753.6" stroke="#000" stroke-width="2"/>
<text x="1092.8" y="1777.2" font-size="20.9">30</text>
<line x1="1163.5" y1="1747.6" x2="1163.5" y2="1753.6" stroke="#000" stroke-width="2"/>
<text x="1151.8" y="1777.2" font-size="20.9">36</text>
<line x1="1222.5" y1="1747.6" x2="1222.5" y2="1753.6" stroke="#000" stroke-width="2"/>
<text x="1211.1" y="1777.2" font-size="20.9">42</text>
<line x1="1281.4" y1="1747.6" x2="1281.4" y2="1753.6" stroke="#000" stroke-width="2"/>
<text x="1269.9" y="1777.2" font-size="20.9">48</text>
<text x="922.8" y="1805.9" font-size="21.25">Months from Randomization</text>
<text x="745.9" y="1574.8" font-size="21.26" text-anchor="middle" transform="rotate(-90 745.9 1574.8)">Disease−free Survival (%)</text>
<text x="816.8" y="1688.4" font-size="19.5">P = .083</text>
<line x1="809.9" y1="1583.1" x2="1132.1" y2="1583.1" stroke="#000" stroke-width="1.7" stroke-dasharray="17.7 17.3"/>
<line x1="1013.2" y1="1747.6" x2="1013.2" y2="1583.1" stroke="#000" stroke-width="1.7" stroke-dasharray="17 17.8"/>
<line x1="1132.1" y1="1747.6" x2="1132.1" y2="1583.1" stroke="#000" stroke-width="1.7" stroke-dasharray="17 17.8"/>
<line x1="1045.7" y1="1747.6" x2="1045.7" y2="1524.3" stroke="#1aa0b8" stroke-width="1.7" stroke-dasharray="17.3 17.3" stroke-dashoffset="31"/>
<path d="M810.2 1418.4H815.3V1428.3H877.7V1438.6H896.4V1448.8H896.9V1458.7H908.0V1468.4H921.9V1478.1H927.5V1488.0H940.2V1498.2H949.2V1508.5H957.6V1519.1H958.3V1529.6H974.2V1539.7H981.4V1550.1H1002.3V1560.2H1007.0V1570.4H1010.1V1581.2H1012.9V1591.5H1014.3V1601.8H1028.8V1612.6H1118.6V1625.8H1145.4V1650.0H1202.4V1747.6" stroke="#0a5fbb" stroke-width="1.9" fill="none"/>
<path d="M810.2 1418.4H843.6V1424.6H851.3V1431.1H869.9V1438.0H901.0V1443.2H902.4V1450.3H953.6V1457.2H1002.3V1464.3H1005.5V1477.7H1008.8V1485.2H1011.1V1491.7H1012.9V1497.7H1026.9V1504.8H1028.2V1511.3H1039.6V1525.3H1051.5V1532.4H1086.4V1540.4H1092.2V1548.5H1098.6V1564.6H1116.0V1575.9H1121.8V1582.3H1131.5V1590.4H1134.1V1600.0H1136.3V1610.3H1154.0V1624.2H1157.3V1638.0H1175.0V1653.2H1202.4V1677.4H1220.1V1700.6H1260.4V1724.1H1264.3V1747.6" stroke="#b92c30" stroke-width="1.9" fill="none"/>
<line x1="922.7" y1="1445.3" x2="922.7" y2="1455.3" stroke="#b92c30" stroke-width="1.4"/>
<line x1="939.8" y1="1445.3" x2="939.8" y2="1455.3" stroke="#b92c30" stroke-width="1.4"/>
<line x1="1032.2" y1="1506.3" x2="1032.2" y2="1516.3" stroke="#b92c30" stroke-width="1.4"/>
<line x1="1044.5" y1="1520.3" x2="1044.5" y2="1530.3" stroke="#b92c30" stroke-width="1.4"/>
<line x1="1049.0" y1="1520.3" x2="1049.0" y2="1530.3" stroke="#b92c30" stroke-width="1.4"/>
<line x1="1052.5" y1="1527.4" x2="1052.5" y2="1537.4" stroke="#b92c30" stroke-width="1.4"/>
<line x1="1054.0" y1="1527.4" x2="1054.0" y2="1537.4" stroke="#b92c30" stroke-width="1.4"/>
<line x1="1087.0" y1="1535.4" x2="1087.0" y2="1545.4" stroke="#b92c30" stroke-width="1.4"/>
<line x1="1118.6" y1="1570.9" x2="1118.6" y2="1580.9" stroke="#b92c30" stroke-width="1.4"/>
<line x1="1123.5" y1="1570.9" x2="1123.5" y2="1580.9" stroke="#b92c30" stroke-width="1.4"/>
<line x1="1128.3" y1="1577.3" x2="1128.3" y2="1587.3" stroke="#b92c30" stroke-width="1.4"/>
<line x1="1143.7" y1="1605.3" x2="1143.7" y2="1615.3" stroke="#b92c30" stroke-width="1.4"/>
<line x1="1147.0" y1="1605.3" x2="1147.0" y2="1615.3" stroke="#b92c30" stroke-width="1.4"/>
<line x1="1150.8" y1="1605.3" x2="1150.8" y2="1615.3" stroke="#b92c30" stroke-width="1.4"/>
<line x1="1178.2" y1="1648.2" x2="1178.2" y2="1658.2" stroke="#b92c30" stroke-width="1.4"/>
<line x1="1194.4" y1="1648.2" x2="1194.4" y2="1658.2" stroke="#b92c30" stroke-width="1.4"/>
<line x1="814.3" y1="1413.4" x2="814.3" y2="1423.4" stroke="#0a5fbb" stroke-width="1.4"/>
<line x1="934.2" y1="1483.0" x2="934.2" y2="1493.0" stroke="#0a5fbb" stroke-width="1.4"/>
<line x1="1042.8" y1="1607.6" x2="1042.8" y2="1617.6" stroke="#0a5fbb" stroke-width="1.4"/>
<line x1="1045.6" y1="1607.6" x2="1045.6" y2="1617.6" stroke="#0a5fbb" stroke-width="1.4"/>
<line x1="1061.4" y1="1607.6" x2="1061.4" y2="1617.6" stroke="#0a5fbb" stroke-width="1.4"/>
<line x1="1120.2" y1="1620.8" x2="1120.2" y2="1630.8" stroke="#0a5fbb" stroke-width="1.4"/>
<line x1="1142.0" y1="1620.8" x2="1142.0" y2="1630.8" stroke="#0a5fbb" stroke-width="1.4"/>
<line x1="1148.3" y1="1645.0" x2="1148.3" y2="1655.0" stroke="#0a5fbb" stroke-width="1.4"/>
<line x1="1152.5" y1="1645.0" x2="1152.5" y2="1655.0" stroke="#0a5fbb" stroke-width="1.4"/>
<line x1="1194.4" y1="1645.0" x2="1194.4" y2="1655.0" stroke="#0a5fbb" stroke-width="1.4"/>
<text x="1098.9" y="1375.0" font-size="20.19">24m DFS (%)</text>
<text x="1121.3" y="1398.3" font-size="20.24">(95% CI)</text>
<text x="1245.3" y="1375.5" font-size="20.1">mDFS</text>
<text x="1253.3" y="1397.5" font-size="20.1">(mo)</text>
<line x1="1087.0" y1="1404.0" x2="1320.7" y2="1404.0" stroke="#000" stroke-width="1.9"/>
<text x="1135.6" y="1424.1" font-size="20.1">41.0</text>
<text x="1022.7" y="1437.0" font-size="20.1">VP</text>
<text x="1106.4" y="1445.9" font-size="20.17">(27.0-62.1)</text>
<text x="1253.6" y="1440.6" font-size="20.1">20.7</text>
<text x="1135.5" y="1470.0" font-size="20.1">67.5</text>
<text x="1021.8" y="1482.1" font-size="20.0">gefitinib</text>
<text x="1106.4" y="1492.6" font-size="20.17">(55.6-82.0)</text>
<text x="1253.5" y="1482.5" font-size="20.1">32.8</text>
<text x="707.6" y="1826.9" font-size="21.46">No. at Risk</text>
<text x="752.0" y="1860.7" font-size="20.7" fill="#0a5fbb">VP</text>
<line x1="783.9" y1="1854.6" x2="807.5" y2="1854.6" stroke="#0a5fbb" stroke-width="2"/>
<text x="708.0" y="1883.3" font-size="20.7" fill="#b92c30">gefitinib</text>
<line x1="783.9" y1="1880.5" x2="807.5" y2="1880.5" stroke="#b92c30" stroke-width="2"/>
<text x="815.4" y="1861.5" font-size="20.7">36</text>
<text x="815.5" y="1884.4" font-size="20.7">51</text>
<text x="857.5" y="1861.5" font-size="20.7">32</text>
<text x="857.6" y="1884.4" font-size="20.7">49</text>
<text x="916.3" y="1861.5" font-size="20.7">27</text>
<text x="916.5" y="1884.4" font-size="20.7">45</text>
<text x="974.9" y="1861.5" font-size="20.7">19</text>
<text x="975.4" y="1884.4" font-size="20.7">43</text>
<text x="1033.9" y="1861.5" font-size="20.7">12</text>
<text x="1034.3" y="1884.4" font-size="20.7">32</text>
<text x="1092.7" y="1861.5" font-size="20.7">10</text>
<text x="1093.0" y="1884.4" font-size="20.7">23</text>
<text x="1157.8" y="1861.5" font-size="20.7">2</text>
<text x="1157.8" y="1884.4" font-size="20.7">7</text>
<text x="1216.7" y="1861.5" font-size="20.7">0</text>
<text x="1216.7" y="1884.4" font-size="20.7">2</text>
<text x="1275.6" y="1861.5" font-size="20.7">0</text>
<text x="1275.6" y="1884.4" font-size="20.7">0</text>
<text x="1384.0" y="1357.2" font-size="31.5" font-weight="bold">f</text>
<line x1="1494.4" y1="1412.5" x2="1494.4" y2="1748.5" stroke="#000" stroke-width="2"/>
<line x1="1493.5" y1="1747.6" x2="1984.6" y2="1747.6" stroke="#000" stroke-width="2"/>
<line x1="1488.4" y1="1747.6" x2="1494.4" y2="1747.6" stroke="#000" stroke-width="2"/>
<text x="1464.6" y="1755.4" font-size="20.9">0</text>
<line x1="1488.4" y1="1681.8" x2="1494.4" y2="1681.8" stroke="#000" stroke-width="2"/>
<text x="1453.0" y="1689.6" font-size="20.9">20</text>
<line x1="1488.4" y1="1616.0" x2="1494.4" y2="1616.0" stroke="#000" stroke-width="2"/>
<text x="1453.0" y="1623.8" font-size="20.9">40</text>
<line x1="1488.4" y1="1550.2" x2="1494.4" y2="1550.2" stroke="#000" stroke-width="2"/>
<text x="1453.0" y="1558.0" font-size="20.9">60</text>
<line x1="1488.4" y1="1484.4" x2="1494.4" y2="1484.4" stroke="#000" stroke-width="2"/>
<text x="1453.0" y="1492.2" font-size="20.9">80</text>
<line x1="1488.4" y1="1418.6" x2="1494.4" y2="1418.6" stroke="#000" stroke-width="2"/>
<text x="1441.4" y="1426.4" font-size="20.9">100</text>
<line x1="1494.4" y1="1747.6" x2="1494.4" y2="1753.6" stroke="#000" stroke-width="2"/>
<text x="1488.4" y="1777.2" font-size="20.9">0</text>
<line x1="1553.3" y1="1747.6" x2="1553.3" y2="1753.6" stroke="#000" stroke-width="2"/>
<text x="1547.3" y="1777.2" font-size="20.9">6</text>
<line x1="1612.3" y1="1747.6" x2="1612.3" y2="1753.6" stroke="#000" stroke-width="2"/>
<text x="1600.3" y="1777.2" font-size="20.9">12</text>
<line x1="1671.2" y1="1747.6" x2="1671.2" y2="1753.6" stroke="#000" stroke-width="2"/>
<text x="1659.1" y="1777.2" font-size="20.9">18</text>
<line x1="1730.2" y1="1747.6" x2="1730.2" y2="1753.6" stroke="#000" stroke-width="2"/>
<text x="1718.2" y="1777.2" font-size="20.9">24</text>
<line x1="1789.1" y1="1747.6" x2="1789.1" y2="1753.6" stroke="#000" stroke-width="2"/>
<text x="1777.3" y="1777.2" font-size="20.9">30</text>
<line x1="1848.0" y1="1747.6" x2="1848.0" y2="1753.6" stroke="#000" stroke-width="2"/>
<text x="1836.3" y="1777.2" font-size="20.9">36</text>
<line x1="1907.0" y1="1747.6" x2="1907.0" y2="1753.6" stroke="#000" stroke-width="2"/>
<text x="1895.6" y="1777.2" font-size="20.9">42</text>
<line x1="1965.9" y1="1747.6" x2="1965.9" y2="1753.6" stroke="#000" stroke-width="2"/>
<text x="1954.4" y="1777.2" font-size="20.9">48</text>
<text x="1607.3" y="1805.9" font-size="21.25">Months from Randomization</text>
<text x="1430.4" y="1574.8" font-size="21.26" text-anchor="middle" transform="rotate(-90 1430.4 1574.8)">Disease−free Survival (%)</text>
<text x="1501.1" y="1688.4" font-size="19.34">P = .041</text>
<line x1="1494.4" y1="1583.1" x2="1830.3" y2="1583.1" stroke="#000" stroke-width="1.7" stroke-dasharray="17.7 17.3"/>
<line x1="1684.0" y1="1747.6" x2="1684.0" y2="1583.1" stroke="#000" stroke-width="1.7" stroke-dasharray="17 17.8"/>
<line x1="1830.3" y1="1747.6" x2="1830.3" y2="1583.1" stroke="#000" stroke-width="1.7" stroke-dasharray="17 17.8"/>
<line x1="1730.2" y1="1747.6" x2="1730.2" y2="1524.3" stroke="#1aa0b8" stroke-width="1.7" stroke-dasharray="17.3 17.3" stroke-dashoffset="31"/>
<path d="M1494.4 1418.5H1582.6V1443.2H1587.6V1469.3H1641.9V1519.4H1795.1V1552.1H1830.0V1584.4H1897.3V1747.8" stroke="#0a5fbb" stroke-width="1.9" fill="none"/>
<path d="M1494.4 1418.5H1583.5V1448.6H1635.9V1478.1H1642.8V1508.3H1677.7V1542.2H1683.1V1576.5H1684.1V1610.1H1745.0V1644.7H1763.4V1679.0H1777.0V1712.9H1796.7" stroke="#b92c30" stroke-width="1.9" fill="none"/>
<line x1="1661.2" y1="1503.3" x2="1661.2" y2="1513.3" stroke="#b92c30" stroke-width="1.4"/>
<line x1="1796.7" y1="1707.9" x2="1796.7" y2="1717.9" stroke="#b92c30" stroke-width="1.4"/>
<line x1="1727.9" y1="1514.4" x2="1727.9" y2="1524.4" stroke="#0a5fbb" stroke-width="1.4"/>
<line x1="1792.9" y1="1514.4" x2="1792.9" y2="1524.4" stroke="#0a5fbb" stroke-width="1.4"/>
<line x1="1832.6" y1="1579.4" x2="1832.6" y2="1589.4" stroke="#0a5fbb" stroke-width="1.4"/>
<text x="1765.4" y="1375.0" font-size="20.15">24m DFS (%)</text>
<text x="1787.7" y="1397.5" font-size="20.26">(95% CI)</text>
<text x="1909.4" y="1375.5" font-size="20.1">mDFS</text>
<text x="1917.6" y="1397.5" font-size="20.1">(mo)</text>
<line x1="1759.9" y1="1402.4" x2="1993.4" y2="1402.4" stroke="#000" stroke-width="1.9"/>
<text x="1801.7" y="1422.8" font-size="20.1">69.2</text>
<text x="1683.0" y="1435.4" font-size="20.1">VP</text>
<text x="1773.2" y="1444.7" font-size="20.17">(48.2-99.5)</text>
<text x="1918.7" y="1439.4" font-size="20.1">34.2</text>
<text x="1801.9" y="1469.2" font-size="20.1">41.6</text>
<text x="1682.1" y="1480.5" font-size="20.12">gefitinib</text>
<text x="1773.2" y="1491.5" font-size="20.17">(19.9-86.8)</text>
<text x="1919.2" y="1480.2" font-size="20.1">19.3</text>
<text x="1394.4" y="1826.9" font-size="21.43">No. at Risk</text>
<text x="1438.7" y="1858.6" font-size="20.7" fill="#0a5fbb">VP</text>
<line x1="1470.6" y1="1852.3" x2="1494.2" y2="1852.3" stroke="#0a5fbb" stroke-width="2"/>
<text x="1394.7" y="1880.9" font-size="20.7" fill="#b92c30">gefitinib</text>
<line x1="1470.6" y1="1878.9" x2="1494.2" y2="1878.9" stroke="#b92c30" stroke-width="2"/>
<text x="1499.5" y="1861.5" font-size="20.7">13</text>
<text x="1500.4" y="1884.4" font-size="20.7">11</text>
<text x="1541.5" y="1861.5" font-size="20.7">13</text>
<text x="1542.3" y="1884.4" font-size="20.7">11</text>
<text x="1601.3" y="1861.5" font-size="20.7">11</text>
<text x="1600.4" y="1884.4" font-size="20.7">10</text>
<text x="1665.5" y="1861.5" font-size="20.7">9</text>
<text x="1665.5" y="1884.4" font-size="20.7">7</text>
<text x="1724.4" y="1861.5" font-size="20.7">8</text>
<text x="1724.5" y="1884.4" font-size="20.7">4</text>
<text x="1783.3" y="1861.5" font-size="20.7">8</text>
<text x="1783.0" y="1884.4" font-size="20.7">1</text>
<text x="1842.0" y="1861.5" font-size="20.7">1</text>
<text x="1842.2" y="1884.4" font-size="20.7">0</text>
<text x="1901.2" y="1861.5" font-size="20.7">0</text>
<text x="1901.2" y="1884.4" font-size="20.7">0</text>
<text x="1960.1" y="1861.5" font-size="20.7">0</text>
<text x="1960.1" y="1884.4" font-size="20.7">0</text>
</svg>
</body></html>
